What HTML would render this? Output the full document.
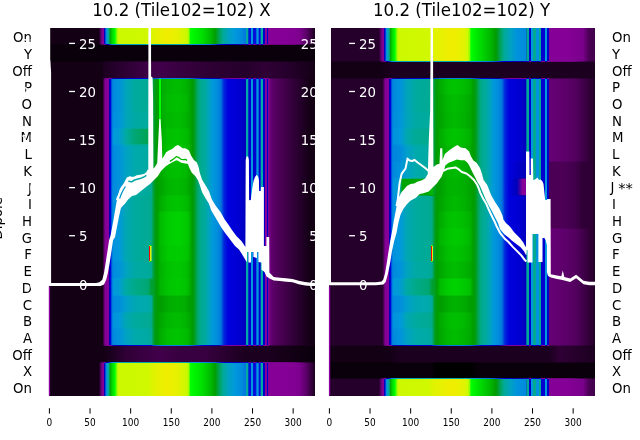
<!DOCTYPE html>
<html><head><meta charset="utf-8"><style>
html,body{margin:0;padding:0;background:#fff;width:640px;height:440px;overflow:hidden}
svg{display:block}
text{font-family:"DejaVu Sans","Liberation Sans",sans-serif}
</style></head><body>
<svg width="640" height="440" viewBox="0 0 640 440" shape-rendering="crispEdges">
<defs><linearGradient id="g1" x1="0" x2="1" y1="0" y2="0"><stop offset="0" stop-color="#130015"/><stop offset="0.1887" stop-color="#130015"/><stop offset="0.198" stop-color="#700080"/><stop offset="0.2056" stop-color="#860097"/><stop offset="0.2082" stop-color="#0300aa"/><stop offset="0.2112" stop-color="#0013dd"/><stop offset="0.215" stop-color="#008add"/><stop offset="0.2217" stop-color="#00a3bf"/><stop offset="0.2262" stop-color="#00aa88"/><stop offset="0.23" stop-color="#00a700"/><stop offset="0.2394" stop-color="#00dc00"/><stop offset="0.2488" stop-color="#00ff00"/><stop offset="0.2563" stop-color="#93ff00"/><stop offset="0.2619" stop-color="#ccf900"/><stop offset="0.3051" stop-color="#ccf900"/><stop offset="0.3728" stop-color="#d0f800"/><stop offset="0.3953" stop-color="#e0f300"/><stop offset="0.4179" stop-color="#e8f000"/><stop offset="0.4404" stop-color="#efed00"/><stop offset="0.463" stop-color="#ecef00"/><stop offset="0.4855" stop-color="#e4f100"/><stop offset="0.5043" stop-color="#d4f700"/><stop offset="0.5194" stop-color="#ccf900"/><stop offset="0.5269" stop-color="#93ff00"/><stop offset="0.5325" stop-color="#00ff00"/><stop offset="0.5494" stop-color="#00f200"/><stop offset="0.5795" stop-color="#00dc00"/><stop offset="0.6058" stop-color="#00bc00"/><stop offset="0.6246" stop-color="#009f00"/><stop offset="0.6396" stop-color="#00a353"/><stop offset="0.6546" stop-color="#00aa95"/><stop offset="0.6734" stop-color="#00a3bf"/><stop offset="0.6997" stop-color="#0098dd"/><stop offset="0.726" stop-color="#008add"/><stop offset="0.7392" stop-color="#0078dd"/><stop offset="0.7403" stop-color="#0013dd"/><stop offset="0.7415" stop-color="#00aaa3"/><stop offset="0.7497" stop-color="#00aaa3"/><stop offset="0.7508" stop-color="#0013dd"/><stop offset="0.7584" stop-color="#0013dd"/><stop offset="0.7595" stop-color="#0098dd"/><stop offset="0.7678" stop-color="#0098dd"/><stop offset="0.7689" stop-color="#0013dd"/><stop offset="0.7798" stop-color="#0013dd"/><stop offset="0.7809" stop-color="#0098dd"/><stop offset="0.7877" stop-color="#0098dd"/><stop offset="0.7888" stop-color="#0013dd"/><stop offset="0.7952" stop-color="#0013dd"/><stop offset="0.7963" stop-color="#00aaa3"/><stop offset="0.8035" stop-color="#00aaa3"/><stop offset="0.8046" stop-color="#0000d1"/><stop offset="0.8106" stop-color="#0000c9"/><stop offset="0.8117" stop-color="#870098"/><stop offset="0.8181" stop-color="#870098"/><stop offset="0.8192" stop-color="#0000d1"/><stop offset="0.8234" stop-color="#0000bd"/><stop offset="0.8249" stop-color="#860097"/><stop offset="0.8876" stop-color="#850096"/><stop offset="0.9215" stop-color="#830094"/><stop offset="0.944" stop-color="#7b008c"/><stop offset="0.9666" stop-color="#5d006b"/><stop offset="0.9853" stop-color="#380040"/><stop offset="1" stop-color="#1c0020"/></linearGradient><linearGradient id="g2" x1="0" x2="1" y1="0" y2="0"><stop offset="0" stop-color="#09000b"/><stop offset="1" stop-color="#09000b"/></linearGradient><linearGradient id="g3" x1="0" x2="1" y1="0" y2="0"><stop offset="0" stop-color="#130015"/><stop offset="0.1999" stop-color="#130015"/><stop offset="0.2074" stop-color="#1c0020"/><stop offset="0.2488" stop-color="#25002b"/><stop offset="0.3427" stop-color="#380040"/><stop offset="0.4179" stop-color="#41004b"/><stop offset="0.493" stop-color="#380040"/><stop offset="0.587" stop-color="#2f0035"/><stop offset="0.7373" stop-color="#25002b"/><stop offset="0.8125" stop-color="#2f0035"/><stop offset="0.9064" stop-color="#25002b"/><stop offset="1" stop-color="#130015"/></linearGradient><linearGradient id="g4" x1="0" x2="1" y1="0" y2="0"><stop offset="0" stop-color="#130015"/><stop offset="0.2029" stop-color="#130015"/><stop offset="0.2074" stop-color="#5d006b"/><stop offset="0.2131" stop-color="#850096"/><stop offset="0.2247" stop-color="#860097"/><stop offset="0.2277" stop-color="#0300aa"/><stop offset="0.2319" stop-color="#0000dd"/><stop offset="0.2375" stop-color="#0078dd"/><stop offset="0.2431" stop-color="#008add"/><stop offset="0.2638" stop-color="#0092dd"/><stop offset="0.2901" stop-color="#00a4bb"/><stop offset="0.3239" stop-color="#00aa9d"/><stop offset="0.3728" stop-color="#00aa95"/><stop offset="0.3859" stop-color="#00aa88"/><stop offset="0.3953" stop-color="#009e28"/><stop offset="0.4066" stop-color="#009c00"/><stop offset="0.4159" stop-color="#00a400"/><stop offset="0.416" stop-color="#00ff00"/><stop offset="0.4228" stop-color="#00ff00"/><stop offset="0.4228" stop-color="#00aa00"/><stop offset="0.448" stop-color="#00b700"/><stop offset="0.4855" stop-color="#00bc00"/><stop offset="0.5156" stop-color="#00b400"/><stop offset="0.5269" stop-color="#00aa00"/><stop offset="0.5381" stop-color="#009c00"/><stop offset="0.5475" stop-color="#009d1d"/><stop offset="0.5569" stop-color="#00a55d"/><stop offset="0.5682" stop-color="#00aa8b"/><stop offset="0.587" stop-color="#00aa9d"/><stop offset="0.602" stop-color="#00a3bf"/><stop offset="0.6171" stop-color="#0098dd"/><stop offset="0.6359" stop-color="#008add"/><stop offset="0.6471" stop-color="#0078dd"/><stop offset="0.6584" stop-color="#0025dd"/><stop offset="0.6734" stop-color="#0000dd"/><stop offset="0.7185" stop-color="#0000d1"/><stop offset="0.7392" stop-color="#0000bd"/><stop offset="0.7403" stop-color="#0000d1"/><stop offset="0.7415" stop-color="#00aaab"/><stop offset="0.7497" stop-color="#00aaab"/><stop offset="0.7508" stop-color="#0000d1"/><stop offset="0.7584" stop-color="#0000d1"/><stop offset="0.7595" stop-color="#0098dd"/><stop offset="0.7678" stop-color="#0098dd"/><stop offset="0.7689" stop-color="#0000d1"/><stop offset="0.7798" stop-color="#0000d1"/><stop offset="0.7809" stop-color="#0098dd"/><stop offset="0.7877" stop-color="#0098dd"/><stop offset="0.7888" stop-color="#0000d1"/><stop offset="0.7952" stop-color="#0000d1"/><stop offset="0.7963" stop-color="#00aaab"/><stop offset="0.8035" stop-color="#00aaab"/><stop offset="0.8046" stop-color="#0000d1"/><stop offset="0.8106" stop-color="#0000c9"/><stop offset="0.8117" stop-color="#870098"/><stop offset="0.8181" stop-color="#870098"/><stop offset="0.8192" stop-color="#0000d1"/><stop offset="0.8234" stop-color="#0000bd"/><stop offset="0.8249" stop-color="#850096"/><stop offset="0.8275" stop-color="#7a008b"/><stop offset="0.8388" stop-color="#5d006b"/><stop offset="0.8688" stop-color="#4b0055"/><stop offset="0.9064" stop-color="#380040"/><stop offset="0.944" stop-color="#25002b"/><stop offset="0.9816" stop-color="#130015"/><stop offset="1" stop-color="#130015"/></linearGradient><linearGradient id="g5" x1="0" x2="1" y1="0" y2="0"><stop offset="0" stop-color="#130015"/><stop offset="0.2029" stop-color="#130015"/><stop offset="0.2074" stop-color="#5d006b"/><stop offset="0.2131" stop-color="#850096"/><stop offset="0.2247" stop-color="#860097"/><stop offset="0.2277" stop-color="#0300aa"/><stop offset="0.2319" stop-color="#0000dd"/><stop offset="0.2375" stop-color="#0078dd"/><stop offset="0.2431" stop-color="#008add"/><stop offset="0.2638" stop-color="#0092dd"/><stop offset="0.2901" stop-color="#00a4bb"/><stop offset="0.3239" stop-color="#00aa9d"/><stop offset="0.3728" stop-color="#00aa95"/><stop offset="0.3859" stop-color="#00aa88"/><stop offset="0.3953" stop-color="#009e28"/><stop offset="0.4066" stop-color="#009c00"/><stop offset="0.4159" stop-color="#00a700"/><stop offset="0.416" stop-color="#00ff00"/><stop offset="0.4228" stop-color="#00ff00"/><stop offset="0.4228" stop-color="#00ac00"/><stop offset="0.448" stop-color="#00bc00"/><stop offset="0.4855" stop-color="#00bf00"/><stop offset="0.5156" stop-color="#00ba00"/><stop offset="0.5269" stop-color="#00ac00"/><stop offset="0.5381" stop-color="#009c00"/><stop offset="0.5475" stop-color="#009d1d"/><stop offset="0.5569" stop-color="#00a55d"/><stop offset="0.5682" stop-color="#00aa8b"/><stop offset="0.587" stop-color="#00aa9d"/><stop offset="0.602" stop-color="#00a3bf"/><stop offset="0.6171" stop-color="#0098dd"/><stop offset="0.6359" stop-color="#008add"/><stop offset="0.6471" stop-color="#0078dd"/><stop offset="0.6584" stop-color="#0025dd"/><stop offset="0.6734" stop-color="#0000dd"/><stop offset="0.7185" stop-color="#0000d1"/><stop offset="0.7392" stop-color="#0000bd"/><stop offset="0.7403" stop-color="#0000d1"/><stop offset="0.7415" stop-color="#00aaab"/><stop offset="0.7497" stop-color="#00aaab"/><stop offset="0.7508" stop-color="#0000d1"/><stop offset="0.7584" stop-color="#0000d1"/><stop offset="0.7595" stop-color="#0098dd"/><stop offset="0.7678" stop-color="#0098dd"/><stop offset="0.7689" stop-color="#0000d1"/><stop offset="0.7798" stop-color="#0000d1"/><stop offset="0.7809" stop-color="#0098dd"/><stop offset="0.7877" stop-color="#0098dd"/><stop offset="0.7888" stop-color="#0000d1"/><stop offset="0.7952" stop-color="#0000d1"/><stop offset="0.7963" stop-color="#00aaab"/><stop offset="0.8035" stop-color="#00aaab"/><stop offset="0.8046" stop-color="#0000d1"/><stop offset="0.8106" stop-color="#0000c9"/><stop offset="0.8117" stop-color="#870098"/><stop offset="0.8181" stop-color="#870098"/><stop offset="0.8192" stop-color="#0000d1"/><stop offset="0.8234" stop-color="#0000bd"/><stop offset="0.8249" stop-color="#850096"/><stop offset="0.8275" stop-color="#7a008b"/><stop offset="0.8388" stop-color="#5d006b"/><stop offset="0.8688" stop-color="#4b0055"/><stop offset="0.9064" stop-color="#380040"/><stop offset="0.944" stop-color="#25002b"/><stop offset="0.9816" stop-color="#130015"/><stop offset="1" stop-color="#130015"/></linearGradient><linearGradient id="g6" x1="0" x2="1" y1="0" y2="0"><stop offset="0" stop-color="#130015"/><stop offset="0.2029" stop-color="#130015"/><stop offset="0.2074" stop-color="#5d006b"/><stop offset="0.2131" stop-color="#850096"/><stop offset="0.2247" stop-color="#860097"/><stop offset="0.2277" stop-color="#0300aa"/><stop offset="0.2319" stop-color="#0000dd"/><stop offset="0.2375" stop-color="#0078dd"/><stop offset="0.2431" stop-color="#008ddd"/><stop offset="0.2638" stop-color="#0095dd"/><stop offset="0.2901" stop-color="#00a4bb"/><stop offset="0.3239" stop-color="#00aaa3"/><stop offset="0.3728" stop-color="#00aa9d"/><stop offset="0.3859" stop-color="#00aa90"/><stop offset="0.3953" stop-color="#009e28"/><stop offset="0.4066" stop-color="#009c00"/><stop offset="0.4159" stop-color="#00a400"/><stop offset="0.416" stop-color="#00ff00"/><stop offset="0.4228" stop-color="#00ff00"/><stop offset="0.4228" stop-color="#00aa00"/><stop offset="0.448" stop-color="#00b700"/><stop offset="0.4855" stop-color="#00bc00"/><stop offset="0.5156" stop-color="#00b400"/><stop offset="0.5269" stop-color="#00aa00"/><stop offset="0.5381" stop-color="#009c00"/><stop offset="0.5475" stop-color="#009d1d"/><stop offset="0.5569" stop-color="#00a55d"/><stop offset="0.5682" stop-color="#00aa8b"/><stop offset="0.587" stop-color="#00aa9d"/><stop offset="0.602" stop-color="#00a3bf"/><stop offset="0.6171" stop-color="#0098dd"/><stop offset="0.6359" stop-color="#008add"/><stop offset="0.6471" stop-color="#0078dd"/><stop offset="0.6584" stop-color="#0025dd"/><stop offset="0.6734" stop-color="#0000dd"/><stop offset="0.7185" stop-color="#0000d1"/><stop offset="0.7392" stop-color="#0000bd"/><stop offset="0.7403" stop-color="#0000d1"/><stop offset="0.7415" stop-color="#00aaab"/><stop offset="0.7497" stop-color="#00aaab"/><stop offset="0.7508" stop-color="#0000d1"/><stop offset="0.7584" stop-color="#0000d1"/><stop offset="0.7595" stop-color="#0098dd"/><stop offset="0.7678" stop-color="#0098dd"/><stop offset="0.7689" stop-color="#0000d1"/><stop offset="0.7798" stop-color="#0000d1"/><stop offset="0.7809" stop-color="#0098dd"/><stop offset="0.7877" stop-color="#0098dd"/><stop offset="0.7888" stop-color="#0000d1"/><stop offset="0.7952" stop-color="#0000d1"/><stop offset="0.7963" stop-color="#00aaab"/><stop offset="0.8035" stop-color="#00aaab"/><stop offset="0.8046" stop-color="#0000d1"/><stop offset="0.8106" stop-color="#0000c9"/><stop offset="0.8117" stop-color="#870098"/><stop offset="0.8181" stop-color="#870098"/><stop offset="0.8192" stop-color="#0000d1"/><stop offset="0.8234" stop-color="#0000bd"/><stop offset="0.8249" stop-color="#850096"/><stop offset="0.8275" stop-color="#7a008b"/><stop offset="0.8388" stop-color="#5d006b"/><stop offset="0.8688" stop-color="#4b0055"/><stop offset="0.9064" stop-color="#380040"/><stop offset="0.944" stop-color="#25002b"/><stop offset="0.9816" stop-color="#130015"/><stop offset="1" stop-color="#130015"/></linearGradient><linearGradient id="g7" x1="0" x2="1" y1="0" y2="0"><stop offset="0" stop-color="#130015"/><stop offset="0.2029" stop-color="#130015"/><stop offset="0.2074" stop-color="#5d006b"/><stop offset="0.2131" stop-color="#850096"/><stop offset="0.2247" stop-color="#860097"/><stop offset="0.2277" stop-color="#0300aa"/><stop offset="0.2319" stop-color="#0000dd"/><stop offset="0.2375" stop-color="#0078dd"/><stop offset="0.2431" stop-color="#0098dd"/><stop offset="0.2638" stop-color="#009cd3"/><stop offset="0.2901" stop-color="#00aaa0"/><stop offset="0.3239" stop-color="#00a773"/><stop offset="0.3728" stop-color="#00a353"/><stop offset="0.3859" stop-color="#009d1d"/><stop offset="0.3953" stop-color="#009e28"/><stop offset="0.4066" stop-color="#009c00"/><stop offset="0.4198" stop-color="#00ac00"/><stop offset="0.448" stop-color="#00bf00"/><stop offset="0.4855" stop-color="#00c400"/><stop offset="0.5156" stop-color="#00bc00"/><stop offset="0.5269" stop-color="#00b200"/><stop offset="0.5381" stop-color="#009c00"/><stop offset="0.5475" stop-color="#009d1d"/><stop offset="0.5569" stop-color="#00a55d"/><stop offset="0.5682" stop-color="#00aa8b"/><stop offset="0.587" stop-color="#00aa9d"/><stop offset="0.602" stop-color="#00a3bf"/><stop offset="0.6171" stop-color="#0098dd"/><stop offset="0.6359" stop-color="#008add"/><stop offset="0.6471" stop-color="#0078dd"/><stop offset="0.6584" stop-color="#0025dd"/><stop offset="0.6734" stop-color="#0000dd"/><stop offset="0.7185" stop-color="#0000d1"/><stop offset="0.7392" stop-color="#0000bd"/><stop offset="0.7403" stop-color="#0000d1"/><stop offset="0.7415" stop-color="#00aaab"/><stop offset="0.7497" stop-color="#00aaab"/><stop offset="0.7508" stop-color="#0000d1"/><stop offset="0.7584" stop-color="#0000d1"/><stop offset="0.7595" stop-color="#0098dd"/><stop offset="0.7678" stop-color="#0098dd"/><stop offset="0.7689" stop-color="#0000d1"/><stop offset="0.7798" stop-color="#0000d1"/><stop offset="0.7809" stop-color="#0098dd"/><stop offset="0.7877" stop-color="#0098dd"/><stop offset="0.7888" stop-color="#0000d1"/><stop offset="0.7952" stop-color="#0000d1"/><stop offset="0.7963" stop-color="#00aaab"/><stop offset="0.8035" stop-color="#00aaab"/><stop offset="0.8046" stop-color="#0000d1"/><stop offset="0.8106" stop-color="#0000c9"/><stop offset="0.8117" stop-color="#870098"/><stop offset="0.8181" stop-color="#870098"/><stop offset="0.8192" stop-color="#0000d1"/><stop offset="0.8234" stop-color="#0000bd"/><stop offset="0.8249" stop-color="#850096"/><stop offset="0.8275" stop-color="#7a008b"/><stop offset="0.8388" stop-color="#5d006b"/><stop offset="0.8688" stop-color="#4b0055"/><stop offset="0.9064" stop-color="#380040"/><stop offset="0.944" stop-color="#25002b"/><stop offset="0.9816" stop-color="#130015"/><stop offset="1" stop-color="#130015"/></linearGradient><linearGradient id="g8" x1="0" x2="1" y1="0" y2="0"><stop offset="0" stop-color="#130015"/><stop offset="0.2029" stop-color="#130015"/><stop offset="0.2074" stop-color="#5d006b"/><stop offset="0.2131" stop-color="#850096"/><stop offset="0.2247" stop-color="#860097"/><stop offset="0.2277" stop-color="#0300aa"/><stop offset="0.2319" stop-color="#0000dd"/><stop offset="0.2375" stop-color="#0078dd"/><stop offset="0.2431" stop-color="#008add"/><stop offset="0.2638" stop-color="#0092dd"/><stop offset="0.2901" stop-color="#00a2c3"/><stop offset="0.3239" stop-color="#00aaab"/><stop offset="0.3728" stop-color="#00aaa3"/><stop offset="0.3859" stop-color="#00aa95"/><stop offset="0.3953" stop-color="#009e28"/><stop offset="0.4066" stop-color="#009c00"/><stop offset="0.4198" stop-color="#00b200"/><stop offset="0.448" stop-color="#00c200"/><stop offset="0.4855" stop-color="#00c700"/><stop offset="0.5156" stop-color="#00bf00"/><stop offset="0.5269" stop-color="#00b400"/><stop offset="0.5381" stop-color="#009c00"/><stop offset="0.5475" stop-color="#009d1d"/><stop offset="0.5569" stop-color="#00a55d"/><stop offset="0.5682" stop-color="#00aa8b"/><stop offset="0.587" stop-color="#00aa9d"/><stop offset="0.602" stop-color="#00a3bf"/><stop offset="0.6171" stop-color="#0098dd"/><stop offset="0.6359" stop-color="#008add"/><stop offset="0.6471" stop-color="#0078dd"/><stop offset="0.6584" stop-color="#0025dd"/><stop offset="0.6734" stop-color="#0000dd"/><stop offset="0.7185" stop-color="#0000d1"/><stop offset="0.7392" stop-color="#0000bd"/><stop offset="0.7403" stop-color="#0000d1"/><stop offset="0.7415" stop-color="#00aaab"/><stop offset="0.7497" stop-color="#00aaab"/><stop offset="0.7508" stop-color="#0000d1"/><stop offset="0.7584" stop-color="#0000d1"/><stop offset="0.7595" stop-color="#0098dd"/><stop offset="0.7678" stop-color="#0098dd"/><stop offset="0.7689" stop-color="#0000d1"/><stop offset="0.7798" stop-color="#0000d1"/><stop offset="0.7809" stop-color="#0098dd"/><stop offset="0.7877" stop-color="#0098dd"/><stop offset="0.7888" stop-color="#0000d1"/><stop offset="0.7952" stop-color="#0000d1"/><stop offset="0.7963" stop-color="#00aaab"/><stop offset="0.8035" stop-color="#00aaab"/><stop offset="0.8046" stop-color="#0000d1"/><stop offset="0.8106" stop-color="#0000c9"/><stop offset="0.8117" stop-color="#870098"/><stop offset="0.8181" stop-color="#870098"/><stop offset="0.8192" stop-color="#0000d1"/><stop offset="0.8234" stop-color="#0000bd"/><stop offset="0.8249" stop-color="#850096"/><stop offset="0.8275" stop-color="#7a008b"/><stop offset="0.8388" stop-color="#5d006b"/><stop offset="0.8688" stop-color="#4b0055"/><stop offset="0.9064" stop-color="#380040"/><stop offset="0.944" stop-color="#25002b"/><stop offset="0.9816" stop-color="#130015"/><stop offset="1" stop-color="#130015"/></linearGradient><linearGradient id="g9" x1="0" x2="1" y1="0" y2="0"><stop offset="0" stop-color="#130015"/><stop offset="0.2029" stop-color="#130015"/><stop offset="0.2074" stop-color="#5d006b"/><stop offset="0.2131" stop-color="#850096"/><stop offset="0.2247" stop-color="#860097"/><stop offset="0.2277" stop-color="#0300aa"/><stop offset="0.2319" stop-color="#0000dd"/><stop offset="0.2375" stop-color="#0078dd"/><stop offset="0.2431" stop-color="#008add"/><stop offset="0.2638" stop-color="#0092dd"/><stop offset="0.2901" stop-color="#00a2c3"/><stop offset="0.3239" stop-color="#00aaab"/><stop offset="0.3728" stop-color="#00aaa3"/><stop offset="0.3859" stop-color="#00aa95"/><stop offset="0.3953" stop-color="#009e28"/><stop offset="0.4066" stop-color="#009c00"/><stop offset="0.4198" stop-color="#00aa00"/><stop offset="0.448" stop-color="#00bc00"/><stop offset="0.4855" stop-color="#00bf00"/><stop offset="0.5156" stop-color="#00ba00"/><stop offset="0.5269" stop-color="#00ac00"/><stop offset="0.5381" stop-color="#009c00"/><stop offset="0.5475" stop-color="#009d1d"/><stop offset="0.5569" stop-color="#00a55d"/><stop offset="0.5682" stop-color="#00aa8b"/><stop offset="0.587" stop-color="#00aa9d"/><stop offset="0.602" stop-color="#00a3bf"/><stop offset="0.6171" stop-color="#0098dd"/><stop offset="0.6359" stop-color="#008add"/><stop offset="0.6471" stop-color="#0078dd"/><stop offset="0.6584" stop-color="#0025dd"/><stop offset="0.6734" stop-color="#0000dd"/><stop offset="0.7185" stop-color="#0000d1"/><stop offset="0.7392" stop-color="#0000bd"/><stop offset="0.7403" stop-color="#0000d1"/><stop offset="0.7415" stop-color="#00aaab"/><stop offset="0.7497" stop-color="#00aaab"/><stop offset="0.7508" stop-color="#0000d1"/><stop offset="0.7584" stop-color="#0000d1"/><stop offset="0.7595" stop-color="#0098dd"/><stop offset="0.7678" stop-color="#0098dd"/><stop offset="0.7689" stop-color="#0000d1"/><stop offset="0.7798" stop-color="#0000d1"/><stop offset="0.7809" stop-color="#0098dd"/><stop offset="0.7877" stop-color="#0098dd"/><stop offset="0.7888" stop-color="#0000d1"/><stop offset="0.7952" stop-color="#0000d1"/><stop offset="0.7963" stop-color="#00aaab"/><stop offset="0.8035" stop-color="#00aaab"/><stop offset="0.8046" stop-color="#0000d1"/><stop offset="0.8106" stop-color="#0000c9"/><stop offset="0.8117" stop-color="#870098"/><stop offset="0.8181" stop-color="#870098"/><stop offset="0.8192" stop-color="#0000d1"/><stop offset="0.8234" stop-color="#0000bd"/><stop offset="0.8249" stop-color="#850096"/><stop offset="0.8275" stop-color="#7a008b"/><stop offset="0.8388" stop-color="#5d006b"/><stop offset="0.8688" stop-color="#4b0055"/><stop offset="0.9064" stop-color="#380040"/><stop offset="0.944" stop-color="#25002b"/><stop offset="0.9816" stop-color="#130015"/><stop offset="1" stop-color="#130015"/></linearGradient><linearGradient id="g10" x1="0" x2="1" y1="0" y2="0"><stop offset="0" stop-color="#130015"/><stop offset="0.2029" stop-color="#130015"/><stop offset="0.2074" stop-color="#5d006b"/><stop offset="0.2131" stop-color="#850096"/><stop offset="0.2247" stop-color="#860097"/><stop offset="0.2277" stop-color="#0300aa"/><stop offset="0.2319" stop-color="#0000dd"/><stop offset="0.2375" stop-color="#0078dd"/><stop offset="0.2431" stop-color="#008add"/><stop offset="0.2638" stop-color="#0092dd"/><stop offset="0.2901" stop-color="#00a3bf"/><stop offset="0.3239" stop-color="#00aaa3"/><stop offset="0.3728" stop-color="#00aa9d"/><stop offset="0.3859" stop-color="#00aa90"/><stop offset="0.3953" stop-color="#009e28"/><stop offset="0.4066" stop-color="#009c00"/><stop offset="0.4198" stop-color="#00a400"/><stop offset="0.448" stop-color="#00b400"/><stop offset="0.4855" stop-color="#00ba00"/><stop offset="0.5156" stop-color="#00b200"/><stop offset="0.5269" stop-color="#00a700"/><stop offset="0.5381" stop-color="#009c00"/><stop offset="0.5475" stop-color="#009d1d"/><stop offset="0.5569" stop-color="#00a55d"/><stop offset="0.5682" stop-color="#00aa8b"/><stop offset="0.587" stop-color="#00aa9d"/><stop offset="0.602" stop-color="#00a3bf"/><stop offset="0.6171" stop-color="#0098dd"/><stop offset="0.6359" stop-color="#008add"/><stop offset="0.6471" stop-color="#0078dd"/><stop offset="0.6584" stop-color="#0025dd"/><stop offset="0.6734" stop-color="#0000dd"/><stop offset="0.7185" stop-color="#0000d1"/><stop offset="0.7392" stop-color="#0000bd"/><stop offset="0.7403" stop-color="#0000d1"/><stop offset="0.7415" stop-color="#00aaab"/><stop offset="0.7497" stop-color="#00aaab"/><stop offset="0.7508" stop-color="#0000d1"/><stop offset="0.7584" stop-color="#0000d1"/><stop offset="0.7595" stop-color="#0098dd"/><stop offset="0.7678" stop-color="#0098dd"/><stop offset="0.7689" stop-color="#0000d1"/><stop offset="0.7798" stop-color="#0000d1"/><stop offset="0.7809" stop-color="#0098dd"/><stop offset="0.7877" stop-color="#0098dd"/><stop offset="0.7888" stop-color="#0000d1"/><stop offset="0.7952" stop-color="#0000d1"/><stop offset="0.7963" stop-color="#00aaab"/><stop offset="0.8035" stop-color="#00aaab"/><stop offset="0.8046" stop-color="#0000d1"/><stop offset="0.8106" stop-color="#0000c9"/><stop offset="0.8117" stop-color="#870098"/><stop offset="0.8181" stop-color="#870098"/><stop offset="0.8192" stop-color="#0000d1"/><stop offset="0.8234" stop-color="#0000bd"/><stop offset="0.8249" stop-color="#850096"/><stop offset="0.8275" stop-color="#7a008b"/><stop offset="0.8388" stop-color="#5d006b"/><stop offset="0.8688" stop-color="#4b0055"/><stop offset="0.9064" stop-color="#380040"/><stop offset="0.944" stop-color="#25002b"/><stop offset="0.9816" stop-color="#130015"/><stop offset="1" stop-color="#130015"/></linearGradient><linearGradient id="g11" x1="0" x2="1" y1="0" y2="0"><stop offset="0" stop-color="#130015"/><stop offset="0.2029" stop-color="#130015"/><stop offset="0.2074" stop-color="#5d006b"/><stop offset="0.2131" stop-color="#850096"/><stop offset="0.2247" stop-color="#860097"/><stop offset="0.2277" stop-color="#0300aa"/><stop offset="0.2319" stop-color="#0000dd"/><stop offset="0.2375" stop-color="#0078dd"/><stop offset="0.2431" stop-color="#0092dd"/><stop offset="0.2638" stop-color="#0098dd"/><stop offset="0.2901" stop-color="#00a7b3"/><stop offset="0.3239" stop-color="#00aa9d"/><stop offset="0.3728" stop-color="#00aa95"/><stop offset="0.3859" stop-color="#00aa88"/><stop offset="0.3953" stop-color="#009e28"/><stop offset="0.4066" stop-color="#009c00"/><stop offset="0.4198" stop-color="#00ac00"/><stop offset="0.448" stop-color="#00bf00"/><stop offset="0.4855" stop-color="#00c400"/><stop offset="0.5156" stop-color="#00bc00"/><stop offset="0.5269" stop-color="#00b200"/><stop offset="0.5381" stop-color="#009c00"/><stop offset="0.5475" stop-color="#009d1d"/><stop offset="0.5569" stop-color="#00a55d"/><stop offset="0.5682" stop-color="#00aa8b"/><stop offset="0.587" stop-color="#00aa9d"/><stop offset="0.602" stop-color="#00a3bf"/><stop offset="0.6171" stop-color="#0098dd"/><stop offset="0.6359" stop-color="#008add"/><stop offset="0.6471" stop-color="#0078dd"/><stop offset="0.6584" stop-color="#0025dd"/><stop offset="0.6734" stop-color="#0000dd"/><stop offset="0.7185" stop-color="#0000d1"/><stop offset="0.7392" stop-color="#0000bd"/><stop offset="0.7403" stop-color="#0000d1"/><stop offset="0.7415" stop-color="#00aaab"/><stop offset="0.7497" stop-color="#00aaab"/><stop offset="0.7508" stop-color="#0000d1"/><stop offset="0.7584" stop-color="#0000d1"/><stop offset="0.7595" stop-color="#0098dd"/><stop offset="0.7678" stop-color="#0098dd"/><stop offset="0.7689" stop-color="#0000d1"/><stop offset="0.7798" stop-color="#0000d1"/><stop offset="0.7809" stop-color="#0098dd"/><stop offset="0.7877" stop-color="#0098dd"/><stop offset="0.7888" stop-color="#0000d1"/><stop offset="0.7952" stop-color="#0000d1"/><stop offset="0.7963" stop-color="#00aaab"/><stop offset="0.8035" stop-color="#00aaab"/><stop offset="0.8046" stop-color="#0000d1"/><stop offset="0.8106" stop-color="#0000c9"/><stop offset="0.8117" stop-color="#870098"/><stop offset="0.8181" stop-color="#870098"/><stop offset="0.8192" stop-color="#0000d1"/><stop offset="0.8234" stop-color="#0000bd"/><stop offset="0.8249" stop-color="#850096"/><stop offset="0.8275" stop-color="#7a008b"/><stop offset="0.8388" stop-color="#5d006b"/><stop offset="0.8688" stop-color="#4b0055"/><stop offset="0.9064" stop-color="#380040"/><stop offset="0.944" stop-color="#25002b"/><stop offset="0.9816" stop-color="#130015"/><stop offset="1" stop-color="#130015"/></linearGradient><linearGradient id="g12" x1="0" x2="1" y1="0" y2="0"><stop offset="0" stop-color="#130015"/><stop offset="0.2029" stop-color="#130015"/><stop offset="0.2074" stop-color="#5d006b"/><stop offset="0.2131" stop-color="#850096"/><stop offset="0.2247" stop-color="#860097"/><stop offset="0.2277" stop-color="#0300aa"/><stop offset="0.2319" stop-color="#0000dd"/><stop offset="0.2375" stop-color="#0078dd"/><stop offset="0.2431" stop-color="#0092dd"/><stop offset="0.2638" stop-color="#0098dd"/><stop offset="0.2901" stop-color="#00a7b3"/><stop offset="0.3239" stop-color="#00aa9d"/><stop offset="0.3728" stop-color="#00aa95"/><stop offset="0.3859" stop-color="#00aa88"/><stop offset="0.3953" stop-color="#009e28"/><stop offset="0.4066" stop-color="#009c00"/><stop offset="0.4198" stop-color="#00bc00"/><stop offset="0.448" stop-color="#00cc00"/><stop offset="0.4855" stop-color="#00d200"/><stop offset="0.5156" stop-color="#00ca00"/><stop offset="0.5269" stop-color="#00bf00"/><stop offset="0.5381" stop-color="#009c00"/><stop offset="0.5475" stop-color="#009d1d"/><stop offset="0.5569" stop-color="#00a55d"/><stop offset="0.5682" stop-color="#00aa8b"/><stop offset="0.587" stop-color="#00aa9d"/><stop offset="0.602" stop-color="#00a3bf"/><stop offset="0.6171" stop-color="#0098dd"/><stop offset="0.6359" stop-color="#008add"/><stop offset="0.6471" stop-color="#0078dd"/><stop offset="0.6584" stop-color="#0025dd"/><stop offset="0.6734" stop-color="#0000dd"/><stop offset="0.7185" stop-color="#0000d1"/><stop offset="0.7392" stop-color="#0000bd"/><stop offset="0.7403" stop-color="#0000d1"/><stop offset="0.7415" stop-color="#00aaab"/><stop offset="0.7497" stop-color="#00aaab"/><stop offset="0.7508" stop-color="#0000d1"/><stop offset="0.7584" stop-color="#0000d1"/><stop offset="0.7595" stop-color="#0098dd"/><stop offset="0.7678" stop-color="#0098dd"/><stop offset="0.7689" stop-color="#0000d1"/><stop offset="0.7798" stop-color="#0000d1"/><stop offset="0.7809" stop-color="#0098dd"/><stop offset="0.7877" stop-color="#0098dd"/><stop offset="0.7888" stop-color="#0000d1"/><stop offset="0.7952" stop-color="#0000d1"/><stop offset="0.7963" stop-color="#00aaab"/><stop offset="0.8035" stop-color="#00aaab"/><stop offset="0.8046" stop-color="#0000d1"/><stop offset="0.8106" stop-color="#0000c9"/><stop offset="0.8117" stop-color="#870098"/><stop offset="0.8181" stop-color="#870098"/><stop offset="0.8192" stop-color="#0000d1"/><stop offset="0.8234" stop-color="#0000bd"/><stop offset="0.8249" stop-color="#850096"/><stop offset="0.8275" stop-color="#7a008b"/><stop offset="0.8388" stop-color="#5d006b"/><stop offset="0.8688" stop-color="#4b0055"/><stop offset="0.9064" stop-color="#380040"/><stop offset="0.944" stop-color="#25002b"/><stop offset="0.9816" stop-color="#130015"/><stop offset="1" stop-color="#130015"/></linearGradient><linearGradient id="g13" x1="0" x2="1" y1="0" y2="0"><stop offset="0" stop-color="#130015"/><stop offset="0.2029" stop-color="#130015"/><stop offset="0.2074" stop-color="#5d006b"/><stop offset="0.2131" stop-color="#850096"/><stop offset="0.2247" stop-color="#860097"/><stop offset="0.2277" stop-color="#0300aa"/><stop offset="0.2319" stop-color="#0000dd"/><stop offset="0.2375" stop-color="#0078dd"/><stop offset="0.2431" stop-color="#0092dd"/><stop offset="0.2638" stop-color="#0098dd"/><stop offset="0.2901" stop-color="#00a7b3"/><stop offset="0.3239" stop-color="#00aa9d"/><stop offset="0.3728" stop-color="#00aa95"/><stop offset="0.3859" stop-color="#00aa88"/><stop offset="0.3953" stop-color="#009e28"/><stop offset="0.4066" stop-color="#009c00"/><stop offset="0.4198" stop-color="#00bc00"/><stop offset="0.448" stop-color="#00cc00"/><stop offset="0.4855" stop-color="#00d200"/><stop offset="0.5156" stop-color="#00ca00"/><stop offset="0.5269" stop-color="#00bf00"/><stop offset="0.5381" stop-color="#009c00"/><stop offset="0.5475" stop-color="#009d1d"/><stop offset="0.5569" stop-color="#00a55d"/><stop offset="0.5682" stop-color="#00aa8b"/><stop offset="0.587" stop-color="#00aa9d"/><stop offset="0.602" stop-color="#00a3bf"/><stop offset="0.6171" stop-color="#0098dd"/><stop offset="0.6359" stop-color="#008add"/><stop offset="0.6471" stop-color="#0078dd"/><stop offset="0.6584" stop-color="#0025dd"/><stop offset="0.6734" stop-color="#0000dd"/><stop offset="0.7185" stop-color="#0000d1"/><stop offset="0.7392" stop-color="#0000bd"/><stop offset="0.7403" stop-color="#0000d1"/><stop offset="0.7415" stop-color="#00aaab"/><stop offset="0.7497" stop-color="#00aaab"/><stop offset="0.7508" stop-color="#0000d1"/><stop offset="0.7584" stop-color="#0000d1"/><stop offset="0.7595" stop-color="#0098dd"/><stop offset="0.7678" stop-color="#0098dd"/><stop offset="0.7689" stop-color="#0000d1"/><stop offset="0.7798" stop-color="#0000d1"/><stop offset="0.7809" stop-color="#0098dd"/><stop offset="0.7877" stop-color="#0098dd"/><stop offset="0.7888" stop-color="#0000d1"/><stop offset="0.7952" stop-color="#0000d1"/><stop offset="0.7963" stop-color="#00aaab"/><stop offset="0.8035" stop-color="#00aaab"/><stop offset="0.8046" stop-color="#0000d1"/><stop offset="0.8106" stop-color="#0000c9"/><stop offset="0.8117" stop-color="#870098"/><stop offset="0.8181" stop-color="#870098"/><stop offset="0.8192" stop-color="#0000d1"/><stop offset="0.8234" stop-color="#0000bd"/><stop offset="0.8249" stop-color="#850096"/><stop offset="0.8275" stop-color="#7a008b"/><stop offset="0.8388" stop-color="#5d006b"/><stop offset="0.8688" stop-color="#4b0055"/><stop offset="0.9064" stop-color="#380040"/><stop offset="0.944" stop-color="#25002b"/><stop offset="0.9816" stop-color="#130015"/><stop offset="1" stop-color="#130015"/></linearGradient><linearGradient id="g14" x1="0" x2="1" y1="0" y2="0"><stop offset="0" stop-color="#130015"/><stop offset="0.2029" stop-color="#130015"/><stop offset="0.2074" stop-color="#5d006b"/><stop offset="0.2131" stop-color="#850096"/><stop offset="0.2247" stop-color="#860097"/><stop offset="0.2277" stop-color="#0300aa"/><stop offset="0.2319" stop-color="#0000dd"/><stop offset="0.2375" stop-color="#0078dd"/><stop offset="0.2431" stop-color="#0092dd"/><stop offset="0.2638" stop-color="#0098dd"/><stop offset="0.2901" stop-color="#00a7b3"/><stop offset="0.3239" stop-color="#00aa9d"/><stop offset="0.3728" stop-color="#00aa95"/><stop offset="0.3761" stop-color="#00aa93"/><stop offset="0.3762" stop-color="#f60000"/><stop offset="0.3799" stop-color="#f60000"/><stop offset="0.38" stop-color="#00aa8d"/><stop offset="0.3806" stop-color="#00aa8d"/><stop offset="0.3807" stop-color="#dcf400"/><stop offset="0.3859" stop-color="#dcf400"/><stop offset="0.386" stop-color="#00aa88"/><stop offset="0.3953" stop-color="#009e28"/><stop offset="0.4066" stop-color="#009c00"/><stop offset="0.4198" stop-color="#00b700"/><stop offset="0.448" stop-color="#00ca00"/><stop offset="0.4855" stop-color="#00cc00"/><stop offset="0.5156" stop-color="#00c700"/><stop offset="0.5269" stop-color="#00bc00"/><stop offset="0.5381" stop-color="#009c00"/><stop offset="0.5475" stop-color="#009d1d"/><stop offset="0.5569" stop-color="#00a55d"/><stop offset="0.5682" stop-color="#00aa8b"/><stop offset="0.587" stop-color="#00aa9d"/><stop offset="0.602" stop-color="#00a3bf"/><stop offset="0.6171" stop-color="#0098dd"/><stop offset="0.6359" stop-color="#008add"/><stop offset="0.6471" stop-color="#0078dd"/><stop offset="0.6584" stop-color="#0025dd"/><stop offset="0.6734" stop-color="#0000dd"/><stop offset="0.7185" stop-color="#0000d1"/><stop offset="0.7392" stop-color="#0000bd"/><stop offset="0.7403" stop-color="#0000d1"/><stop offset="0.7415" stop-color="#00aaab"/><stop offset="0.7497" stop-color="#00aaab"/><stop offset="0.7508" stop-color="#0000d1"/><stop offset="0.7584" stop-color="#0000d1"/><stop offset="0.7595" stop-color="#0098dd"/><stop offset="0.7678" stop-color="#0098dd"/><stop offset="0.7689" stop-color="#0000d1"/><stop offset="0.7798" stop-color="#0000d1"/><stop offset="0.7809" stop-color="#0098dd"/><stop offset="0.7877" stop-color="#0098dd"/><stop offset="0.7888" stop-color="#0000d1"/><stop offset="0.7952" stop-color="#0000d1"/><stop offset="0.7963" stop-color="#00aaab"/><stop offset="0.8035" stop-color="#00aaab"/><stop offset="0.8046" stop-color="#0000d1"/><stop offset="0.8106" stop-color="#0000c9"/><stop offset="0.8117" stop-color="#870098"/><stop offset="0.8181" stop-color="#870098"/><stop offset="0.8192" stop-color="#0000d1"/><stop offset="0.8234" stop-color="#0000bd"/><stop offset="0.8249" stop-color="#850096"/><stop offset="0.8275" stop-color="#7a008b"/><stop offset="0.8388" stop-color="#5d006b"/><stop offset="0.8688" stop-color="#4b0055"/><stop offset="0.9064" stop-color="#380040"/><stop offset="0.944" stop-color="#25002b"/><stop offset="0.9816" stop-color="#130015"/><stop offset="1" stop-color="#130015"/></linearGradient><linearGradient id="g15" x1="0" x2="1" y1="0" y2="0"><stop offset="0" stop-color="#130015"/><stop offset="0.2029" stop-color="#130015"/><stop offset="0.2074" stop-color="#5d006b"/><stop offset="0.2131" stop-color="#850096"/><stop offset="0.2247" stop-color="#860097"/><stop offset="0.2277" stop-color="#0300aa"/><stop offset="0.2319" stop-color="#0000dd"/><stop offset="0.2375" stop-color="#0078dd"/><stop offset="0.2431" stop-color="#008add"/><stop offset="0.2638" stop-color="#0092dd"/><stop offset="0.2901" stop-color="#00a3bf"/><stop offset="0.3239" stop-color="#00aaa3"/><stop offset="0.3728" stop-color="#00aa9d"/><stop offset="0.3859" stop-color="#00aa90"/><stop offset="0.3953" stop-color="#009e28"/><stop offset="0.4066" stop-color="#009c00"/><stop offset="0.4198" stop-color="#00b200"/><stop offset="0.448" stop-color="#00c200"/><stop offset="0.4855" stop-color="#00c700"/><stop offset="0.5156" stop-color="#00bf00"/><stop offset="0.5269" stop-color="#00b400"/><stop offset="0.5381" stop-color="#009c00"/><stop offset="0.5475" stop-color="#009d1d"/><stop offset="0.5569" stop-color="#00a55d"/><stop offset="0.5682" stop-color="#00aa8b"/><stop offset="0.587" stop-color="#00aa9d"/><stop offset="0.602" stop-color="#00a3bf"/><stop offset="0.6171" stop-color="#0098dd"/><stop offset="0.6359" stop-color="#008add"/><stop offset="0.6471" stop-color="#0078dd"/><stop offset="0.6584" stop-color="#0025dd"/><stop offset="0.6734" stop-color="#0000dd"/><stop offset="0.7185" stop-color="#0000d1"/><stop offset="0.7392" stop-color="#0000bd"/><stop offset="0.7403" stop-color="#0000d1"/><stop offset="0.7415" stop-color="#00aaab"/><stop offset="0.7497" stop-color="#00aaab"/><stop offset="0.7508" stop-color="#0000d1"/><stop offset="0.7584" stop-color="#0000d1"/><stop offset="0.7595" stop-color="#0098dd"/><stop offset="0.7678" stop-color="#0098dd"/><stop offset="0.7689" stop-color="#0000d1"/><stop offset="0.7798" stop-color="#0000d1"/><stop offset="0.7809" stop-color="#0098dd"/><stop offset="0.7877" stop-color="#0098dd"/><stop offset="0.7888" stop-color="#0000d1"/><stop offset="0.7952" stop-color="#0000d1"/><stop offset="0.7963" stop-color="#00aaab"/><stop offset="0.8035" stop-color="#00aaab"/><stop offset="0.8046" stop-color="#0000d1"/><stop offset="0.8106" stop-color="#0000c9"/><stop offset="0.8117" stop-color="#870098"/><stop offset="0.8181" stop-color="#870098"/><stop offset="0.8192" stop-color="#0000d1"/><stop offset="0.8234" stop-color="#0000bd"/><stop offset="0.8249" stop-color="#850096"/><stop offset="0.8275" stop-color="#7a008b"/><stop offset="0.8388" stop-color="#5d006b"/><stop offset="0.8688" stop-color="#4b0055"/><stop offset="0.9064" stop-color="#380040"/><stop offset="0.944" stop-color="#25002b"/><stop offset="0.9816" stop-color="#130015"/><stop offset="1" stop-color="#130015"/></linearGradient><linearGradient id="g16" x1="0" x2="1" y1="0" y2="0"><stop offset="0" stop-color="#130015"/><stop offset="0.2029" stop-color="#130015"/><stop offset="0.2074" stop-color="#5d006b"/><stop offset="0.2131" stop-color="#850096"/><stop offset="0.2247" stop-color="#860097"/><stop offset="0.2277" stop-color="#0300aa"/><stop offset="0.2319" stop-color="#0000dd"/><stop offset="0.2375" stop-color="#0078dd"/><stop offset="0.2431" stop-color="#0098dd"/><stop offset="0.2638" stop-color="#009cd3"/><stop offset="0.2901" stop-color="#00aaa3"/><stop offset="0.3239" stop-color="#00aa88"/><stop offset="0.3728" stop-color="#00a773"/><stop offset="0.3859" stop-color="#009f33"/><stop offset="0.3953" stop-color="#009e28"/><stop offset="0.4066" stop-color="#009c00"/><stop offset="0.4198" stop-color="#00b400"/><stop offset="0.448" stop-color="#00c400"/><stop offset="0.4855" stop-color="#00ca00"/><stop offset="0.5156" stop-color="#00c400"/><stop offset="0.5269" stop-color="#00b700"/><stop offset="0.5381" stop-color="#009c00"/><stop offset="0.5475" stop-color="#009d1d"/><stop offset="0.5569" stop-color="#00a55d"/><stop offset="0.5682" stop-color="#00aa8b"/><stop offset="0.587" stop-color="#00aa9d"/><stop offset="0.602" stop-color="#00a3bf"/><stop offset="0.6171" stop-color="#0098dd"/><stop offset="0.6359" stop-color="#008add"/><stop offset="0.6471" stop-color="#0078dd"/><stop offset="0.6584" stop-color="#0025dd"/><stop offset="0.6734" stop-color="#0000dd"/><stop offset="0.7185" stop-color="#0000d1"/><stop offset="0.7392" stop-color="#0000bd"/><stop offset="0.7403" stop-color="#0000d1"/><stop offset="0.7415" stop-color="#00aaab"/><stop offset="0.7497" stop-color="#00aaab"/><stop offset="0.7508" stop-color="#0000d1"/><stop offset="0.7584" stop-color="#0000d1"/><stop offset="0.7595" stop-color="#0098dd"/><stop offset="0.7678" stop-color="#0098dd"/><stop offset="0.7689" stop-color="#0000d1"/><stop offset="0.7798" stop-color="#0000d1"/><stop offset="0.7809" stop-color="#0098dd"/><stop offset="0.7877" stop-color="#0098dd"/><stop offset="0.7888" stop-color="#0000d1"/><stop offset="0.7952" stop-color="#0000d1"/><stop offset="0.7963" stop-color="#00aaab"/><stop offset="0.8035" stop-color="#00aaab"/><stop offset="0.8046" stop-color="#0000d1"/><stop offset="0.8106" stop-color="#0000c9"/><stop offset="0.8117" stop-color="#870098"/><stop offset="0.8181" stop-color="#870098"/><stop offset="0.8192" stop-color="#0000d1"/><stop offset="0.8234" stop-color="#0000bd"/><stop offset="0.8249" stop-color="#850096"/><stop offset="0.8275" stop-color="#7a008b"/><stop offset="0.8388" stop-color="#5d006b"/><stop offset="0.8688" stop-color="#4b0055"/><stop offset="0.9064" stop-color="#380040"/><stop offset="0.944" stop-color="#25002b"/><stop offset="0.9816" stop-color="#130015"/><stop offset="1" stop-color="#130015"/></linearGradient><linearGradient id="g17" x1="0" x2="1" y1="0" y2="0"><stop offset="0" stop-color="#130015"/><stop offset="0.2029" stop-color="#130015"/><stop offset="0.2074" stop-color="#5d006b"/><stop offset="0.2131" stop-color="#850096"/><stop offset="0.2247" stop-color="#860097"/><stop offset="0.2277" stop-color="#0300aa"/><stop offset="0.2319" stop-color="#0000dd"/><stop offset="0.2375" stop-color="#0078dd"/><stop offset="0.2431" stop-color="#0088dd"/><stop offset="0.2638" stop-color="#008ddd"/><stop offset="0.2901" stop-color="#009fcb"/><stop offset="0.3239" stop-color="#00a7b3"/><stop offset="0.3728" stop-color="#00aaab"/><stop offset="0.3859" stop-color="#00aa9d"/><stop offset="0.3953" stop-color="#009e28"/><stop offset="0.4066" stop-color="#009c00"/><stop offset="0.4198" stop-color="#009c00"/><stop offset="0.448" stop-color="#00ac00"/><stop offset="0.4855" stop-color="#00b200"/><stop offset="0.5156" stop-color="#00ac00"/><stop offset="0.5269" stop-color="#009f00"/><stop offset="0.5381" stop-color="#009c00"/><stop offset="0.5475" stop-color="#009d1d"/><stop offset="0.5569" stop-color="#00a55d"/><stop offset="0.5682" stop-color="#00aa8b"/><stop offset="0.587" stop-color="#00aa9d"/><stop offset="0.602" stop-color="#00a3bf"/><stop offset="0.6171" stop-color="#0098dd"/><stop offset="0.6359" stop-color="#008add"/><stop offset="0.6471" stop-color="#0078dd"/><stop offset="0.6584" stop-color="#0025dd"/><stop offset="0.6734" stop-color="#0000dd"/><stop offset="0.7185" stop-color="#0000d1"/><stop offset="0.7392" stop-color="#0000bd"/><stop offset="0.7403" stop-color="#0000d1"/><stop offset="0.7415" stop-color="#00aaab"/><stop offset="0.7497" stop-color="#00aaab"/><stop offset="0.7508" stop-color="#0000d1"/><stop offset="0.7584" stop-color="#0000d1"/><stop offset="0.7595" stop-color="#0098dd"/><stop offset="0.7678" stop-color="#0098dd"/><stop offset="0.7689" stop-color="#0000d1"/><stop offset="0.7798" stop-color="#0000d1"/><stop offset="0.7809" stop-color="#0098dd"/><stop offset="0.7877" stop-color="#0098dd"/><stop offset="0.7888" stop-color="#0000d1"/><stop offset="0.7952" stop-color="#0000d1"/><stop offset="0.7963" stop-color="#00aaab"/><stop offset="0.8035" stop-color="#00aaab"/><stop offset="0.8046" stop-color="#0000d1"/><stop offset="0.8106" stop-color="#0000c9"/><stop offset="0.8117" stop-color="#870098"/><stop offset="0.8181" stop-color="#870098"/><stop offset="0.8192" stop-color="#0000d1"/><stop offset="0.8234" stop-color="#0000bd"/><stop offset="0.8249" stop-color="#850096"/><stop offset="0.8275" stop-color="#7a008b"/><stop offset="0.8388" stop-color="#5d006b"/><stop offset="0.8688" stop-color="#4b0055"/><stop offset="0.9064" stop-color="#380040"/><stop offset="0.944" stop-color="#25002b"/><stop offset="0.9816" stop-color="#130015"/><stop offset="1" stop-color="#130015"/></linearGradient><linearGradient id="g18" x1="0" x2="1" y1="0" y2="0"><stop offset="0" stop-color="#130015"/><stop offset="0.2029" stop-color="#130015"/><stop offset="0.2074" stop-color="#5d006b"/><stop offset="0.2131" stop-color="#850096"/><stop offset="0.2247" stop-color="#860097"/><stop offset="0.2277" stop-color="#0300aa"/><stop offset="0.2319" stop-color="#0000dd"/><stop offset="0.2375" stop-color="#0078dd"/><stop offset="0.2431" stop-color="#0092dd"/><stop offset="0.2638" stop-color="#0098dd"/><stop offset="0.2901" stop-color="#00a7b3"/><stop offset="0.3239" stop-color="#00aa9d"/><stop offset="0.3728" stop-color="#00aa95"/><stop offset="0.3859" stop-color="#00aa88"/><stop offset="0.3953" stop-color="#009e28"/><stop offset="0.4066" stop-color="#009c00"/><stop offset="0.4198" stop-color="#00a700"/><stop offset="0.448" stop-color="#00b700"/><stop offset="0.4855" stop-color="#00bc00"/><stop offset="0.5156" stop-color="#00b400"/><stop offset="0.5269" stop-color="#00aa00"/><stop offset="0.5381" stop-color="#009c00"/><stop offset="0.5475" stop-color="#009d1d"/><stop offset="0.5569" stop-color="#00a55d"/><stop offset="0.5682" stop-color="#00aa8b"/><stop offset="0.587" stop-color="#00aa9d"/><stop offset="0.602" stop-color="#00a3bf"/><stop offset="0.6171" stop-color="#0098dd"/><stop offset="0.6359" stop-color="#008add"/><stop offset="0.6471" stop-color="#0078dd"/><stop offset="0.6584" stop-color="#0025dd"/><stop offset="0.6734" stop-color="#0000dd"/><stop offset="0.7185" stop-color="#0000d1"/><stop offset="0.7392" stop-color="#0000bd"/><stop offset="0.7403" stop-color="#0000d1"/><stop offset="0.7415" stop-color="#00aaab"/><stop offset="0.7497" stop-color="#00aaab"/><stop offset="0.7508" stop-color="#0000d1"/><stop offset="0.7584" stop-color="#0000d1"/><stop offset="0.7595" stop-color="#0098dd"/><stop offset="0.7678" stop-color="#0098dd"/><stop offset="0.7689" stop-color="#0000d1"/><stop offset="0.7798" stop-color="#0000d1"/><stop offset="0.7809" stop-color="#0098dd"/><stop offset="0.7877" stop-color="#0098dd"/><stop offset="0.7888" stop-color="#0000d1"/><stop offset="0.7952" stop-color="#0000d1"/><stop offset="0.7963" stop-color="#00aaab"/><stop offset="0.8035" stop-color="#00aaab"/><stop offset="0.8046" stop-color="#0000d1"/><stop offset="0.8106" stop-color="#0000c9"/><stop offset="0.8117" stop-color="#870098"/><stop offset="0.8181" stop-color="#870098"/><stop offset="0.8192" stop-color="#0000d1"/><stop offset="0.8234" stop-color="#0000bd"/><stop offset="0.8249" stop-color="#850096"/><stop offset="0.8275" stop-color="#7a008b"/><stop offset="0.8388" stop-color="#5d006b"/><stop offset="0.8688" stop-color="#4b0055"/><stop offset="0.9064" stop-color="#380040"/><stop offset="0.944" stop-color="#25002b"/><stop offset="0.9816" stop-color="#130015"/><stop offset="1" stop-color="#130015"/></linearGradient><linearGradient id="g19" x1="0" x2="1" y1="0" y2="0"><stop offset="0" stop-color="#130015"/><stop offset="0.2029" stop-color="#130015"/><stop offset="0.2074" stop-color="#5d006b"/><stop offset="0.2131" stop-color="#850096"/><stop offset="0.2247" stop-color="#860097"/><stop offset="0.2277" stop-color="#0300aa"/><stop offset="0.2319" stop-color="#0000dd"/><stop offset="0.2375" stop-color="#0078dd"/><stop offset="0.2431" stop-color="#008add"/><stop offset="0.2638" stop-color="#0092dd"/><stop offset="0.2901" stop-color="#00a2c3"/><stop offset="0.3239" stop-color="#00aaab"/><stop offset="0.3728" stop-color="#00aaa3"/><stop offset="0.3859" stop-color="#00aa95"/><stop offset="0.3953" stop-color="#009e28"/><stop offset="0.4066" stop-color="#009c00"/><stop offset="0.4198" stop-color="#00ac00"/><stop offset="0.448" stop-color="#00bf00"/><stop offset="0.4855" stop-color="#00c400"/><stop offset="0.5156" stop-color="#00bc00"/><stop offset="0.5269" stop-color="#00b200"/><stop offset="0.5381" stop-color="#009c00"/><stop offset="0.5475" stop-color="#009d1d"/><stop offset="0.5569" stop-color="#00a55d"/><stop offset="0.5682" stop-color="#00aa8b"/><stop offset="0.587" stop-color="#00aa9d"/><stop offset="0.602" stop-color="#00a3bf"/><stop offset="0.6171" stop-color="#0098dd"/><stop offset="0.6359" stop-color="#008add"/><stop offset="0.6471" stop-color="#0078dd"/><stop offset="0.6584" stop-color="#0025dd"/><stop offset="0.6734" stop-color="#0000dd"/><stop offset="0.7185" stop-color="#0000d1"/><stop offset="0.7392" stop-color="#0000bd"/><stop offset="0.7403" stop-color="#0000d1"/><stop offset="0.7415" stop-color="#00aaab"/><stop offset="0.7497" stop-color="#00aaab"/><stop offset="0.7508" stop-color="#0000d1"/><stop offset="0.7584" stop-color="#0000d1"/><stop offset="0.7595" stop-color="#0098dd"/><stop offset="0.7678" stop-color="#0098dd"/><stop offset="0.7689" stop-color="#0000d1"/><stop offset="0.7798" stop-color="#0000d1"/><stop offset="0.7809" stop-color="#0098dd"/><stop offset="0.7877" stop-color="#0098dd"/><stop offset="0.7888" stop-color="#0000d1"/><stop offset="0.7952" stop-color="#0000d1"/><stop offset="0.7963" stop-color="#00aaab"/><stop offset="0.8035" stop-color="#00aaab"/><stop offset="0.8046" stop-color="#0000d1"/><stop offset="0.8106" stop-color="#0000c9"/><stop offset="0.8117" stop-color="#870098"/><stop offset="0.8181" stop-color="#870098"/><stop offset="0.8192" stop-color="#0000d1"/><stop offset="0.8234" stop-color="#0000bd"/><stop offset="0.8249" stop-color="#850096"/><stop offset="0.8275" stop-color="#7a008b"/><stop offset="0.8388" stop-color="#5d006b"/><stop offset="0.8688" stop-color="#4b0055"/><stop offset="0.9064" stop-color="#380040"/><stop offset="0.944" stop-color="#25002b"/><stop offset="0.9816" stop-color="#130015"/><stop offset="1" stop-color="#130015"/></linearGradient><linearGradient id="g20" x1="0" x2="1" y1="0" y2="0"><stop offset="0" stop-color="#130015"/><stop offset="0.2074" stop-color="#130015"/><stop offset="0.2375" stop-color="#1c0020"/><stop offset="0.2864" stop-color="#2f0035"/><stop offset="0.3427" stop-color="#380040"/><stop offset="0.4179" stop-color="#41004b"/><stop offset="0.493" stop-color="#380040"/><stop offset="0.587" stop-color="#380040"/><stop offset="0.6809" stop-color="#25002b"/><stop offset="0.7373" stop-color="#1c0020"/><stop offset="0.8125" stop-color="#1c0020"/><stop offset="0.9064" stop-color="#130015"/><stop offset="1" stop-color="#09000b"/></linearGradient><linearGradient id="g21" x1="0" x2="1" y1="0" y2="0"><stop offset="0" stop-color="#130015"/><stop offset="0.1887" stop-color="#130015"/><stop offset="0.198" stop-color="#700080"/><stop offset="0.2056" stop-color="#860097"/><stop offset="0.2082" stop-color="#0300aa"/><stop offset="0.2112" stop-color="#0013dd"/><stop offset="0.215" stop-color="#008add"/><stop offset="0.2217" stop-color="#00a3bf"/><stop offset="0.2262" stop-color="#00aa88"/><stop offset="0.23" stop-color="#00a700"/><stop offset="0.2394" stop-color="#00dc00"/><stop offset="0.2488" stop-color="#00ff00"/><stop offset="0.2563" stop-color="#93ff00"/><stop offset="0.2619" stop-color="#ccf900"/><stop offset="0.3051" stop-color="#ccf900"/><stop offset="0.3728" stop-color="#d0f800"/><stop offset="0.3953" stop-color="#e0f300"/><stop offset="0.4179" stop-color="#e8f000"/><stop offset="0.4404" stop-color="#efed00"/><stop offset="0.463" stop-color="#ecef00"/><stop offset="0.4855" stop-color="#e4f100"/><stop offset="0.5043" stop-color="#d4f700"/><stop offset="0.5194" stop-color="#ccf900"/><stop offset="0.5269" stop-color="#93ff00"/><stop offset="0.5325" stop-color="#00ff00"/><stop offset="0.5494" stop-color="#00f200"/><stop offset="0.5795" stop-color="#00dc00"/><stop offset="0.6058" stop-color="#00bc00"/><stop offset="0.6246" stop-color="#009f00"/><stop offset="0.6396" stop-color="#00a353"/><stop offset="0.6546" stop-color="#00aa95"/><stop offset="0.6734" stop-color="#00a3bf"/><stop offset="0.6997" stop-color="#0098dd"/><stop offset="0.726" stop-color="#008add"/><stop offset="0.7392" stop-color="#0078dd"/><stop offset="0.7403" stop-color="#0013dd"/><stop offset="0.7415" stop-color="#00aaa3"/><stop offset="0.7497" stop-color="#00aaa3"/><stop offset="0.7508" stop-color="#0013dd"/><stop offset="0.7584" stop-color="#0013dd"/><stop offset="0.7595" stop-color="#0098dd"/><stop offset="0.7678" stop-color="#0098dd"/><stop offset="0.7689" stop-color="#0013dd"/><stop offset="0.7798" stop-color="#0013dd"/><stop offset="0.7809" stop-color="#0098dd"/><stop offset="0.7877" stop-color="#0098dd"/><stop offset="0.7888" stop-color="#0013dd"/><stop offset="0.7952" stop-color="#0013dd"/><stop offset="0.7963" stop-color="#00aaa3"/><stop offset="0.8035" stop-color="#00aaa3"/><stop offset="0.8046" stop-color="#0000d1"/><stop offset="0.8106" stop-color="#0000c9"/><stop offset="0.8117" stop-color="#870098"/><stop offset="0.8181" stop-color="#870098"/><stop offset="0.8192" stop-color="#0000d1"/><stop offset="0.8234" stop-color="#0000bd"/><stop offset="0.8249" stop-color="#860097"/><stop offset="0.8876" stop-color="#850096"/><stop offset="0.9215" stop-color="#830094"/><stop offset="0.944" stop-color="#7b008c"/><stop offset="0.9666" stop-color="#5d006b"/><stop offset="0.9853" stop-color="#380040"/><stop offset="1" stop-color="#1c0020"/></linearGradient><linearGradient id="g22" x1="0" x2="1" y1="0" y2="0"><stop offset="0" stop-color="#130015"/><stop offset="0.1887" stop-color="#130015"/><stop offset="0.198" stop-color="#700080"/><stop offset="0.2056" stop-color="#860097"/><stop offset="0.2082" stop-color="#0300aa"/><stop offset="0.2112" stop-color="#0013dd"/><stop offset="0.215" stop-color="#008add"/><stop offset="0.2217" stop-color="#00a3bf"/><stop offset="0.2262" stop-color="#00aa88"/><stop offset="0.23" stop-color="#00a700"/><stop offset="0.2394" stop-color="#00dc00"/><stop offset="0.2488" stop-color="#00ff00"/><stop offset="0.2563" stop-color="#93ff00"/><stop offset="0.2619" stop-color="#ccf900"/><stop offset="0.3051" stop-color="#ccf900"/><stop offset="0.3728" stop-color="#d0f800"/><stop offset="0.3953" stop-color="#e0f300"/><stop offset="0.4179" stop-color="#e8f000"/><stop offset="0.4404" stop-color="#efed00"/><stop offset="0.463" stop-color="#ecef00"/><stop offset="0.4855" stop-color="#e4f100"/><stop offset="0.5043" stop-color="#d4f700"/><stop offset="0.5194" stop-color="#ccf900"/><stop offset="0.5269" stop-color="#93ff00"/><stop offset="0.5325" stop-color="#00ff00"/><stop offset="0.5494" stop-color="#00f200"/><stop offset="0.5795" stop-color="#00dc00"/><stop offset="0.6058" stop-color="#00bc00"/><stop offset="0.6246" stop-color="#009f00"/><stop offset="0.6396" stop-color="#00a353"/><stop offset="0.6546" stop-color="#00aa95"/><stop offset="0.6734" stop-color="#00a3bf"/><stop offset="0.6997" stop-color="#0098dd"/><stop offset="0.726" stop-color="#008add"/><stop offset="0.7392" stop-color="#0078dd"/><stop offset="0.7403" stop-color="#0013dd"/><stop offset="0.7415" stop-color="#00aaa3"/><stop offset="0.7497" stop-color="#00aaa3"/><stop offset="0.7508" stop-color="#0013dd"/><stop offset="0.7584" stop-color="#0013dd"/><stop offset="0.7595" stop-color="#0098dd"/><stop offset="0.7678" stop-color="#0098dd"/><stop offset="0.7689" stop-color="#0013dd"/><stop offset="0.7798" stop-color="#0013dd"/><stop offset="0.7809" stop-color="#0098dd"/><stop offset="0.7877" stop-color="#0098dd"/><stop offset="0.7888" stop-color="#0013dd"/><stop offset="0.7952" stop-color="#0013dd"/><stop offset="0.7963" stop-color="#00aaa3"/><stop offset="0.8035" stop-color="#00aaa3"/><stop offset="0.8046" stop-color="#0000d1"/><stop offset="0.8106" stop-color="#0000c9"/><stop offset="0.8117" stop-color="#870098"/><stop offset="0.8181" stop-color="#870098"/><stop offset="0.8192" stop-color="#0000d1"/><stop offset="0.8234" stop-color="#0000bd"/><stop offset="0.8249" stop-color="#860097"/><stop offset="0.8876" stop-color="#850096"/><stop offset="0.9215" stop-color="#830094"/><stop offset="0.944" stop-color="#7b008c"/><stop offset="0.9666" stop-color="#5d006b"/><stop offset="0.9853" stop-color="#380040"/><stop offset="1" stop-color="#1c0020"/></linearGradient><linearGradient id="g23" x1="0" x2="1" y1="0" y2="0"><stop offset="0" stop-color="#25002b"/><stop offset="0.1883" stop-color="#25002b"/><stop offset="0.1977" stop-color="#700080"/><stop offset="0.2056" stop-color="#860097"/><stop offset="0.2078" stop-color="#0300aa"/><stop offset="0.2116" stop-color="#0013dd"/><stop offset="0.2146" stop-color="#008add"/><stop offset="0.2221" stop-color="#00a3bf"/><stop offset="0.227" stop-color="#00aa88"/><stop offset="0.2307" stop-color="#00a700"/><stop offset="0.239" stop-color="#00dc00"/><stop offset="0.2484" stop-color="#00ff00"/><stop offset="0.2559" stop-color="#93ff00"/><stop offset="0.2616" stop-color="#ccf900"/><stop offset="0.3724" stop-color="#d0f800"/><stop offset="0.395" stop-color="#e0f300"/><stop offset="0.425" stop-color="#e8f000"/><stop offset="0.4551" stop-color="#efed00"/><stop offset="0.4852" stop-color="#ecef00"/><stop offset="0.5077" stop-color="#e0f300"/><stop offset="0.5209" stop-color="#d0f800"/><stop offset="0.5284" stop-color="#93ff00"/><stop offset="0.534" stop-color="#00ff00"/><stop offset="0.5528" stop-color="#00ea00"/><stop offset="0.5829" stop-color="#00cf00"/><stop offset="0.6092" stop-color="#00b400"/><stop offset="0.628" stop-color="#009a00"/><stop offset="0.643" stop-color="#00a353"/><stop offset="0.658" stop-color="#00aa95"/><stop offset="0.6806" stop-color="#00a3bf"/><stop offset="0.7069" stop-color="#0092dd"/><stop offset="0.7407" stop-color="#008add"/><stop offset="0.7418" stop-color="#0013dd"/><stop offset="0.743" stop-color="#00aa95"/><stop offset="0.7516" stop-color="#00aa95"/><stop offset="0.7527" stop-color="#0000d1"/><stop offset="0.7587" stop-color="#0000d1"/><stop offset="0.7599" stop-color="#0098dd"/><stop offset="0.767" stop-color="#0098dd"/><stop offset="0.7681" stop-color="#00aa90"/><stop offset="0.7775" stop-color="#00aa90"/><stop offset="0.7787" stop-color="#0092dd"/><stop offset="0.7896" stop-color="#0092dd"/><stop offset="0.7907" stop-color="#00aa95"/><stop offset="0.7971" stop-color="#00aa95"/><stop offset="0.7982" stop-color="#0000d1"/><stop offset="0.8113" stop-color="#0000d1"/><stop offset="0.8125" stop-color="#0098dd"/><stop offset="0.8192" stop-color="#0098dd"/><stop offset="0.8204" stop-color="#0000c9"/><stop offset="0.8264" stop-color="#0000c9"/><stop offset="0.8275" stop-color="#850096"/><stop offset="0.8985" stop-color="#850096"/><stop offset="0.9286" stop-color="#7f0090"/><stop offset="0.9549" stop-color="#79008a"/><stop offset="0.9775" stop-color="#4b0055"/><stop offset="1" stop-color="#41004b"/></linearGradient><linearGradient id="g24" x1="0" x2="1" y1="0" y2="0"><stop offset="0" stop-color="#25002b"/><stop offset="0.1883" stop-color="#25002b"/><stop offset="0.1977" stop-color="#700080"/><stop offset="0.2056" stop-color="#860097"/><stop offset="0.2078" stop-color="#0300aa"/><stop offset="0.2116" stop-color="#0013dd"/><stop offset="0.2146" stop-color="#008add"/><stop offset="0.2221" stop-color="#00a3bf"/><stop offset="0.227" stop-color="#00aa88"/><stop offset="0.2307" stop-color="#00a700"/><stop offset="0.239" stop-color="#00dc00"/><stop offset="0.2484" stop-color="#00ff00"/><stop offset="0.2559" stop-color="#93ff00"/><stop offset="0.2616" stop-color="#ccf900"/><stop offset="0.3724" stop-color="#d0f800"/><stop offset="0.395" stop-color="#e0f300"/><stop offset="0.425" stop-color="#e8f000"/><stop offset="0.4551" stop-color="#efed00"/><stop offset="0.4852" stop-color="#ecef00"/><stop offset="0.5077" stop-color="#e0f300"/><stop offset="0.5209" stop-color="#d0f800"/><stop offset="0.5284" stop-color="#93ff00"/><stop offset="0.534" stop-color="#00ff00"/><stop offset="0.5528" stop-color="#00ea00"/><stop offset="0.5829" stop-color="#00cf00"/><stop offset="0.6092" stop-color="#00b400"/><stop offset="0.628" stop-color="#009a00"/><stop offset="0.643" stop-color="#00a353"/><stop offset="0.658" stop-color="#00aa95"/><stop offset="0.6806" stop-color="#00a3bf"/><stop offset="0.7069" stop-color="#0092dd"/><stop offset="0.7407" stop-color="#008add"/><stop offset="0.7418" stop-color="#0013dd"/><stop offset="0.743" stop-color="#00aa95"/><stop offset="0.7516" stop-color="#00aa95"/><stop offset="0.7527" stop-color="#0000d1"/><stop offset="0.7587" stop-color="#0000d1"/><stop offset="0.7599" stop-color="#0098dd"/><stop offset="0.767" stop-color="#0098dd"/><stop offset="0.7681" stop-color="#00aa90"/><stop offset="0.7775" stop-color="#00aa90"/><stop offset="0.7787" stop-color="#0092dd"/><stop offset="0.7896" stop-color="#0092dd"/><stop offset="0.7907" stop-color="#00aa95"/><stop offset="0.7971" stop-color="#00aa95"/><stop offset="0.7982" stop-color="#0000d1"/><stop offset="0.8113" stop-color="#0000d1"/><stop offset="0.8125" stop-color="#0098dd"/><stop offset="0.8192" stop-color="#0098dd"/><stop offset="0.8204" stop-color="#0000c9"/><stop offset="0.8264" stop-color="#0000c9"/><stop offset="0.8275" stop-color="#850096"/><stop offset="0.8985" stop-color="#850096"/><stop offset="0.9286" stop-color="#7f0090"/><stop offset="0.9549" stop-color="#79008a"/><stop offset="0.9775" stop-color="#4b0055"/><stop offset="1" stop-color="#41004b"/></linearGradient><linearGradient id="g25" x1="0" x2="1" y1="0" y2="0"><stop offset="0" stop-color="#130015"/><stop offset="0.192" stop-color="#130015"/><stop offset="0.2484" stop-color="#1c0020"/><stop offset="1" stop-color="#1c0020"/></linearGradient><linearGradient id="g26" x1="0" x2="1" y1="0" y2="0"><stop offset="0" stop-color="#25002b"/><stop offset="0.2026" stop-color="#25002b"/><stop offset="0.2071" stop-color="#5d006b"/><stop offset="0.2127" stop-color="#850096"/><stop offset="0.2244" stop-color="#860097"/><stop offset="0.2274" stop-color="#0300aa"/><stop offset="0.2315" stop-color="#0000dd"/><stop offset="0.2371" stop-color="#0078dd"/><stop offset="0.2428" stop-color="#008add"/><stop offset="0.2672" stop-color="#0092dd"/><stop offset="0.2935" stop-color="#00a4bb"/><stop offset="0.3273" stop-color="#00aa9d"/><stop offset="0.3762" stop-color="#00aa95"/><stop offset="0.3874" stop-color="#00aa88"/><stop offset="0.3968" stop-color="#009e28"/><stop offset="0.4062" stop-color="#009c00"/><stop offset="0.4194" stop-color="#00ac00"/><stop offset="0.4476" stop-color="#00bf00"/><stop offset="0.4739" stop-color="#00c400"/><stop offset="0.5077" stop-color="#00bc00"/><stop offset="0.5303" stop-color="#00b200"/><stop offset="0.5434" stop-color="#009c00"/><stop offset="0.5528" stop-color="#009d1d"/><stop offset="0.5622" stop-color="#00a55d"/><stop offset="0.5716" stop-color="#00aa8b"/><stop offset="0.5904" stop-color="#00aa9d"/><stop offset="0.6054" stop-color="#00a3bf"/><stop offset="0.6204" stop-color="#0098dd"/><stop offset="0.6392" stop-color="#008add"/><stop offset="0.6505" stop-color="#0078dd"/><stop offset="0.6618" stop-color="#0025dd"/><stop offset="0.6768" stop-color="#0000dd"/><stop offset="0.7219" stop-color="#0000d1"/><stop offset="0.7407" stop-color="#0000bd"/><stop offset="0.7418" stop-color="#0000d1"/><stop offset="0.743" stop-color="#00aa95"/><stop offset="0.7516" stop-color="#00aa95"/><stop offset="0.7527" stop-color="#0000d1"/><stop offset="0.7587" stop-color="#0000d1"/><stop offset="0.7599" stop-color="#0098dd"/><stop offset="0.767" stop-color="#0098dd"/><stop offset="0.7681" stop-color="#00aa90"/><stop offset="0.7775" stop-color="#00aa90"/><stop offset="0.7787" stop-color="#0092dd"/><stop offset="0.7896" stop-color="#0092dd"/><stop offset="0.7907" stop-color="#00aa95"/><stop offset="0.7971" stop-color="#00aa95"/><stop offset="0.7982" stop-color="#0000d1"/><stop offset="0.8113" stop-color="#0000d1"/><stop offset="0.8125" stop-color="#0098dd"/><stop offset="0.8192" stop-color="#0098dd"/><stop offset="0.8204" stop-color="#0000c9"/><stop offset="0.8264" stop-color="#0000c9"/><stop offset="0.8275" stop-color="#850096"/><stop offset="0.8279" stop-color="#670075"/><stop offset="0.8873" stop-color="#5d006b"/><stop offset="0.9248" stop-color="#540060"/><stop offset="0.9549" stop-color="#41004b"/><stop offset="0.9812" stop-color="#2f0035"/><stop offset="1" stop-color="#25002b"/></linearGradient><linearGradient id="g27" x1="0" x2="1" y1="0" y2="0"><stop offset="0" stop-color="#25002b"/><stop offset="0.2026" stop-color="#25002b"/><stop offset="0.2071" stop-color="#5d006b"/><stop offset="0.2127" stop-color="#850096"/><stop offset="0.2244" stop-color="#860097"/><stop offset="0.2274" stop-color="#0300aa"/><stop offset="0.2315" stop-color="#0000dd"/><stop offset="0.2371" stop-color="#0078dd"/><stop offset="0.2428" stop-color="#008add"/><stop offset="0.2672" stop-color="#0092dd"/><stop offset="0.2935" stop-color="#00a4bb"/><stop offset="0.3273" stop-color="#00aa9d"/><stop offset="0.3762" stop-color="#00aa95"/><stop offset="0.3874" stop-color="#00aa88"/><stop offset="0.3968" stop-color="#009e28"/><stop offset="0.4062" stop-color="#009c00"/><stop offset="0.4194" stop-color="#00a700"/><stop offset="0.4476" stop-color="#00b700"/><stop offset="0.4739" stop-color="#00bc00"/><stop offset="0.5077" stop-color="#00b400"/><stop offset="0.5303" stop-color="#00aa00"/><stop offset="0.5434" stop-color="#009c00"/><stop offset="0.5528" stop-color="#009d1d"/><stop offset="0.5622" stop-color="#00a55d"/><stop offset="0.5716" stop-color="#00aa8b"/><stop offset="0.5904" stop-color="#00aa9d"/><stop offset="0.6054" stop-color="#00a3bf"/><stop offset="0.6204" stop-color="#0098dd"/><stop offset="0.6392" stop-color="#008add"/><stop offset="0.6505" stop-color="#0078dd"/><stop offset="0.6618" stop-color="#0025dd"/><stop offset="0.6768" stop-color="#0000dd"/><stop offset="0.7219" stop-color="#0000d1"/><stop offset="0.7407" stop-color="#0000bd"/><stop offset="0.7418" stop-color="#0000d1"/><stop offset="0.743" stop-color="#00aa95"/><stop offset="0.7516" stop-color="#00aa95"/><stop offset="0.7527" stop-color="#0000d1"/><stop offset="0.7587" stop-color="#0000d1"/><stop offset="0.7599" stop-color="#0098dd"/><stop offset="0.767" stop-color="#0098dd"/><stop offset="0.7681" stop-color="#00aa90"/><stop offset="0.7775" stop-color="#00aa90"/><stop offset="0.7787" stop-color="#0092dd"/><stop offset="0.7896" stop-color="#0092dd"/><stop offset="0.7907" stop-color="#00aa95"/><stop offset="0.7971" stop-color="#00aa95"/><stop offset="0.7982" stop-color="#0000d1"/><stop offset="0.8113" stop-color="#0000d1"/><stop offset="0.8125" stop-color="#0098dd"/><stop offset="0.8192" stop-color="#0098dd"/><stop offset="0.8204" stop-color="#0000c9"/><stop offset="0.8264" stop-color="#0000c9"/><stop offset="0.8275" stop-color="#850096"/><stop offset="0.8279" stop-color="#670075"/><stop offset="0.8873" stop-color="#5d006b"/><stop offset="0.9248" stop-color="#540060"/><stop offset="0.9549" stop-color="#41004b"/><stop offset="0.9812" stop-color="#2f0035"/><stop offset="1" stop-color="#25002b"/></linearGradient><linearGradient id="g28" x1="0" x2="1" y1="0" y2="0"><stop offset="0" stop-color="#25002b"/><stop offset="0.2026" stop-color="#25002b"/><stop offset="0.2071" stop-color="#5d006b"/><stop offset="0.2127" stop-color="#850096"/><stop offset="0.2244" stop-color="#860097"/><stop offset="0.2274" stop-color="#0300aa"/><stop offset="0.2315" stop-color="#0000dd"/><stop offset="0.2371" stop-color="#0078dd"/><stop offset="0.2428" stop-color="#008ddd"/><stop offset="0.2672" stop-color="#0095dd"/><stop offset="0.2935" stop-color="#00a4bb"/><stop offset="0.3273" stop-color="#00aaa3"/><stop offset="0.3762" stop-color="#00aa9d"/><stop offset="0.3874" stop-color="#00aa90"/><stop offset="0.3968" stop-color="#009e28"/><stop offset="0.4062" stop-color="#009c00"/><stop offset="0.4194" stop-color="#00a400"/><stop offset="0.4476" stop-color="#00b400"/><stop offset="0.4739" stop-color="#00ba00"/><stop offset="0.5077" stop-color="#00b200"/><stop offset="0.5303" stop-color="#00a700"/><stop offset="0.5434" stop-color="#009c00"/><stop offset="0.5528" stop-color="#009d1d"/><stop offset="0.5622" stop-color="#00a55d"/><stop offset="0.5716" stop-color="#00aa8b"/><stop offset="0.5904" stop-color="#00aa9d"/><stop offset="0.6054" stop-color="#00a3bf"/><stop offset="0.6204" stop-color="#0098dd"/><stop offset="0.6392" stop-color="#008add"/><stop offset="0.6505" stop-color="#0078dd"/><stop offset="0.6618" stop-color="#0025dd"/><stop offset="0.6768" stop-color="#0000dd"/><stop offset="0.7219" stop-color="#0000d1"/><stop offset="0.7407" stop-color="#0000bd"/><stop offset="0.7418" stop-color="#0000d1"/><stop offset="0.743" stop-color="#00aa95"/><stop offset="0.7516" stop-color="#00aa95"/><stop offset="0.7527" stop-color="#0000d1"/><stop offset="0.7587" stop-color="#0000d1"/><stop offset="0.7599" stop-color="#0098dd"/><stop offset="0.767" stop-color="#0098dd"/><stop offset="0.7681" stop-color="#00aa90"/><stop offset="0.7775" stop-color="#00aa90"/><stop offset="0.7787" stop-color="#0092dd"/><stop offset="0.7896" stop-color="#0092dd"/><stop offset="0.7907" stop-color="#00aa95"/><stop offset="0.7971" stop-color="#00aa95"/><stop offset="0.7982" stop-color="#0000d1"/><stop offset="0.8113" stop-color="#0000d1"/><stop offset="0.8125" stop-color="#0098dd"/><stop offset="0.8192" stop-color="#0098dd"/><stop offset="0.8204" stop-color="#0000c9"/><stop offset="0.8264" stop-color="#0000c9"/><stop offset="0.8275" stop-color="#850096"/><stop offset="0.8279" stop-color="#670075"/><stop offset="0.8873" stop-color="#5d006b"/><stop offset="0.9248" stop-color="#540060"/><stop offset="0.9549" stop-color="#41004b"/><stop offset="0.9812" stop-color="#2f0035"/><stop offset="1" stop-color="#25002b"/></linearGradient><linearGradient id="g29" x1="0" x2="1" y1="0" y2="0"><stop offset="0" stop-color="#25002b"/><stop offset="0.2026" stop-color="#25002b"/><stop offset="0.2071" stop-color="#5d006b"/><stop offset="0.2127" stop-color="#850096"/><stop offset="0.2244" stop-color="#860097"/><stop offset="0.2274" stop-color="#0300aa"/><stop offset="0.2315" stop-color="#0000dd"/><stop offset="0.2371" stop-color="#0078dd"/><stop offset="0.2428" stop-color="#0092dd"/><stop offset="0.2672" stop-color="#0098dd"/><stop offset="0.2935" stop-color="#00a8af"/><stop offset="0.3273" stop-color="#00aa95"/><stop offset="0.3762" stop-color="#00aa90"/><stop offset="0.3874" stop-color="#00a773"/><stop offset="0.3968" stop-color="#009e28"/><stop offset="0.4062" stop-color="#009c00"/><stop offset="0.4194" stop-color="#00ac00"/><stop offset="0.4476" stop-color="#00bf00"/><stop offset="0.4739" stop-color="#00c400"/><stop offset="0.5077" stop-color="#00bc00"/><stop offset="0.5303" stop-color="#00b200"/><stop offset="0.5434" stop-color="#009c00"/><stop offset="0.5528" stop-color="#009d1d"/><stop offset="0.5622" stop-color="#00a55d"/><stop offset="0.5716" stop-color="#00aa8b"/><stop offset="0.5904" stop-color="#00aa9d"/><stop offset="0.6054" stop-color="#00a3bf"/><stop offset="0.6204" stop-color="#0098dd"/><stop offset="0.6392" stop-color="#008add"/><stop offset="0.6505" stop-color="#0078dd"/><stop offset="0.6618" stop-color="#0025dd"/><stop offset="0.6768" stop-color="#0000dd"/><stop offset="0.7219" stop-color="#0000d1"/><stop offset="0.7407" stop-color="#0000bd"/><stop offset="0.7418" stop-color="#0000d1"/><stop offset="0.743" stop-color="#00aa95"/><stop offset="0.7516" stop-color="#00aa95"/><stop offset="0.7527" stop-color="#0000d1"/><stop offset="0.7587" stop-color="#0000d1"/><stop offset="0.7599" stop-color="#0098dd"/><stop offset="0.767" stop-color="#0098dd"/><stop offset="0.7681" stop-color="#00aa90"/><stop offset="0.7775" stop-color="#00aa90"/><stop offset="0.7787" stop-color="#0092dd"/><stop offset="0.7896" stop-color="#0092dd"/><stop offset="0.7907" stop-color="#00aa95"/><stop offset="0.7971" stop-color="#00aa95"/><stop offset="0.7982" stop-color="#0000d1"/><stop offset="0.8113" stop-color="#0000d1"/><stop offset="0.8125" stop-color="#0098dd"/><stop offset="0.8192" stop-color="#0098dd"/><stop offset="0.8204" stop-color="#0000c9"/><stop offset="0.8264" stop-color="#0000c9"/><stop offset="0.8275" stop-color="#850096"/><stop offset="0.8279" stop-color="#670075"/><stop offset="0.8873" stop-color="#5d006b"/><stop offset="0.9248" stop-color="#540060"/><stop offset="0.9549" stop-color="#41004b"/><stop offset="0.9812" stop-color="#2f0035"/><stop offset="1" stop-color="#25002b"/></linearGradient><linearGradient id="g30" x1="0" x2="1" y1="0" y2="0"><stop offset="0" stop-color="#25002b"/><stop offset="0.2026" stop-color="#25002b"/><stop offset="0.2071" stop-color="#5d006b"/><stop offset="0.2127" stop-color="#850096"/><stop offset="0.2244" stop-color="#860097"/><stop offset="0.2274" stop-color="#0300aa"/><stop offset="0.2315" stop-color="#0000dd"/><stop offset="0.2371" stop-color="#0078dd"/><stop offset="0.2428" stop-color="#0085dd"/><stop offset="0.2672" stop-color="#008add"/><stop offset="0.2935" stop-color="#009fcb"/><stop offset="0.3273" stop-color="#00aaab"/><stop offset="0.3762" stop-color="#00aaa3"/><stop offset="0.3874" stop-color="#00aa95"/><stop offset="0.3968" stop-color="#009e28"/><stop offset="0.4062" stop-color="#009c00"/><stop offset="0.4194" stop-color="#00a700"/><stop offset="0.4476" stop-color="#00b700"/><stop offset="0.4739" stop-color="#00bc00"/><stop offset="0.5077" stop-color="#00b400"/><stop offset="0.5303" stop-color="#00aa00"/><stop offset="0.5434" stop-color="#009c00"/><stop offset="0.5528" stop-color="#009d1d"/><stop offset="0.5622" stop-color="#00a55d"/><stop offset="0.5716" stop-color="#00aa8b"/><stop offset="0.5904" stop-color="#00aa9d"/><stop offset="0.6054" stop-color="#00a3bf"/><stop offset="0.6204" stop-color="#0098dd"/><stop offset="0.6392" stop-color="#008add"/><stop offset="0.6505" stop-color="#0078dd"/><stop offset="0.6618" stop-color="#0025dd"/><stop offset="0.6768" stop-color="#0000dd"/><stop offset="0.7219" stop-color="#0000d1"/><stop offset="0.7407" stop-color="#0000bd"/><stop offset="0.7418" stop-color="#0000d1"/><stop offset="0.743" stop-color="#00aa95"/><stop offset="0.7516" stop-color="#00aa95"/><stop offset="0.7527" stop-color="#0000d1"/><stop offset="0.7587" stop-color="#0000d1"/><stop offset="0.7599" stop-color="#0098dd"/><stop offset="0.767" stop-color="#0098dd"/><stop offset="0.7681" stop-color="#00aa90"/><stop offset="0.7775" stop-color="#00aa90"/><stop offset="0.7787" stop-color="#0092dd"/><stop offset="0.7896" stop-color="#0092dd"/><stop offset="0.7907" stop-color="#00aa95"/><stop offset="0.7971" stop-color="#00aa95"/><stop offset="0.7982" stop-color="#0000d1"/><stop offset="0.8113" stop-color="#0000d1"/><stop offset="0.8125" stop-color="#0098dd"/><stop offset="0.8192" stop-color="#0098dd"/><stop offset="0.8204" stop-color="#0000c9"/><stop offset="0.8264" stop-color="#0000c9"/><stop offset="0.8275" stop-color="#850096"/><stop offset="0.8279" stop-color="#670075"/><stop offset="0.8873" stop-color="#5d006b"/><stop offset="0.9248" stop-color="#540060"/><stop offset="0.9549" stop-color="#41004b"/><stop offset="0.9812" stop-color="#2f0035"/><stop offset="1" stop-color="#25002b"/></linearGradient><linearGradient id="g31" x1="0" x2="1" y1="0" y2="0"><stop offset="0" stop-color="#25002b"/><stop offset="0.2026" stop-color="#25002b"/><stop offset="0.2071" stop-color="#5d006b"/><stop offset="0.2127" stop-color="#850096"/><stop offset="0.2244" stop-color="#860097"/><stop offset="0.2274" stop-color="#0300aa"/><stop offset="0.2315" stop-color="#0000dd"/><stop offset="0.2371" stop-color="#0078dd"/><stop offset="0.2428" stop-color="#008add"/><stop offset="0.2672" stop-color="#0092dd"/><stop offset="0.2935" stop-color="#00a2c3"/><stop offset="0.3273" stop-color="#00aaab"/><stop offset="0.3762" stop-color="#00aaa3"/><stop offset="0.3874" stop-color="#00aa95"/><stop offset="0.3968" stop-color="#009e28"/><stop offset="0.4062" stop-color="#009c00"/><stop offset="0.4194" stop-color="#00a400"/><stop offset="0.4476" stop-color="#00b400"/><stop offset="0.4739" stop-color="#00ba00"/><stop offset="0.5077" stop-color="#00b200"/><stop offset="0.5303" stop-color="#00a700"/><stop offset="0.5434" stop-color="#009c00"/><stop offset="0.5528" stop-color="#009d1d"/><stop offset="0.5622" stop-color="#00a55d"/><stop offset="0.5716" stop-color="#00aa8b"/><stop offset="0.5904" stop-color="#00aa9d"/><stop offset="0.6054" stop-color="#00a3bf"/><stop offset="0.6204" stop-color="#0098dd"/><stop offset="0.6392" stop-color="#008add"/><stop offset="0.6505" stop-color="#0078dd"/><stop offset="0.6618" stop-color="#0025dd"/><stop offset="0.6768" stop-color="#0000dd"/><stop offset="0.6994" stop-color="#0000d1"/><stop offset="0.7219" stop-color="#0000c1"/><stop offset="0.7388" stop-color="#0000b9"/><stop offset="0.7418" stop-color="#0000d1"/><stop offset="0.743" stop-color="#00aa95"/><stop offset="0.7516" stop-color="#00aa95"/><stop offset="0.7527" stop-color="#0000d1"/><stop offset="0.7587" stop-color="#0000d1"/><stop offset="0.7599" stop-color="#0098dd"/><stop offset="0.767" stop-color="#0098dd"/><stop offset="0.7681" stop-color="#00aa90"/><stop offset="0.7775" stop-color="#00aa90"/><stop offset="0.7787" stop-color="#0092dd"/><stop offset="0.7896" stop-color="#0092dd"/><stop offset="0.7907" stop-color="#00aa95"/><stop offset="0.7971" stop-color="#00aa95"/><stop offset="0.7982" stop-color="#0000d1"/><stop offset="0.8113" stop-color="#0000d1"/><stop offset="0.8125" stop-color="#0098dd"/><stop offset="0.8192" stop-color="#0098dd"/><stop offset="0.8204" stop-color="#0000c9"/><stop offset="0.8264" stop-color="#0000c9"/><stop offset="0.8275" stop-color="#850096"/><stop offset="0.8279" stop-color="#4b0055"/><stop offset="0.8873" stop-color="#4b0055"/><stop offset="0.9248" stop-color="#41004b"/><stop offset="0.9549" stop-color="#2f0035"/><stop offset="0.9812" stop-color="#2f0035"/><stop offset="1" stop-color="#25002b"/></linearGradient><linearGradient id="g32" x1="0" x2="1" y1="0" y2="0"><stop offset="0" stop-color="#25002b"/><stop offset="0.2026" stop-color="#25002b"/><stop offset="0.2071" stop-color="#5d006b"/><stop offset="0.2127" stop-color="#850096"/><stop offset="0.2244" stop-color="#860097"/><stop offset="0.2274" stop-color="#0300aa"/><stop offset="0.2315" stop-color="#0000dd"/><stop offset="0.2371" stop-color="#0078dd"/><stop offset="0.2428" stop-color="#0098dd"/><stop offset="0.2634" stop-color="#009cd3"/><stop offset="0.2691" stop-color="#00aa88"/><stop offset="0.2766" stop-color="#00a400"/><stop offset="0.3747" stop-color="#00aa00"/><stop offset="0.3762" stop-color="#00ac00"/><stop offset="0.3874" stop-color="#00bc00"/><stop offset="0.3968" stop-color="#009e28"/><stop offset="0.4062" stop-color="#009c00"/><stop offset="0.4194" stop-color="#009f00"/><stop offset="0.4476" stop-color="#00b200"/><stop offset="0.4739" stop-color="#00b400"/><stop offset="0.5077" stop-color="#00af00"/><stop offset="0.5303" stop-color="#00a400"/><stop offset="0.5434" stop-color="#009c00"/><stop offset="0.5528" stop-color="#009d1d"/><stop offset="0.5622" stop-color="#00a55d"/><stop offset="0.5716" stop-color="#00aa8b"/><stop offset="0.5904" stop-color="#00aa9d"/><stop offset="0.6054" stop-color="#00a3bf"/><stop offset="0.6204" stop-color="#0098dd"/><stop offset="0.6392" stop-color="#008add"/><stop offset="0.6505" stop-color="#0078dd"/><stop offset="0.6618" stop-color="#0025dd"/><stop offset="0.6768" stop-color="#0000dd"/><stop offset="0.6881" stop-color="#0000d1"/><stop offset="0.7069" stop-color="#0000b9"/><stop offset="0.7182" stop-color="#4300a2"/><stop offset="0.7257" stop-color="#83009a"/><stop offset="0.7388" stop-color="#870098"/><stop offset="0.7418" stop-color="#0000d1"/><stop offset="0.743" stop-color="#00aa95"/><stop offset="0.7516" stop-color="#00aa95"/><stop offset="0.7527" stop-color="#0000d1"/><stop offset="0.7587" stop-color="#0000d1"/><stop offset="0.7599" stop-color="#0098dd"/><stop offset="0.767" stop-color="#0098dd"/><stop offset="0.7681" stop-color="#00aa90"/><stop offset="0.7775" stop-color="#00aa90"/><stop offset="0.7787" stop-color="#0092dd"/><stop offset="0.7896" stop-color="#0092dd"/><stop offset="0.7907" stop-color="#00aa95"/><stop offset="0.7971" stop-color="#00aa95"/><stop offset="0.7982" stop-color="#0000d1"/><stop offset="0.8113" stop-color="#0000d1"/><stop offset="0.8125" stop-color="#0098dd"/><stop offset="0.8192" stop-color="#0098dd"/><stop offset="0.8204" stop-color="#0000c9"/><stop offset="0.8264" stop-color="#0000c9"/><stop offset="0.8275" stop-color="#850096"/><stop offset="0.8279" stop-color="#4b0055"/><stop offset="0.8873" stop-color="#4b0055"/><stop offset="0.9248" stop-color="#41004b"/><stop offset="0.9549" stop-color="#2f0035"/><stop offset="0.9812" stop-color="#2f0035"/><stop offset="1" stop-color="#25002b"/></linearGradient><linearGradient id="g33" x1="0" x2="1" y1="0" y2="0"><stop offset="0" stop-color="#25002b"/><stop offset="0.2026" stop-color="#25002b"/><stop offset="0.2071" stop-color="#5d006b"/><stop offset="0.2127" stop-color="#850096"/><stop offset="0.2244" stop-color="#860097"/><stop offset="0.2274" stop-color="#0300aa"/><stop offset="0.2315" stop-color="#0000dd"/><stop offset="0.2371" stop-color="#0078dd"/><stop offset="0.2428" stop-color="#0092dd"/><stop offset="0.2672" stop-color="#0098dd"/><stop offset="0.2935" stop-color="#00a7b3"/><stop offset="0.3273" stop-color="#00aa9d"/><stop offset="0.3762" stop-color="#00aa95"/><stop offset="0.3874" stop-color="#00aa88"/><stop offset="0.3968" stop-color="#009e28"/><stop offset="0.4062" stop-color="#009c00"/><stop offset="0.4194" stop-color="#00a400"/><stop offset="0.4476" stop-color="#00b400"/><stop offset="0.4739" stop-color="#00ba00"/><stop offset="0.5077" stop-color="#00b200"/><stop offset="0.5303" stop-color="#00a700"/><stop offset="0.5434" stop-color="#009c00"/><stop offset="0.5528" stop-color="#009d1d"/><stop offset="0.5622" stop-color="#00a55d"/><stop offset="0.5716" stop-color="#00aa8b"/><stop offset="0.5904" stop-color="#00aa9d"/><stop offset="0.6054" stop-color="#00a3bf"/><stop offset="0.6204" stop-color="#0098dd"/><stop offset="0.6392" stop-color="#008add"/><stop offset="0.6505" stop-color="#0078dd"/><stop offset="0.6618" stop-color="#0025dd"/><stop offset="0.6768" stop-color="#0000dd"/><stop offset="0.7219" stop-color="#0000d1"/><stop offset="0.7407" stop-color="#0000bd"/><stop offset="0.7418" stop-color="#0000d1"/><stop offset="0.743" stop-color="#00aa95"/><stop offset="0.7516" stop-color="#00aa95"/><stop offset="0.7527" stop-color="#0000d1"/><stop offset="0.7587" stop-color="#0000d1"/><stop offset="0.7599" stop-color="#0098dd"/><stop offset="0.767" stop-color="#0098dd"/><stop offset="0.7681" stop-color="#00aa90"/><stop offset="0.7775" stop-color="#00aa90"/><stop offset="0.7787" stop-color="#0092dd"/><stop offset="0.7896" stop-color="#0092dd"/><stop offset="0.7907" stop-color="#00aa95"/><stop offset="0.7971" stop-color="#00aa95"/><stop offset="0.7982" stop-color="#0000d1"/><stop offset="0.8113" stop-color="#0000d1"/><stop offset="0.8125" stop-color="#0098dd"/><stop offset="0.8192" stop-color="#0098dd"/><stop offset="0.8204" stop-color="#0000c9"/><stop offset="0.8264" stop-color="#0000c9"/><stop offset="0.8275" stop-color="#850096"/><stop offset="0.8279" stop-color="#4b0055"/><stop offset="0.8873" stop-color="#4b0055"/><stop offset="0.9248" stop-color="#41004b"/><stop offset="0.9549" stop-color="#2f0035"/><stop offset="0.9812" stop-color="#2f0035"/><stop offset="1" stop-color="#25002b"/></linearGradient><linearGradient id="g34" x1="0" x2="1" y1="0" y2="0"><stop offset="0" stop-color="#25002b"/><stop offset="0.2026" stop-color="#25002b"/><stop offset="0.2071" stop-color="#5d006b"/><stop offset="0.2127" stop-color="#850096"/><stop offset="0.2244" stop-color="#860097"/><stop offset="0.2274" stop-color="#0300aa"/><stop offset="0.2315" stop-color="#0000dd"/><stop offset="0.2371" stop-color="#0078dd"/><stop offset="0.2428" stop-color="#0092dd"/><stop offset="0.2672" stop-color="#0098dd"/><stop offset="0.2935" stop-color="#00a7b3"/><stop offset="0.3273" stop-color="#00aa9d"/><stop offset="0.3762" stop-color="#00aa95"/><stop offset="0.3874" stop-color="#00aa88"/><stop offset="0.3968" stop-color="#009e28"/><stop offset="0.4062" stop-color="#009c00"/><stop offset="0.4194" stop-color="#00ac00"/><stop offset="0.4476" stop-color="#00bf00"/><stop offset="0.4739" stop-color="#00c400"/><stop offset="0.5077" stop-color="#00bc00"/><stop offset="0.5303" stop-color="#00b200"/><stop offset="0.5434" stop-color="#009c00"/><stop offset="0.5528" stop-color="#009d1d"/><stop offset="0.5622" stop-color="#00a55d"/><stop offset="0.5716" stop-color="#00aa8b"/><stop offset="0.5904" stop-color="#00aa9d"/><stop offset="0.6054" stop-color="#00a3bf"/><stop offset="0.6204" stop-color="#0098dd"/><stop offset="0.6392" stop-color="#008add"/><stop offset="0.6505" stop-color="#0078dd"/><stop offset="0.6618" stop-color="#0025dd"/><stop offset="0.6768" stop-color="#0000dd"/><stop offset="0.7219" stop-color="#0000d1"/><stop offset="0.7407" stop-color="#0000bd"/><stop offset="0.7418" stop-color="#0000d1"/><stop offset="0.743" stop-color="#00aa95"/><stop offset="0.7516" stop-color="#00aa95"/><stop offset="0.7527" stop-color="#0000d1"/><stop offset="0.7587" stop-color="#0000d1"/><stop offset="0.7599" stop-color="#0098dd"/><stop offset="0.767" stop-color="#0098dd"/><stop offset="0.7681" stop-color="#00aa90"/><stop offset="0.7775" stop-color="#00aa90"/><stop offset="0.7787" stop-color="#0092dd"/><stop offset="0.7896" stop-color="#0092dd"/><stop offset="0.7907" stop-color="#00aa95"/><stop offset="0.7971" stop-color="#00aa95"/><stop offset="0.7982" stop-color="#0000d1"/><stop offset="0.8113" stop-color="#0000d1"/><stop offset="0.8125" stop-color="#0098dd"/><stop offset="0.8192" stop-color="#0098dd"/><stop offset="0.8204" stop-color="#0000c9"/><stop offset="0.8264" stop-color="#0000c9"/><stop offset="0.8275" stop-color="#850096"/><stop offset="0.8279" stop-color="#4b0055"/><stop offset="0.8873" stop-color="#4b0055"/><stop offset="0.9248" stop-color="#41004b"/><stop offset="0.9549" stop-color="#2f0035"/><stop offset="0.9812" stop-color="#2f0035"/><stop offset="1" stop-color="#25002b"/></linearGradient><linearGradient id="g35" x1="0" x2="1" y1="0" y2="0"><stop offset="0" stop-color="#25002b"/><stop offset="0.2026" stop-color="#25002b"/><stop offset="0.2071" stop-color="#5d006b"/><stop offset="0.2127" stop-color="#850096"/><stop offset="0.2244" stop-color="#860097"/><stop offset="0.2274" stop-color="#0300aa"/><stop offset="0.2315" stop-color="#0000dd"/><stop offset="0.2371" stop-color="#0078dd"/><stop offset="0.2428" stop-color="#0092dd"/><stop offset="0.2672" stop-color="#0098dd"/><stop offset="0.2935" stop-color="#00a7b3"/><stop offset="0.3273" stop-color="#00aa9d"/><stop offset="0.3762" stop-color="#00aa95"/><stop offset="0.3874" stop-color="#00aa88"/><stop offset="0.3968" stop-color="#009e28"/><stop offset="0.4062" stop-color="#009c00"/><stop offset="0.4194" stop-color="#00b400"/><stop offset="0.4476" stop-color="#00c400"/><stop offset="0.4739" stop-color="#00ca00"/><stop offset="0.5077" stop-color="#00c400"/><stop offset="0.5303" stop-color="#00b700"/><stop offset="0.5434" stop-color="#009c00"/><stop offset="0.5528" stop-color="#009d1d"/><stop offset="0.5622" stop-color="#00a55d"/><stop offset="0.5716" stop-color="#00aa8b"/><stop offset="0.5904" stop-color="#00aa9d"/><stop offset="0.6054" stop-color="#00a3bf"/><stop offset="0.6204" stop-color="#0098dd"/><stop offset="0.6392" stop-color="#008add"/><stop offset="0.6505" stop-color="#0078dd"/><stop offset="0.6618" stop-color="#0025dd"/><stop offset="0.6768" stop-color="#0000dd"/><stop offset="0.7219" stop-color="#0000d1"/><stop offset="0.7407" stop-color="#0000bd"/><stop offset="0.7418" stop-color="#0000d1"/><stop offset="0.743" stop-color="#00aa95"/><stop offset="0.7516" stop-color="#00aa95"/><stop offset="0.7527" stop-color="#0000d1"/><stop offset="0.7587" stop-color="#0000d1"/><stop offset="0.7599" stop-color="#0098dd"/><stop offset="0.767" stop-color="#0098dd"/><stop offset="0.7681" stop-color="#00aa90"/><stop offset="0.7775" stop-color="#00aa90"/><stop offset="0.7787" stop-color="#0092dd"/><stop offset="0.7896" stop-color="#0092dd"/><stop offset="0.7907" stop-color="#00aa95"/><stop offset="0.7971" stop-color="#00aa95"/><stop offset="0.7982" stop-color="#0000d1"/><stop offset="0.8113" stop-color="#0000d1"/><stop offset="0.8125" stop-color="#0098dd"/><stop offset="0.8192" stop-color="#0098dd"/><stop offset="0.8204" stop-color="#0000c9"/><stop offset="0.8264" stop-color="#0000c9"/><stop offset="0.8275" stop-color="#850096"/><stop offset="0.8279" stop-color="#670075"/><stop offset="0.8873" stop-color="#5d006b"/><stop offset="0.9248" stop-color="#540060"/><stop offset="0.9549" stop-color="#41004b"/><stop offset="0.9812" stop-color="#2f0035"/><stop offset="1" stop-color="#25002b"/></linearGradient><linearGradient id="g36" x1="0" x2="1" y1="0" y2="0"><stop offset="0" stop-color="#25002b"/><stop offset="0.2026" stop-color="#25002b"/><stop offset="0.2071" stop-color="#5d006b"/><stop offset="0.2127" stop-color="#850096"/><stop offset="0.2244" stop-color="#860097"/><stop offset="0.2274" stop-color="#0300aa"/><stop offset="0.2315" stop-color="#0000dd"/><stop offset="0.2371" stop-color="#0078dd"/><stop offset="0.2428" stop-color="#0092dd"/><stop offset="0.2672" stop-color="#0098dd"/><stop offset="0.2935" stop-color="#00a7b3"/><stop offset="0.3273" stop-color="#00aa9d"/><stop offset="0.3762" stop-color="#00aa95"/><stop offset="0.3821" stop-color="#00aa8d"/><stop offset="0.3822" stop-color="#f60000"/><stop offset="0.3856" stop-color="#f60000"/><stop offset="0.3856" stop-color="#00aa8b"/><stop offset="0.3862" stop-color="#00aa8b"/><stop offset="0.3863" stop-color="#dcf400"/><stop offset="0.3905" stop-color="#dcf400"/><stop offset="0.3905" stop-color="#00a668"/><stop offset="0.3968" stop-color="#009e28"/><stop offset="0.4062" stop-color="#009c00"/><stop offset="0.4194" stop-color="#00ac00"/><stop offset="0.4476" stop-color="#00bf00"/><stop offset="0.4739" stop-color="#00c400"/><stop offset="0.5077" stop-color="#00bc00"/><stop offset="0.5303" stop-color="#00b200"/><stop offset="0.5434" stop-color="#009c00"/><stop offset="0.5528" stop-color="#009d1d"/><stop offset="0.5622" stop-color="#00a55d"/><stop offset="0.5716" stop-color="#00aa8b"/><stop offset="0.5904" stop-color="#00aa9d"/><stop offset="0.6054" stop-color="#00a3bf"/><stop offset="0.6204" stop-color="#0098dd"/><stop offset="0.6392" stop-color="#008add"/><stop offset="0.6505" stop-color="#0078dd"/><stop offset="0.6618" stop-color="#0025dd"/><stop offset="0.6768" stop-color="#0000dd"/><stop offset="0.7219" stop-color="#0000d1"/><stop offset="0.7407" stop-color="#0000bd"/><stop offset="0.7418" stop-color="#0000d1"/><stop offset="0.743" stop-color="#00aa95"/><stop offset="0.7516" stop-color="#00aa95"/><stop offset="0.7527" stop-color="#0000d1"/><stop offset="0.7587" stop-color="#0000d1"/><stop offset="0.7599" stop-color="#0098dd"/><stop offset="0.767" stop-color="#0098dd"/><stop offset="0.7681" stop-color="#00aa90"/><stop offset="0.7775" stop-color="#00aa90"/><stop offset="0.7787" stop-color="#0092dd"/><stop offset="0.7896" stop-color="#0092dd"/><stop offset="0.7907" stop-color="#00aa95"/><stop offset="0.7971" stop-color="#00aa95"/><stop offset="0.7982" stop-color="#0000d1"/><stop offset="0.8113" stop-color="#0000d1"/><stop offset="0.8125" stop-color="#0098dd"/><stop offset="0.8192" stop-color="#0098dd"/><stop offset="0.8204" stop-color="#0000c9"/><stop offset="0.8264" stop-color="#0000c9"/><stop offset="0.8275" stop-color="#850096"/><stop offset="0.8279" stop-color="#670075"/><stop offset="0.8873" stop-color="#5d006b"/><stop offset="0.9248" stop-color="#540060"/><stop offset="0.9549" stop-color="#41004b"/><stop offset="0.9812" stop-color="#2f0035"/><stop offset="1" stop-color="#25002b"/></linearGradient><linearGradient id="g37" x1="0" x2="1" y1="0" y2="0"><stop offset="0" stop-color="#25002b"/><stop offset="0.2026" stop-color="#25002b"/><stop offset="0.2071" stop-color="#5d006b"/><stop offset="0.2127" stop-color="#850096"/><stop offset="0.2244" stop-color="#860097"/><stop offset="0.2274" stop-color="#0300aa"/><stop offset="0.2315" stop-color="#0000dd"/><stop offset="0.2371" stop-color="#0078dd"/><stop offset="0.2428" stop-color="#008add"/><stop offset="0.2672" stop-color="#0092dd"/><stop offset="0.2935" stop-color="#00a3bf"/><stop offset="0.3273" stop-color="#00aaa3"/><stop offset="0.3762" stop-color="#00aa9d"/><stop offset="0.3874" stop-color="#00aa90"/><stop offset="0.3968" stop-color="#009e28"/><stop offset="0.4062" stop-color="#009c00"/><stop offset="0.4194" stop-color="#00a700"/><stop offset="0.4476" stop-color="#00b700"/><stop offset="0.4739" stop-color="#00bc00"/><stop offset="0.5077" stop-color="#00b400"/><stop offset="0.5303" stop-color="#00aa00"/><stop offset="0.5434" stop-color="#009c00"/><stop offset="0.5528" stop-color="#009d1d"/><stop offset="0.5622" stop-color="#00a55d"/><stop offset="0.5716" stop-color="#00aa8b"/><stop offset="0.5904" stop-color="#00aa9d"/><stop offset="0.6054" stop-color="#00a3bf"/><stop offset="0.6204" stop-color="#0098dd"/><stop offset="0.6392" stop-color="#008add"/><stop offset="0.6505" stop-color="#0078dd"/><stop offset="0.6618" stop-color="#0025dd"/><stop offset="0.6768" stop-color="#0000dd"/><stop offset="0.7219" stop-color="#0000d1"/><stop offset="0.7407" stop-color="#0000bd"/><stop offset="0.7418" stop-color="#0000d1"/><stop offset="0.743" stop-color="#00aa95"/><stop offset="0.7516" stop-color="#00aa95"/><stop offset="0.7527" stop-color="#0000d1"/><stop offset="0.7587" stop-color="#0000d1"/><stop offset="0.7599" stop-color="#0098dd"/><stop offset="0.767" stop-color="#0098dd"/><stop offset="0.7681" stop-color="#00aa90"/><stop offset="0.7775" stop-color="#00aa90"/><stop offset="0.7787" stop-color="#0092dd"/><stop offset="0.7896" stop-color="#0092dd"/><stop offset="0.7907" stop-color="#00aa95"/><stop offset="0.7971" stop-color="#00aa95"/><stop offset="0.7982" stop-color="#0000d1"/><stop offset="0.8113" stop-color="#0000d1"/><stop offset="0.8125" stop-color="#0098dd"/><stop offset="0.8192" stop-color="#0098dd"/><stop offset="0.8204" stop-color="#0000c9"/><stop offset="0.8264" stop-color="#0000c9"/><stop offset="0.8275" stop-color="#850096"/><stop offset="0.8279" stop-color="#670075"/><stop offset="0.8873" stop-color="#5d006b"/><stop offset="0.9248" stop-color="#540060"/><stop offset="0.9549" stop-color="#41004b"/><stop offset="0.9812" stop-color="#2f0035"/><stop offset="1" stop-color="#25002b"/></linearGradient><linearGradient id="g38" x1="0" x2="1" y1="0" y2="0"><stop offset="0" stop-color="#25002b"/><stop offset="0.2026" stop-color="#25002b"/><stop offset="0.2071" stop-color="#5d006b"/><stop offset="0.2127" stop-color="#850096"/><stop offset="0.2244" stop-color="#860097"/><stop offset="0.2274" stop-color="#0300aa"/><stop offset="0.2315" stop-color="#0000dd"/><stop offset="0.2371" stop-color="#0078dd"/><stop offset="0.2428" stop-color="#0098dd"/><stop offset="0.2672" stop-color="#009cd3"/><stop offset="0.2935" stop-color="#00aaa3"/><stop offset="0.3273" stop-color="#00aa88"/><stop offset="0.3762" stop-color="#00a773"/><stop offset="0.3874" stop-color="#009f33"/><stop offset="0.3968" stop-color="#009e28"/><stop offset="0.4062" stop-color="#009c00"/><stop offset="0.4194" stop-color="#00bc00"/><stop offset="0.4476" stop-color="#00cc00"/><stop offset="0.4739" stop-color="#00d200"/><stop offset="0.5077" stop-color="#00ca00"/><stop offset="0.5303" stop-color="#00bf00"/><stop offset="0.5434" stop-color="#009c00"/><stop offset="0.5528" stop-color="#009d1d"/><stop offset="0.5622" stop-color="#00a55d"/><stop offset="0.5716" stop-color="#00aa8b"/><stop offset="0.5904" stop-color="#00aa9d"/><stop offset="0.6054" stop-color="#00a3bf"/><stop offset="0.6204" stop-color="#0098dd"/><stop offset="0.6392" stop-color="#008add"/><stop offset="0.6505" stop-color="#0078dd"/><stop offset="0.6618" stop-color="#0025dd"/><stop offset="0.6768" stop-color="#0000dd"/><stop offset="0.7219" stop-color="#0000d1"/><stop offset="0.7407" stop-color="#0000bd"/><stop offset="0.7418" stop-color="#0000d1"/><stop offset="0.743" stop-color="#00aa95"/><stop offset="0.7516" stop-color="#00aa95"/><stop offset="0.7527" stop-color="#0000d1"/><stop offset="0.7587" stop-color="#0000d1"/><stop offset="0.7599" stop-color="#0098dd"/><stop offset="0.767" stop-color="#0098dd"/><stop offset="0.7681" stop-color="#00aa90"/><stop offset="0.7775" stop-color="#00aa90"/><stop offset="0.7787" stop-color="#0092dd"/><stop offset="0.7896" stop-color="#0092dd"/><stop offset="0.7907" stop-color="#00aa95"/><stop offset="0.7971" stop-color="#00aa95"/><stop offset="0.7982" stop-color="#0000d1"/><stop offset="0.8113" stop-color="#0000d1"/><stop offset="0.8125" stop-color="#0098dd"/><stop offset="0.8192" stop-color="#0098dd"/><stop offset="0.8204" stop-color="#0000c9"/><stop offset="0.8264" stop-color="#0000c9"/><stop offset="0.8275" stop-color="#850096"/><stop offset="0.8279" stop-color="#670075"/><stop offset="0.8873" stop-color="#5d006b"/><stop offset="0.9248" stop-color="#540060"/><stop offset="0.9549" stop-color="#41004b"/><stop offset="0.9812" stop-color="#2f0035"/><stop offset="1" stop-color="#25002b"/></linearGradient><linearGradient id="g39" x1="0" x2="1" y1="0" y2="0"><stop offset="0" stop-color="#25002b"/><stop offset="0.2026" stop-color="#25002b"/><stop offset="0.2071" stop-color="#5d006b"/><stop offset="0.2127" stop-color="#850096"/><stop offset="0.2244" stop-color="#860097"/><stop offset="0.2274" stop-color="#0300aa"/><stop offset="0.2315" stop-color="#0000dd"/><stop offset="0.2371" stop-color="#0078dd"/><stop offset="0.2428" stop-color="#0088dd"/><stop offset="0.2672" stop-color="#008ddd"/><stop offset="0.2935" stop-color="#009fcb"/><stop offset="0.3273" stop-color="#00a7b3"/><stop offset="0.3762" stop-color="#00aaab"/><stop offset="0.3874" stop-color="#00aa9d"/><stop offset="0.3968" stop-color="#009e28"/><stop offset="0.4062" stop-color="#009c00"/><stop offset="0.4194" stop-color="#009c00"/><stop offset="0.4476" stop-color="#00ac00"/><stop offset="0.4739" stop-color="#00b200"/><stop offset="0.5077" stop-color="#00ac00"/><stop offset="0.5303" stop-color="#009f00"/><stop offset="0.5434" stop-color="#009c00"/><stop offset="0.5528" stop-color="#009d1d"/><stop offset="0.5622" stop-color="#00a55d"/><stop offset="0.5716" stop-color="#00aa8b"/><stop offset="0.5904" stop-color="#00aa9d"/><stop offset="0.6054" stop-color="#00a3bf"/><stop offset="0.6204" stop-color="#0098dd"/><stop offset="0.6392" stop-color="#008add"/><stop offset="0.6505" stop-color="#0078dd"/><stop offset="0.6618" stop-color="#0025dd"/><stop offset="0.6768" stop-color="#0000dd"/><stop offset="0.7219" stop-color="#0000d1"/><stop offset="0.7407" stop-color="#0000bd"/><stop offset="0.7418" stop-color="#0000d1"/><stop offset="0.743" stop-color="#00aa95"/><stop offset="0.7516" stop-color="#00aa95"/><stop offset="0.7527" stop-color="#0000d1"/><stop offset="0.7587" stop-color="#0000d1"/><stop offset="0.7599" stop-color="#0098dd"/><stop offset="0.767" stop-color="#0098dd"/><stop offset="0.7681" stop-color="#00aa90"/><stop offset="0.7775" stop-color="#00aa90"/><stop offset="0.7787" stop-color="#0092dd"/><stop offset="0.7896" stop-color="#0092dd"/><stop offset="0.7907" stop-color="#00aa95"/><stop offset="0.7971" stop-color="#00aa95"/><stop offset="0.7982" stop-color="#0000d1"/><stop offset="0.8113" stop-color="#0000d1"/><stop offset="0.8125" stop-color="#0098dd"/><stop offset="0.8192" stop-color="#0098dd"/><stop offset="0.8204" stop-color="#0000c9"/><stop offset="0.8264" stop-color="#0000c9"/><stop offset="0.8275" stop-color="#850096"/><stop offset="0.8279" stop-color="#670075"/><stop offset="0.8873" stop-color="#5d006b"/><stop offset="0.9248" stop-color="#540060"/><stop offset="0.9549" stop-color="#41004b"/><stop offset="0.9812" stop-color="#2f0035"/><stop offset="1" stop-color="#25002b"/></linearGradient><linearGradient id="g40" x1="0" x2="1" y1="0" y2="0"><stop offset="0" stop-color="#25002b"/><stop offset="0.2026" stop-color="#25002b"/><stop offset="0.2071" stop-color="#5d006b"/><stop offset="0.2127" stop-color="#850096"/><stop offset="0.2244" stop-color="#860097"/><stop offset="0.2274" stop-color="#0300aa"/><stop offset="0.2315" stop-color="#0000dd"/><stop offset="0.2371" stop-color="#0078dd"/><stop offset="0.2428" stop-color="#0092dd"/><stop offset="0.2672" stop-color="#0098dd"/><stop offset="0.2935" stop-color="#00a7b3"/><stop offset="0.3273" stop-color="#00aa9d"/><stop offset="0.3762" stop-color="#00aa95"/><stop offset="0.3874" stop-color="#00aa88"/><stop offset="0.3968" stop-color="#009e28"/><stop offset="0.4062" stop-color="#009c00"/><stop offset="0.4194" stop-color="#00aa00"/><stop offset="0.4476" stop-color="#00bc00"/><stop offset="0.4739" stop-color="#00bf00"/><stop offset="0.5077" stop-color="#00ba00"/><stop offset="0.5303" stop-color="#00ac00"/><stop offset="0.5434" stop-color="#009c00"/><stop offset="0.5528" stop-color="#009d1d"/><stop offset="0.5622" stop-color="#00a55d"/><stop offset="0.5716" stop-color="#00aa8b"/><stop offset="0.5904" stop-color="#00aa9d"/><stop offset="0.6054" stop-color="#00a3bf"/><stop offset="0.6204" stop-color="#0098dd"/><stop offset="0.6392" stop-color="#008add"/><stop offset="0.6505" stop-color="#0078dd"/><stop offset="0.6618" stop-color="#0025dd"/><stop offset="0.6768" stop-color="#0000dd"/><stop offset="0.7219" stop-color="#0000d1"/><stop offset="0.7407" stop-color="#0000bd"/><stop offset="0.7418" stop-color="#0000d1"/><stop offset="0.743" stop-color="#00aa95"/><stop offset="0.7516" stop-color="#00aa95"/><stop offset="0.7527" stop-color="#0000d1"/><stop offset="0.7587" stop-color="#0000d1"/><stop offset="0.7599" stop-color="#0098dd"/><stop offset="0.767" stop-color="#0098dd"/><stop offset="0.7681" stop-color="#00aa90"/><stop offset="0.7775" stop-color="#00aa90"/><stop offset="0.7787" stop-color="#0092dd"/><stop offset="0.7896" stop-color="#0092dd"/><stop offset="0.7907" stop-color="#00aa95"/><stop offset="0.7971" stop-color="#00aa95"/><stop offset="0.7982" stop-color="#0000d1"/><stop offset="0.8113" stop-color="#0000d1"/><stop offset="0.8125" stop-color="#0098dd"/><stop offset="0.8192" stop-color="#0098dd"/><stop offset="0.8204" stop-color="#0000c9"/><stop offset="0.8264" stop-color="#0000c9"/><stop offset="0.8275" stop-color="#850096"/><stop offset="0.8279" stop-color="#670075"/><stop offset="0.8873" stop-color="#5d006b"/><stop offset="0.9248" stop-color="#540060"/><stop offset="0.9549" stop-color="#41004b"/><stop offset="0.9812" stop-color="#2f0035"/><stop offset="1" stop-color="#25002b"/></linearGradient><linearGradient id="g41" x1="0" x2="1" y1="0" y2="0"><stop offset="0" stop-color="#25002b"/><stop offset="0.2026" stop-color="#25002b"/><stop offset="0.2071" stop-color="#5d006b"/><stop offset="0.2127" stop-color="#850096"/><stop offset="0.2244" stop-color="#860097"/><stop offset="0.2274" stop-color="#0300aa"/><stop offset="0.2315" stop-color="#0000dd"/><stop offset="0.2371" stop-color="#0078dd"/><stop offset="0.2428" stop-color="#008add"/><stop offset="0.2672" stop-color="#0092dd"/><stop offset="0.2935" stop-color="#00a2c3"/><stop offset="0.3273" stop-color="#00aaab"/><stop offset="0.3762" stop-color="#00aaa3"/><stop offset="0.3874" stop-color="#00aa95"/><stop offset="0.3968" stop-color="#009e28"/><stop offset="0.4062" stop-color="#009c00"/><stop offset="0.4194" stop-color="#00a700"/><stop offset="0.4476" stop-color="#00b700"/><stop offset="0.4739" stop-color="#00bc00"/><stop offset="0.5077" stop-color="#00b400"/><stop offset="0.5303" stop-color="#00aa00"/><stop offset="0.5434" stop-color="#009c00"/><stop offset="0.5528" stop-color="#009d1d"/><stop offset="0.5622" stop-color="#00a55d"/><stop offset="0.5716" stop-color="#00aa8b"/><stop offset="0.5904" stop-color="#00aa9d"/><stop offset="0.6054" stop-color="#00a3bf"/><stop offset="0.6204" stop-color="#0098dd"/><stop offset="0.6392" stop-color="#008add"/><stop offset="0.6505" stop-color="#0078dd"/><stop offset="0.6618" stop-color="#0025dd"/><stop offset="0.6768" stop-color="#0000dd"/><stop offset="0.7219" stop-color="#0000d1"/><stop offset="0.7407" stop-color="#0000bd"/><stop offset="0.7418" stop-color="#0000d1"/><stop offset="0.743" stop-color="#00aa95"/><stop offset="0.7516" stop-color="#00aa95"/><stop offset="0.7527" stop-color="#0000d1"/><stop offset="0.7587" stop-color="#0000d1"/><stop offset="0.7599" stop-color="#0098dd"/><stop offset="0.767" stop-color="#0098dd"/><stop offset="0.7681" stop-color="#00aa90"/><stop offset="0.7775" stop-color="#00aa90"/><stop offset="0.7787" stop-color="#0092dd"/><stop offset="0.7896" stop-color="#0092dd"/><stop offset="0.7907" stop-color="#00aa95"/><stop offset="0.7971" stop-color="#00aa95"/><stop offset="0.7982" stop-color="#0000d1"/><stop offset="0.8113" stop-color="#0000d1"/><stop offset="0.8125" stop-color="#0098dd"/><stop offset="0.8192" stop-color="#0098dd"/><stop offset="0.8204" stop-color="#0000c9"/><stop offset="0.8264" stop-color="#0000c9"/><stop offset="0.8275" stop-color="#850096"/><stop offset="0.8279" stop-color="#670075"/><stop offset="0.8873" stop-color="#5d006b"/><stop offset="0.9248" stop-color="#540060"/><stop offset="0.9549" stop-color="#41004b"/><stop offset="0.9812" stop-color="#2f0035"/><stop offset="1" stop-color="#25002b"/></linearGradient><linearGradient id="g42" x1="0" x2="1" y1="0" y2="0"><stop offset="0" stop-color="#130015"/><stop offset="0.2296" stop-color="#130015"/><stop offset="0.2672" stop-color="#1c0020"/><stop offset="0.8271" stop-color="#1c0020"/><stop offset="0.8685" stop-color="#2f0035"/><stop offset="1" stop-color="#1c0020"/></linearGradient><linearGradient id="g43" x1="0" x2="1" y1="0" y2="0"><stop offset="0" stop-color="#09000b"/><stop offset="0.3799" stop-color="#09000b"/><stop offset="0.4025" stop-color="#000000"/><stop offset="0.5303" stop-color="#000000"/><stop offset="0.5678" stop-color="#09000b"/><stop offset="1" stop-color="#09000b"/></linearGradient><linearGradient id="g44" x1="0" x2="1" y1="0" y2="0"><stop offset="0" stop-color="#25002b"/><stop offset="0.1883" stop-color="#25002b"/><stop offset="0.1977" stop-color="#700080"/><stop offset="0.2056" stop-color="#860097"/><stop offset="0.2078" stop-color="#0300aa"/><stop offset="0.2116" stop-color="#0013dd"/><stop offset="0.2146" stop-color="#008add"/><stop offset="0.2221" stop-color="#00a3bf"/><stop offset="0.227" stop-color="#00aa88"/><stop offset="0.2307" stop-color="#00a700"/><stop offset="0.239" stop-color="#00dc00"/><stop offset="0.2484" stop-color="#00ff00"/><stop offset="0.2559" stop-color="#93ff00"/><stop offset="0.2616" stop-color="#ccf900"/><stop offset="0.3724" stop-color="#d0f800"/><stop offset="0.395" stop-color="#e0f300"/><stop offset="0.425" stop-color="#e8f000"/><stop offset="0.4551" stop-color="#efed00"/><stop offset="0.4852" stop-color="#ecef00"/><stop offset="0.5077" stop-color="#e0f300"/><stop offset="0.5209" stop-color="#d0f800"/><stop offset="0.5284" stop-color="#93ff00"/><stop offset="0.534" stop-color="#00ff00"/><stop offset="0.5528" stop-color="#00ea00"/><stop offset="0.5829" stop-color="#00cf00"/><stop offset="0.6092" stop-color="#00b400"/><stop offset="0.628" stop-color="#009a00"/><stop offset="0.643" stop-color="#00a353"/><stop offset="0.658" stop-color="#00aa95"/><stop offset="0.6806" stop-color="#00a3bf"/><stop offset="0.7069" stop-color="#0092dd"/><stop offset="0.7407" stop-color="#008add"/><stop offset="0.7418" stop-color="#0013dd"/><stop offset="0.743" stop-color="#00aa95"/><stop offset="0.7516" stop-color="#00aa95"/><stop offset="0.7527" stop-color="#0000d1"/><stop offset="0.7587" stop-color="#0000d1"/><stop offset="0.7599" stop-color="#0098dd"/><stop offset="0.767" stop-color="#0098dd"/><stop offset="0.7681" stop-color="#00aa90"/><stop offset="0.7775" stop-color="#00aa90"/><stop offset="0.7787" stop-color="#0092dd"/><stop offset="0.7896" stop-color="#0092dd"/><stop offset="0.7907" stop-color="#00aa95"/><stop offset="0.7971" stop-color="#00aa95"/><stop offset="0.7982" stop-color="#0000d1"/><stop offset="0.8113" stop-color="#0000d1"/><stop offset="0.8125" stop-color="#0098dd"/><stop offset="0.8192" stop-color="#0098dd"/><stop offset="0.8204" stop-color="#0000c9"/><stop offset="0.8264" stop-color="#0000c9"/><stop offset="0.8275" stop-color="#850096"/><stop offset="0.8985" stop-color="#850096"/><stop offset="0.9286" stop-color="#7f0090"/><stop offset="0.9549" stop-color="#79008a"/><stop offset="0.9775" stop-color="#4b0055"/><stop offset="1" stop-color="#41004b"/></linearGradient><linearGradient id="g45" x1="0" x2="1" y1="0" y2="0"><stop offset="0" stop-color="#09000b"/><stop offset="0.1887" stop-color="#09000b"/><stop offset="0.198" stop-color="#41004b"/><stop offset="0.2056" stop-color="#700080"/><stop offset="0.2082" stop-color="#7f0090"/><stop offset="0.2112" stop-color="#78009b"/><stop offset="0.215" stop-color="#1800a7"/><stop offset="0.2217" stop-color="#0000bd"/><stop offset="0.2262" stop-color="#0000dd"/><stop offset="0.23" stop-color="#0054dd"/><stop offset="0.2394" stop-color="#008add"/><stop offset="0.2488" stop-color="#009adb"/><stop offset="0.2563" stop-color="#00a0c7"/><stop offset="0.2619" stop-color="#00a4bb"/><stop offset="0.3051" stop-color="#00a4bb"/><stop offset="0.3728" stop-color="#00a6b7"/><stop offset="0.3953" stop-color="#00a8af"/><stop offset="0.4179" stop-color="#00aaab"/><stop offset="0.4404" stop-color="#00aaa8"/><stop offset="0.463" stop-color="#00aaa8"/><stop offset="0.4855" stop-color="#00aaab"/><stop offset="0.5043" stop-color="#00a7b3"/><stop offset="0.5194" stop-color="#00a4bb"/><stop offset="0.5269" stop-color="#00a0c7"/><stop offset="0.5325" stop-color="#009adb"/><stop offset="0.5494" stop-color="#0095dd"/><stop offset="0.5795" stop-color="#008add"/><stop offset="0.6058" stop-color="#0078dd"/><stop offset="0.6246" stop-color="#004bdd"/><stop offset="0.6396" stop-color="#001cdd"/><stop offset="0.6546" stop-color="#0000d5"/><stop offset="0.6734" stop-color="#0000bd"/><stop offset="0.6997" stop-color="#0000ad"/><stop offset="0.726" stop-color="#1800a7"/><stop offset="0.7392" stop-color="#4300a2"/><stop offset="0.7403" stop-color="#78009b"/><stop offset="0.7415" stop-color="#0000c9"/><stop offset="0.7497" stop-color="#0000c9"/><stop offset="0.7508" stop-color="#78009b"/><stop offset="0.7584" stop-color="#78009b"/><stop offset="0.7595" stop-color="#0000ad"/><stop offset="0.7678" stop-color="#0000ad"/><stop offset="0.7689" stop-color="#78009b"/><stop offset="0.7798" stop-color="#78009b"/><stop offset="0.7809" stop-color="#0000ad"/><stop offset="0.7877" stop-color="#0000ad"/><stop offset="0.7888" stop-color="#78009b"/><stop offset="0.7952" stop-color="#78009b"/><stop offset="0.7963" stop-color="#0000c9"/><stop offset="0.8035" stop-color="#0000c9"/><stop offset="0.8046" stop-color="#870098"/><stop offset="0.8106" stop-color="#850096"/><stop offset="0.8117" stop-color="#770088"/><stop offset="0.8181" stop-color="#770088"/><stop offset="0.8192" stop-color="#870098"/><stop offset="0.8234" stop-color="#830094"/><stop offset="0.8249" stop-color="#700080"/><stop offset="0.9215" stop-color="#700080"/><stop offset="0.944" stop-color="#540060"/><stop offset="0.9666" stop-color="#2f0035"/><stop offset="0.9853" stop-color="#1c0020"/><stop offset="1" stop-color="#130015"/></linearGradient><linearGradient id="g46" x1="0" x2="1" y1="0" y2="0"><stop offset="0" stop-color="#09000b"/><stop offset="0.1999" stop-color="#09000b"/><stop offset="0.2074" stop-color="#130015"/><stop offset="0.2488" stop-color="#1c0020"/><stop offset="0.3427" stop-color="#25002b"/><stop offset="0.493" stop-color="#25002b"/><stop offset="0.587" stop-color="#1c0020"/><stop offset="0.8125" stop-color="#1c0020"/><stop offset="0.9064" stop-color="#130015"/><stop offset="1" stop-color="#130015"/></linearGradient><linearGradient id="g47" x1="0" x2="1" y1="0" y2="0"><stop offset="0" stop-color="#130015"/><stop offset="0.2029" stop-color="#130015"/><stop offset="0.2074" stop-color="#380040"/><stop offset="0.2131" stop-color="#770088"/><stop offset="0.2247" stop-color="#79008a"/><stop offset="0.2277" stop-color="#820093"/><stop offset="0.2319" stop-color="#78009b"/><stop offset="0.2375" stop-color="#2d00a4"/><stop offset="0.2431" stop-color="#0300aa"/><stop offset="0.2488" stop-color="#0300aa"/><stop offset="0.2638" stop-color="#0000ad"/><stop offset="0.2901" stop-color="#0000c5"/><stop offset="0.3239" stop-color="#0000d9"/><stop offset="0.3427" stop-color="#0000dd"/><stop offset="0.3728" stop-color="#0009dd"/><stop offset="0.3859" stop-color="#001cdd"/><stop offset="0.3953" stop-color="#004bdd"/><stop offset="0.4066" stop-color="#0067dd"/><stop offset="0.4159" stop-color="#0070dd"/><stop offset="0.416" stop-color="#009ecf"/><stop offset="0.4228" stop-color="#009ecf"/><stop offset="0.4228" stop-color="#0078dd"/><stop offset="0.448" stop-color="#0080dd"/><stop offset="0.493" stop-color="#0080dd"/><stop offset="0.5156" stop-color="#007ddd"/><stop offset="0.5269" stop-color="#0078dd"/><stop offset="0.5381" stop-color="#005ddd"/><stop offset="0.5475" stop-color="#004bdd"/><stop offset="0.5569" stop-color="#002fdd"/><stop offset="0.5682" stop-color="#0013dd"/><stop offset="0.587" stop-color="#0000d9"/><stop offset="0.602" stop-color="#0000c5"/><stop offset="0.6171" stop-color="#0000b5"/><stop offset="0.6359" stop-color="#0300aa"/><stop offset="0.6471" stop-color="#2d00a4"/><stop offset="0.6584" stop-color="#58009f"/><stop offset="0.6734" stop-color="#6d009c"/><stop offset="0.7185" stop-color="#83009a"/><stop offset="0.7373" stop-color="#860097"/><stop offset="0.7392" stop-color="#860097"/><stop offset="0.7403" stop-color="#83009a"/><stop offset="0.7415" stop-color="#0000cd"/><stop offset="0.7497" stop-color="#0000cd"/><stop offset="0.7508" stop-color="#83009a"/><stop offset="0.7584" stop-color="#83009a"/><stop offset="0.7595" stop-color="#0000b1"/><stop offset="0.7678" stop-color="#0000b1"/><stop offset="0.7689" stop-color="#83009a"/><stop offset="0.7798" stop-color="#83009a"/><stop offset="0.7809" stop-color="#0000b1"/><stop offset="0.7877" stop-color="#0000b1"/><stop offset="0.7888" stop-color="#83009a"/><stop offset="0.7952" stop-color="#83009a"/><stop offset="0.7963" stop-color="#0000cd"/><stop offset="0.8035" stop-color="#0000cd"/><stop offset="0.8046" stop-color="#83009a"/><stop offset="0.8106" stop-color="#870098"/><stop offset="0.8117" stop-color="#7a008b"/><stop offset="0.8181" stop-color="#7a008b"/><stop offset="0.8192" stop-color="#83009a"/><stop offset="0.8234" stop-color="#860097"/><stop offset="0.8249" stop-color="#79008a"/><stop offset="0.8275" stop-color="#5d006b"/><stop offset="0.8388" stop-color="#41004b"/><stop offset="0.8688" stop-color="#380040"/><stop offset="0.9064" stop-color="#2f0035"/><stop offset="0.944" stop-color="#1c0020"/><stop offset="0.9816" stop-color="#130015"/><stop offset="1" stop-color="#130015"/></linearGradient><linearGradient id="g48" x1="0" x2="1" y1="0" y2="0"><stop offset="0" stop-color="#130015"/><stop offset="0.2029" stop-color="#130015"/><stop offset="0.2074" stop-color="#5d006b"/><stop offset="0.2131" stop-color="#850096"/><stop offset="0.2247" stop-color="#860097"/><stop offset="0.2277" stop-color="#0300aa"/><stop offset="0.2319" stop-color="#0000dd"/><stop offset="0.2375" stop-color="#0078dd"/><stop offset="0.2431" stop-color="#008add"/><stop offset="0.2638" stop-color="#0092dd"/><stop offset="0.2901" stop-color="#00a4bb"/><stop offset="0.3239" stop-color="#00aa9d"/><stop offset="0.3728" stop-color="#00aa95"/><stop offset="0.3859" stop-color="#00aa88"/><stop offset="0.3953" stop-color="#009e28"/><stop offset="0.4066" stop-color="#009c00"/><stop offset="0.4159" stop-color="#00a400"/><stop offset="0.416" stop-color="#00ff00"/><stop offset="0.4228" stop-color="#00ff00"/><stop offset="0.4228" stop-color="#00aa00"/><stop offset="0.448" stop-color="#00ba00"/><stop offset="0.4855" stop-color="#00bf00"/><stop offset="0.5156" stop-color="#00b700"/><stop offset="0.5269" stop-color="#00ac00"/><stop offset="0.5381" stop-color="#009c00"/><stop offset="0.5475" stop-color="#009d1d"/><stop offset="0.5569" stop-color="#00a55d"/><stop offset="0.5682" stop-color="#00aa8b"/><stop offset="0.587" stop-color="#00aa9d"/><stop offset="0.602" stop-color="#00a3bf"/><stop offset="0.6171" stop-color="#0098dd"/><stop offset="0.6359" stop-color="#008add"/><stop offset="0.6471" stop-color="#0078dd"/><stop offset="0.6584" stop-color="#0025dd"/><stop offset="0.6734" stop-color="#0000dd"/><stop offset="0.7185" stop-color="#0000d1"/><stop offset="0.7392" stop-color="#0000bd"/><stop offset="0.7403" stop-color="#0000d1"/><stop offset="0.7415" stop-color="#00aaab"/><stop offset="0.7497" stop-color="#00aaab"/><stop offset="0.7508" stop-color="#0000d1"/><stop offset="0.7584" stop-color="#0000d1"/><stop offset="0.7595" stop-color="#0098dd"/><stop offset="0.7678" stop-color="#0098dd"/><stop offset="0.7689" stop-color="#0000d1"/><stop offset="0.7798" stop-color="#0000d1"/><stop offset="0.7809" stop-color="#0098dd"/><stop offset="0.7877" stop-color="#0098dd"/><stop offset="0.7888" stop-color="#0000d1"/><stop offset="0.7952" stop-color="#0000d1"/><stop offset="0.7963" stop-color="#00aaab"/><stop offset="0.8035" stop-color="#00aaab"/><stop offset="0.8046" stop-color="#0000d1"/><stop offset="0.8106" stop-color="#0000c9"/><stop offset="0.8117" stop-color="#870098"/><stop offset="0.8181" stop-color="#870098"/><stop offset="0.8192" stop-color="#0000d1"/><stop offset="0.8234" stop-color="#0000bd"/><stop offset="0.8249" stop-color="#850096"/><stop offset="0.8275" stop-color="#7a008b"/><stop offset="0.8388" stop-color="#5d006b"/><stop offset="0.8688" stop-color="#4b0055"/><stop offset="0.9064" stop-color="#380040"/><stop offset="0.944" stop-color="#25002b"/><stop offset="0.9816" stop-color="#130015"/><stop offset="1" stop-color="#130015"/></linearGradient><linearGradient id="g49" x1="0" x2="1" y1="0" y2="0"><stop offset="0" stop-color="#130015"/><stop offset="0.2029" stop-color="#130015"/><stop offset="0.2074" stop-color="#5d006b"/><stop offset="0.2131" stop-color="#850096"/><stop offset="0.2247" stop-color="#860097"/><stop offset="0.2277" stop-color="#0300aa"/><stop offset="0.2319" stop-color="#0000dd"/><stop offset="0.2375" stop-color="#0078dd"/><stop offset="0.2431" stop-color="#008ddd"/><stop offset="0.2638" stop-color="#0092dd"/><stop offset="0.2901" stop-color="#00a4bb"/><stop offset="0.3239" stop-color="#00aaa0"/><stop offset="0.3728" stop-color="#00aa98"/><stop offset="0.3859" stop-color="#00aa8b"/><stop offset="0.3953" stop-color="#009e28"/><stop offset="0.4066" stop-color="#009c00"/><stop offset="0.4159" stop-color="#00a400"/><stop offset="0.416" stop-color="#00ff00"/><stop offset="0.4228" stop-color="#00ff00"/><stop offset="0.4228" stop-color="#00aa00"/><stop offset="0.448" stop-color="#00ba00"/><stop offset="0.4855" stop-color="#00bf00"/><stop offset="0.5156" stop-color="#00b700"/><stop offset="0.5269" stop-color="#00ac00"/><stop offset="0.5381" stop-color="#009c00"/><stop offset="0.5475" stop-color="#009d1d"/><stop offset="0.5569" stop-color="#00a55d"/><stop offset="0.5682" stop-color="#00aa8b"/><stop offset="0.587" stop-color="#00aa9d"/><stop offset="0.602" stop-color="#00a3bf"/><stop offset="0.6171" stop-color="#0098dd"/><stop offset="0.6359" stop-color="#008add"/><stop offset="0.6471" stop-color="#0078dd"/><stop offset="0.6584" stop-color="#0025dd"/><stop offset="0.6734" stop-color="#0000dd"/><stop offset="0.7185" stop-color="#0000d1"/><stop offset="0.7392" stop-color="#0000bd"/><stop offset="0.7403" stop-color="#0000d1"/><stop offset="0.7415" stop-color="#00aaab"/><stop offset="0.7497" stop-color="#00aaab"/><stop offset="0.7508" stop-color="#0000d1"/><stop offset="0.7584" stop-color="#0000d1"/><stop offset="0.7595" stop-color="#0098dd"/><stop offset="0.7678" stop-color="#0098dd"/><stop offset="0.7689" stop-color="#0000d1"/><stop offset="0.7798" stop-color="#0000d1"/><stop offset="0.7809" stop-color="#0098dd"/><stop offset="0.7877" stop-color="#0098dd"/><stop offset="0.7888" stop-color="#0000d1"/><stop offset="0.7952" stop-color="#0000d1"/><stop offset="0.7963" stop-color="#00aaab"/><stop offset="0.8035" stop-color="#00aaab"/><stop offset="0.8046" stop-color="#0000d1"/><stop offset="0.8106" stop-color="#0000c9"/><stop offset="0.8117" stop-color="#870098"/><stop offset="0.8181" stop-color="#870098"/><stop offset="0.8192" stop-color="#0000d1"/><stop offset="0.8234" stop-color="#0000bd"/><stop offset="0.8249" stop-color="#850096"/><stop offset="0.8275" stop-color="#7a008b"/><stop offset="0.8388" stop-color="#5d006b"/><stop offset="0.8688" stop-color="#4b0055"/><stop offset="0.9064" stop-color="#380040"/><stop offset="0.944" stop-color="#25002b"/><stop offset="0.9816" stop-color="#130015"/><stop offset="1" stop-color="#130015"/></linearGradient><linearGradient id="g50" x1="0" x2="1" y1="0" y2="0"><stop offset="0" stop-color="#130015"/><stop offset="0.2029" stop-color="#130015"/><stop offset="0.2074" stop-color="#5d006b"/><stop offset="0.2131" stop-color="#850096"/><stop offset="0.2247" stop-color="#860097"/><stop offset="0.2277" stop-color="#0300aa"/><stop offset="0.2319" stop-color="#0000dd"/><stop offset="0.2375" stop-color="#0078dd"/><stop offset="0.2431" stop-color="#0092dd"/><stop offset="0.2638" stop-color="#009adb"/><stop offset="0.2901" stop-color="#00aaab"/><stop offset="0.3239" stop-color="#00aa93"/><stop offset="0.3728" stop-color="#00aa8b"/><stop offset="0.3859" stop-color="#00a55d"/><stop offset="0.3953" stop-color="#009e28"/><stop offset="0.4066" stop-color="#009c00"/><stop offset="0.4159" stop-color="#00a700"/><stop offset="0.416" stop-color="#00d400"/><stop offset="0.4198" stop-color="#00d700"/><stop offset="0.4228" stop-color="#00d700"/><stop offset="0.4228" stop-color="#00ac00"/><stop offset="0.448" stop-color="#00bc00"/><stop offset="0.4855" stop-color="#00bf00"/><stop offset="0.5156" stop-color="#00ba00"/><stop offset="0.5269" stop-color="#00ac00"/><stop offset="0.5381" stop-color="#009c00"/><stop offset="0.5475" stop-color="#009d1d"/><stop offset="0.5569" stop-color="#00a55d"/><stop offset="0.5682" stop-color="#00aa8b"/><stop offset="0.587" stop-color="#00aa9d"/><stop offset="0.602" stop-color="#00a3bf"/><stop offset="0.6171" stop-color="#0098dd"/><stop offset="0.6359" stop-color="#008add"/><stop offset="0.6471" stop-color="#0078dd"/><stop offset="0.6584" stop-color="#0025dd"/><stop offset="0.6734" stop-color="#0000dd"/><stop offset="0.7185" stop-color="#0000d1"/><stop offset="0.7392" stop-color="#0000bd"/><stop offset="0.7403" stop-color="#0000d1"/><stop offset="0.7415" stop-color="#00aaab"/><stop offset="0.7497" stop-color="#00aaab"/><stop offset="0.7508" stop-color="#0000d1"/><stop offset="0.7584" stop-color="#0000d1"/><stop offset="0.7595" stop-color="#0098dd"/><stop offset="0.7678" stop-color="#0098dd"/><stop offset="0.7689" stop-color="#0000d1"/><stop offset="0.7798" stop-color="#0000d1"/><stop offset="0.7809" stop-color="#0098dd"/><stop offset="0.7877" stop-color="#0098dd"/><stop offset="0.7888" stop-color="#0000d1"/><stop offset="0.7952" stop-color="#0000d1"/><stop offset="0.7963" stop-color="#00aaab"/><stop offset="0.8035" stop-color="#00aaab"/><stop offset="0.8046" stop-color="#0000d1"/><stop offset="0.8106" stop-color="#0000c9"/><stop offset="0.8117" stop-color="#870098"/><stop offset="0.8181" stop-color="#870098"/><stop offset="0.8192" stop-color="#0000d1"/><stop offset="0.8234" stop-color="#0000bd"/><stop offset="0.8249" stop-color="#850096"/><stop offset="0.8275" stop-color="#7a008b"/><stop offset="0.8388" stop-color="#5d006b"/><stop offset="0.8688" stop-color="#4b0055"/><stop offset="0.9064" stop-color="#380040"/><stop offset="0.944" stop-color="#25002b"/><stop offset="0.9816" stop-color="#130015"/><stop offset="1" stop-color="#130015"/></linearGradient><linearGradient id="g51" x1="0" x2="1" y1="0" y2="0"><stop offset="0" stop-color="#130015"/><stop offset="0.2029" stop-color="#130015"/><stop offset="0.2074" stop-color="#5d006b"/><stop offset="0.2131" stop-color="#850096"/><stop offset="0.2247" stop-color="#860097"/><stop offset="0.2277" stop-color="#0300aa"/><stop offset="0.2319" stop-color="#0000dd"/><stop offset="0.2375" stop-color="#0078dd"/><stop offset="0.2431" stop-color="#0092dd"/><stop offset="0.2638" stop-color="#0098dd"/><stop offset="0.2901" stop-color="#00a8af"/><stop offset="0.3239" stop-color="#00aa95"/><stop offset="0.3728" stop-color="#00aa90"/><stop offset="0.3859" stop-color="#00a773"/><stop offset="0.3953" stop-color="#009e28"/><stop offset="0.4066" stop-color="#009c00"/><stop offset="0.4198" stop-color="#00af00"/><stop offset="0.448" stop-color="#00bf00"/><stop offset="0.4855" stop-color="#00c400"/><stop offset="0.5156" stop-color="#00bf00"/><stop offset="0.5269" stop-color="#00b200"/><stop offset="0.5381" stop-color="#009c00"/><stop offset="0.5475" stop-color="#009d1d"/><stop offset="0.5569" stop-color="#00a55d"/><stop offset="0.5682" stop-color="#00aa8b"/><stop offset="0.587" stop-color="#00aa9d"/><stop offset="0.602" stop-color="#00a3bf"/><stop offset="0.6171" stop-color="#0098dd"/><stop offset="0.6359" stop-color="#008add"/><stop offset="0.6471" stop-color="#0078dd"/><stop offset="0.6584" stop-color="#0025dd"/><stop offset="0.6734" stop-color="#0000dd"/><stop offset="0.7185" stop-color="#0000d1"/><stop offset="0.7392" stop-color="#0000bd"/><stop offset="0.7403" stop-color="#0000d1"/><stop offset="0.7415" stop-color="#00aaab"/><stop offset="0.7497" stop-color="#00aaab"/><stop offset="0.7508" stop-color="#0000d1"/><stop offset="0.7584" stop-color="#0000d1"/><stop offset="0.7595" stop-color="#0098dd"/><stop offset="0.7678" stop-color="#0098dd"/><stop offset="0.7689" stop-color="#0000d1"/><stop offset="0.7798" stop-color="#0000d1"/><stop offset="0.7809" stop-color="#0098dd"/><stop offset="0.7877" stop-color="#0098dd"/><stop offset="0.7888" stop-color="#0000d1"/><stop offset="0.7952" stop-color="#0000d1"/><stop offset="0.7963" stop-color="#00aaab"/><stop offset="0.8035" stop-color="#00aaab"/><stop offset="0.8046" stop-color="#0000d1"/><stop offset="0.8106" stop-color="#0000c9"/><stop offset="0.8117" stop-color="#870098"/><stop offset="0.8181" stop-color="#870098"/><stop offset="0.8192" stop-color="#0000d1"/><stop offset="0.8234" stop-color="#0000bd"/><stop offset="0.8249" stop-color="#850096"/><stop offset="0.8275" stop-color="#7a008b"/><stop offset="0.8388" stop-color="#5d006b"/><stop offset="0.8688" stop-color="#4b0055"/><stop offset="0.9064" stop-color="#380040"/><stop offset="0.944" stop-color="#25002b"/><stop offset="0.9816" stop-color="#130015"/><stop offset="1" stop-color="#130015"/></linearGradient><linearGradient id="g52" x1="0" x2="1" y1="0" y2="0"><stop offset="0" stop-color="#130015"/><stop offset="0.2029" stop-color="#130015"/><stop offset="0.2074" stop-color="#5d006b"/><stop offset="0.2131" stop-color="#850096"/><stop offset="0.2247" stop-color="#860097"/><stop offset="0.2277" stop-color="#0300aa"/><stop offset="0.2319" stop-color="#0000dd"/><stop offset="0.2375" stop-color="#0078dd"/><stop offset="0.2431" stop-color="#008add"/><stop offset="0.2638" stop-color="#0092dd"/><stop offset="0.2901" stop-color="#00a2c3"/><stop offset="0.3239" stop-color="#00aaab"/><stop offset="0.3728" stop-color="#00aaa3"/><stop offset="0.3859" stop-color="#00aa95"/><stop offset="0.3953" stop-color="#009e28"/><stop offset="0.4066" stop-color="#009c00"/><stop offset="0.4198" stop-color="#00ac00"/><stop offset="0.448" stop-color="#00bf00"/><stop offset="0.4855" stop-color="#00c400"/><stop offset="0.5156" stop-color="#00bc00"/><stop offset="0.5269" stop-color="#00b200"/><stop offset="0.5381" stop-color="#009c00"/><stop offset="0.5475" stop-color="#009d1d"/><stop offset="0.5569" stop-color="#00a55d"/><stop offset="0.5682" stop-color="#00aa8b"/><stop offset="0.587" stop-color="#00aa9d"/><stop offset="0.602" stop-color="#00a3bf"/><stop offset="0.6171" stop-color="#0098dd"/><stop offset="0.6359" stop-color="#008add"/><stop offset="0.6471" stop-color="#0078dd"/><stop offset="0.6584" stop-color="#0025dd"/><stop offset="0.6734" stop-color="#0000dd"/><stop offset="0.7185" stop-color="#0000d1"/><stop offset="0.7392" stop-color="#0000bd"/><stop offset="0.7403" stop-color="#0000d1"/><stop offset="0.7415" stop-color="#00aaab"/><stop offset="0.7497" stop-color="#00aaab"/><stop offset="0.7508" stop-color="#0000d1"/><stop offset="0.7584" stop-color="#0000d1"/><stop offset="0.7595" stop-color="#0098dd"/><stop offset="0.7678" stop-color="#0098dd"/><stop offset="0.7689" stop-color="#0000d1"/><stop offset="0.7798" stop-color="#0000d1"/><stop offset="0.7809" stop-color="#0098dd"/><stop offset="0.7877" stop-color="#0098dd"/><stop offset="0.7888" stop-color="#0000d1"/><stop offset="0.7952" stop-color="#0000d1"/><stop offset="0.7963" stop-color="#00aaab"/><stop offset="0.8035" stop-color="#00aaab"/><stop offset="0.8046" stop-color="#0000d1"/><stop offset="0.8106" stop-color="#0000c9"/><stop offset="0.8117" stop-color="#870098"/><stop offset="0.8181" stop-color="#870098"/><stop offset="0.8192" stop-color="#0000d1"/><stop offset="0.8234" stop-color="#0000bd"/><stop offset="0.8249" stop-color="#850096"/><stop offset="0.8275" stop-color="#7a008b"/><stop offset="0.8388" stop-color="#5d006b"/><stop offset="0.8688" stop-color="#4b0055"/><stop offset="0.9064" stop-color="#380040"/><stop offset="0.944" stop-color="#25002b"/><stop offset="0.9816" stop-color="#130015"/><stop offset="1" stop-color="#130015"/></linearGradient><linearGradient id="g53" x1="0" x2="1" y1="0" y2="0"><stop offset="0" stop-color="#130015"/><stop offset="0.2029" stop-color="#130015"/><stop offset="0.2074" stop-color="#5d006b"/><stop offset="0.2131" stop-color="#850096"/><stop offset="0.2247" stop-color="#860097"/><stop offset="0.2277" stop-color="#0300aa"/><stop offset="0.2319" stop-color="#0000dd"/><stop offset="0.2375" stop-color="#0078dd"/><stop offset="0.2431" stop-color="#008add"/><stop offset="0.2638" stop-color="#0092dd"/><stop offset="0.2901" stop-color="#00a2c3"/><stop offset="0.3239" stop-color="#00aaa8"/><stop offset="0.3728" stop-color="#00aaa0"/><stop offset="0.3859" stop-color="#00aa93"/><stop offset="0.3953" stop-color="#009e28"/><stop offset="0.4066" stop-color="#009c00"/><stop offset="0.4198" stop-color="#00a700"/><stop offset="0.448" stop-color="#00b700"/><stop offset="0.4855" stop-color="#00bc00"/><stop offset="0.5156" stop-color="#00b400"/><stop offset="0.5269" stop-color="#00aa00"/><stop offset="0.5381" stop-color="#009c00"/><stop offset="0.5475" stop-color="#009d1d"/><stop offset="0.5569" stop-color="#00a55d"/><stop offset="0.5682" stop-color="#00aa8b"/><stop offset="0.587" stop-color="#00aa9d"/><stop offset="0.602" stop-color="#00a3bf"/><stop offset="0.6171" stop-color="#0098dd"/><stop offset="0.6359" stop-color="#008add"/><stop offset="0.6471" stop-color="#0078dd"/><stop offset="0.6584" stop-color="#0025dd"/><stop offset="0.6734" stop-color="#0000dd"/><stop offset="0.7185" stop-color="#0000d1"/><stop offset="0.7392" stop-color="#0000bd"/><stop offset="0.7403" stop-color="#0000d1"/><stop offset="0.7415" stop-color="#00aaab"/><stop offset="0.7497" stop-color="#00aaab"/><stop offset="0.7508" stop-color="#0000d1"/><stop offset="0.7584" stop-color="#0000d1"/><stop offset="0.7595" stop-color="#0098dd"/><stop offset="0.7678" stop-color="#0098dd"/><stop offset="0.7689" stop-color="#0000d1"/><stop offset="0.7798" stop-color="#0000d1"/><stop offset="0.7809" stop-color="#0098dd"/><stop offset="0.7877" stop-color="#0098dd"/><stop offset="0.7888" stop-color="#0000d1"/><stop offset="0.7952" stop-color="#0000d1"/><stop offset="0.7963" stop-color="#00aaab"/><stop offset="0.8035" stop-color="#00aaab"/><stop offset="0.8046" stop-color="#0000d1"/><stop offset="0.8106" stop-color="#0000c9"/><stop offset="0.8117" stop-color="#870098"/><stop offset="0.8181" stop-color="#870098"/><stop offset="0.8192" stop-color="#0000d1"/><stop offset="0.8234" stop-color="#0000bd"/><stop offset="0.8249" stop-color="#850096"/><stop offset="0.8275" stop-color="#7a008b"/><stop offset="0.8388" stop-color="#5d006b"/><stop offset="0.8688" stop-color="#4b0055"/><stop offset="0.9064" stop-color="#380040"/><stop offset="0.944" stop-color="#25002b"/><stop offset="0.9816" stop-color="#130015"/><stop offset="1" stop-color="#130015"/></linearGradient><linearGradient id="g54" x1="0" x2="1" y1="0" y2="0"><stop offset="0" stop-color="#130015"/><stop offset="0.2029" stop-color="#130015"/><stop offset="0.2074" stop-color="#5d006b"/><stop offset="0.2131" stop-color="#850096"/><stop offset="0.2247" stop-color="#860097"/><stop offset="0.2277" stop-color="#0300aa"/><stop offset="0.2319" stop-color="#0000dd"/><stop offset="0.2375" stop-color="#0078dd"/><stop offset="0.2431" stop-color="#008ddd"/><stop offset="0.2638" stop-color="#0095dd"/><stop offset="0.2901" stop-color="#00a4bb"/><stop offset="0.3239" stop-color="#00aaa0"/><stop offset="0.3728" stop-color="#00aa98"/><stop offset="0.3859" stop-color="#00aa8b"/><stop offset="0.3953" stop-color="#009e28"/><stop offset="0.4066" stop-color="#009c00"/><stop offset="0.4198" stop-color="#00a700"/><stop offset="0.448" stop-color="#00ba00"/><stop offset="0.4855" stop-color="#00bf00"/><stop offset="0.5156" stop-color="#00b700"/><stop offset="0.5269" stop-color="#00ac00"/><stop offset="0.5381" stop-color="#009c00"/><stop offset="0.5475" stop-color="#009d1d"/><stop offset="0.5569" stop-color="#00a55d"/><stop offset="0.5682" stop-color="#00aa8b"/><stop offset="0.587" stop-color="#00aa9d"/><stop offset="0.602" stop-color="#00a3bf"/><stop offset="0.6171" stop-color="#0098dd"/><stop offset="0.6359" stop-color="#008add"/><stop offset="0.6471" stop-color="#0078dd"/><stop offset="0.6584" stop-color="#0025dd"/><stop offset="0.6734" stop-color="#0000dd"/><stop offset="0.7185" stop-color="#0000d1"/><stop offset="0.7392" stop-color="#0000bd"/><stop offset="0.7403" stop-color="#0000d1"/><stop offset="0.7415" stop-color="#00aaab"/><stop offset="0.7497" stop-color="#00aaab"/><stop offset="0.7508" stop-color="#0000d1"/><stop offset="0.7584" stop-color="#0000d1"/><stop offset="0.7595" stop-color="#0098dd"/><stop offset="0.7678" stop-color="#0098dd"/><stop offset="0.7689" stop-color="#0000d1"/><stop offset="0.7798" stop-color="#0000d1"/><stop offset="0.7809" stop-color="#0098dd"/><stop offset="0.7877" stop-color="#0098dd"/><stop offset="0.7888" stop-color="#0000d1"/><stop offset="0.7952" stop-color="#0000d1"/><stop offset="0.7963" stop-color="#00aaab"/><stop offset="0.8035" stop-color="#00aaab"/><stop offset="0.8046" stop-color="#0000d1"/><stop offset="0.8106" stop-color="#0000c9"/><stop offset="0.8117" stop-color="#870098"/><stop offset="0.8181" stop-color="#870098"/><stop offset="0.8192" stop-color="#0000d1"/><stop offset="0.8234" stop-color="#0000bd"/><stop offset="0.8249" stop-color="#850096"/><stop offset="0.8275" stop-color="#7a008b"/><stop offset="0.8388" stop-color="#5d006b"/><stop offset="0.8688" stop-color="#4b0055"/><stop offset="0.9064" stop-color="#380040"/><stop offset="0.944" stop-color="#25002b"/><stop offset="0.9816" stop-color="#130015"/><stop offset="1" stop-color="#130015"/></linearGradient><linearGradient id="g55" x1="0" x2="1" y1="0" y2="0"><stop offset="0" stop-color="#130015"/><stop offset="0.2029" stop-color="#130015"/><stop offset="0.2074" stop-color="#5d006b"/><stop offset="0.2131" stop-color="#850096"/><stop offset="0.2247" stop-color="#860097"/><stop offset="0.2277" stop-color="#0300aa"/><stop offset="0.2319" stop-color="#0000dd"/><stop offset="0.2375" stop-color="#0078dd"/><stop offset="0.2431" stop-color="#0092dd"/><stop offset="0.2638" stop-color="#0098dd"/><stop offset="0.2901" stop-color="#00a7b3"/><stop offset="0.3239" stop-color="#00aa9d"/><stop offset="0.3728" stop-color="#00aa95"/><stop offset="0.3859" stop-color="#00aa88"/><stop offset="0.3953" stop-color="#009e28"/><stop offset="0.4066" stop-color="#009c00"/><stop offset="0.4198" stop-color="#00b400"/><stop offset="0.448" stop-color="#00c400"/><stop offset="0.4855" stop-color="#00ca00"/><stop offset="0.5156" stop-color="#00c400"/><stop offset="0.5269" stop-color="#00b700"/><stop offset="0.5381" stop-color="#009c00"/><stop offset="0.5475" stop-color="#009d1d"/><stop offset="0.5569" stop-color="#00a55d"/><stop offset="0.5682" stop-color="#00aa8b"/><stop offset="0.587" stop-color="#00aa9d"/><stop offset="0.602" stop-color="#00a3bf"/><stop offset="0.6171" stop-color="#0098dd"/><stop offset="0.6359" stop-color="#008add"/><stop offset="0.6471" stop-color="#0078dd"/><stop offset="0.6584" stop-color="#0025dd"/><stop offset="0.6734" stop-color="#0000dd"/><stop offset="0.7185" stop-color="#0000d1"/><stop offset="0.7392" stop-color="#0000bd"/><stop offset="0.7403" stop-color="#0000d1"/><stop offset="0.7415" stop-color="#00aaab"/><stop offset="0.7497" stop-color="#00aaab"/><stop offset="0.7508" stop-color="#0000d1"/><stop offset="0.7584" stop-color="#0000d1"/><stop offset="0.7595" stop-color="#0098dd"/><stop offset="0.7678" stop-color="#0098dd"/><stop offset="0.7689" stop-color="#0000d1"/><stop offset="0.7798" stop-color="#0000d1"/><stop offset="0.7809" stop-color="#0098dd"/><stop offset="0.7877" stop-color="#0098dd"/><stop offset="0.7888" stop-color="#0000d1"/><stop offset="0.7952" stop-color="#0000d1"/><stop offset="0.7963" stop-color="#00aaab"/><stop offset="0.8035" stop-color="#00aaab"/><stop offset="0.8046" stop-color="#0000d1"/><stop offset="0.8106" stop-color="#0000c9"/><stop offset="0.8117" stop-color="#870098"/><stop offset="0.8181" stop-color="#870098"/><stop offset="0.8192" stop-color="#0000d1"/><stop offset="0.8234" stop-color="#0000bd"/><stop offset="0.8249" stop-color="#850096"/><stop offset="0.8275" stop-color="#7a008b"/><stop offset="0.8388" stop-color="#5d006b"/><stop offset="0.8688" stop-color="#4b0055"/><stop offset="0.9064" stop-color="#380040"/><stop offset="0.944" stop-color="#25002b"/><stop offset="0.9816" stop-color="#130015"/><stop offset="1" stop-color="#130015"/></linearGradient><linearGradient id="g56" x1="0" x2="1" y1="0" y2="0"><stop offset="0" stop-color="#130015"/><stop offset="0.2029" stop-color="#130015"/><stop offset="0.2074" stop-color="#5d006b"/><stop offset="0.2131" stop-color="#850096"/><stop offset="0.2247" stop-color="#860097"/><stop offset="0.2277" stop-color="#0300aa"/><stop offset="0.2319" stop-color="#0000dd"/><stop offset="0.2375" stop-color="#0078dd"/><stop offset="0.2431" stop-color="#0092dd"/><stop offset="0.2638" stop-color="#0098dd"/><stop offset="0.2901" stop-color="#00a7b3"/><stop offset="0.3239" stop-color="#00aa9d"/><stop offset="0.3728" stop-color="#00aa95"/><stop offset="0.3859" stop-color="#00aa88"/><stop offset="0.3953" stop-color="#009e28"/><stop offset="0.4066" stop-color="#009c00"/><stop offset="0.4198" stop-color="#00bc00"/><stop offset="0.448" stop-color="#00cc00"/><stop offset="0.4855" stop-color="#00d200"/><stop offset="0.5156" stop-color="#00ca00"/><stop offset="0.5269" stop-color="#00bf00"/><stop offset="0.5381" stop-color="#009c00"/><stop offset="0.5475" stop-color="#009d1d"/><stop offset="0.5569" stop-color="#00a55d"/><stop offset="0.5682" stop-color="#00aa8b"/><stop offset="0.587" stop-color="#00aa9d"/><stop offset="0.602" stop-color="#00a3bf"/><stop offset="0.6171" stop-color="#0098dd"/><stop offset="0.6359" stop-color="#008add"/><stop offset="0.6471" stop-color="#0078dd"/><stop offset="0.6584" stop-color="#0025dd"/><stop offset="0.6734" stop-color="#0000dd"/><stop offset="0.7185" stop-color="#0000d1"/><stop offset="0.7392" stop-color="#0000bd"/><stop offset="0.7403" stop-color="#0000d1"/><stop offset="0.7415" stop-color="#00aaab"/><stop offset="0.7497" stop-color="#00aaab"/><stop offset="0.7508" stop-color="#0000d1"/><stop offset="0.7584" stop-color="#0000d1"/><stop offset="0.7595" stop-color="#0098dd"/><stop offset="0.7678" stop-color="#0098dd"/><stop offset="0.7689" stop-color="#0000d1"/><stop offset="0.7798" stop-color="#0000d1"/><stop offset="0.7809" stop-color="#0098dd"/><stop offset="0.7877" stop-color="#0098dd"/><stop offset="0.7888" stop-color="#0000d1"/><stop offset="0.7952" stop-color="#0000d1"/><stop offset="0.7963" stop-color="#00aaab"/><stop offset="0.8035" stop-color="#00aaab"/><stop offset="0.8046" stop-color="#0000d1"/><stop offset="0.8106" stop-color="#0000c9"/><stop offset="0.8117" stop-color="#870098"/><stop offset="0.8181" stop-color="#870098"/><stop offset="0.8192" stop-color="#0000d1"/><stop offset="0.8234" stop-color="#0000bd"/><stop offset="0.8249" stop-color="#850096"/><stop offset="0.8275" stop-color="#7a008b"/><stop offset="0.8388" stop-color="#5d006b"/><stop offset="0.8688" stop-color="#4b0055"/><stop offset="0.9064" stop-color="#380040"/><stop offset="0.944" stop-color="#25002b"/><stop offset="0.9816" stop-color="#130015"/><stop offset="1" stop-color="#130015"/></linearGradient><linearGradient id="g57" x1="0" x2="1" y1="0" y2="0"><stop offset="0" stop-color="#130015"/><stop offset="0.2029" stop-color="#130015"/><stop offset="0.2074" stop-color="#5d006b"/><stop offset="0.2131" stop-color="#850096"/><stop offset="0.2247" stop-color="#860097"/><stop offset="0.2277" stop-color="#0300aa"/><stop offset="0.2319" stop-color="#0000dd"/><stop offset="0.2375" stop-color="#0078dd"/><stop offset="0.2431" stop-color="#0092dd"/><stop offset="0.2638" stop-color="#0098dd"/><stop offset="0.2901" stop-color="#00a7b3"/><stop offset="0.3239" stop-color="#00aa9d"/><stop offset="0.3728" stop-color="#00aa95"/><stop offset="0.3761" stop-color="#00aa93"/><stop offset="0.3762" stop-color="#58ff00"/><stop offset="0.3799" stop-color="#67ff00"/><stop offset="0.38" stop-color="#00aa8d"/><stop offset="0.3806" stop-color="#00aa8d"/><stop offset="0.3807" stop-color="#00d400"/><stop offset="0.3859" stop-color="#00d700"/><stop offset="0.386" stop-color="#00aa88"/><stop offset="0.3953" stop-color="#009e28"/><stop offset="0.4066" stop-color="#009c00"/><stop offset="0.4198" stop-color="#00ba00"/><stop offset="0.448" stop-color="#00ca00"/><stop offset="0.4855" stop-color="#00cf00"/><stop offset="0.5156" stop-color="#00c700"/><stop offset="0.5269" stop-color="#00bc00"/><stop offset="0.5381" stop-color="#009c00"/><stop offset="0.5475" stop-color="#009d1d"/><stop offset="0.5569" stop-color="#00a55d"/><stop offset="0.5682" stop-color="#00aa8b"/><stop offset="0.587" stop-color="#00aa9d"/><stop offset="0.602" stop-color="#00a3bf"/><stop offset="0.6171" stop-color="#0098dd"/><stop offset="0.6359" stop-color="#008add"/><stop offset="0.6471" stop-color="#0078dd"/><stop offset="0.6584" stop-color="#0025dd"/><stop offset="0.6734" stop-color="#0000dd"/><stop offset="0.7185" stop-color="#0000d1"/><stop offset="0.7392" stop-color="#0000bd"/><stop offset="0.7403" stop-color="#0000d1"/><stop offset="0.7415" stop-color="#00aaab"/><stop offset="0.7497" stop-color="#00aaab"/><stop offset="0.7508" stop-color="#0000d1"/><stop offset="0.7584" stop-color="#0000d1"/><stop offset="0.7595" stop-color="#0098dd"/><stop offset="0.7678" stop-color="#0098dd"/><stop offset="0.7689" stop-color="#0000d1"/><stop offset="0.7798" stop-color="#0000d1"/><stop offset="0.7809" stop-color="#0098dd"/><stop offset="0.7877" stop-color="#0098dd"/><stop offset="0.7888" stop-color="#0000d1"/><stop offset="0.7952" stop-color="#0000d1"/><stop offset="0.7963" stop-color="#00aaab"/><stop offset="0.8035" stop-color="#00aaab"/><stop offset="0.8046" stop-color="#0000d1"/><stop offset="0.8106" stop-color="#0000c9"/><stop offset="0.8117" stop-color="#870098"/><stop offset="0.8181" stop-color="#870098"/><stop offset="0.8192" stop-color="#0000d1"/><stop offset="0.8234" stop-color="#0000bd"/><stop offset="0.8249" stop-color="#850096"/><stop offset="0.8275" stop-color="#7a008b"/><stop offset="0.8388" stop-color="#5d006b"/><stop offset="0.8688" stop-color="#4b0055"/><stop offset="0.9064" stop-color="#380040"/><stop offset="0.944" stop-color="#25002b"/><stop offset="0.9816" stop-color="#130015"/><stop offset="1" stop-color="#130015"/></linearGradient><linearGradient id="g58" x1="0" x2="1" y1="0" y2="0"><stop offset="0" stop-color="#130015"/><stop offset="0.2029" stop-color="#130015"/><stop offset="0.2074" stop-color="#5d006b"/><stop offset="0.2131" stop-color="#850096"/><stop offset="0.2247" stop-color="#860097"/><stop offset="0.2277" stop-color="#0300aa"/><stop offset="0.2319" stop-color="#0000dd"/><stop offset="0.2375" stop-color="#0078dd"/><stop offset="0.2431" stop-color="#008ddd"/><stop offset="0.2638" stop-color="#0095dd"/><stop offset="0.2901" stop-color="#00a4bb"/><stop offset="0.3239" stop-color="#00aaa0"/><stop offset="0.3728" stop-color="#00aa98"/><stop offset="0.3761" stop-color="#00aa95"/><stop offset="0.3762" stop-color="#49ff00"/><stop offset="0.3799" stop-color="#49ff00"/><stop offset="0.38" stop-color="#00aa93"/><stop offset="0.3806" stop-color="#00aa90"/><stop offset="0.3807" stop-color="#00cf00"/><stop offset="0.3859" stop-color="#00d200"/><stop offset="0.386" stop-color="#00aa8b"/><stop offset="0.3953" stop-color="#009e28"/><stop offset="0.4066" stop-color="#009c00"/><stop offset="0.4198" stop-color="#00b400"/><stop offset="0.448" stop-color="#00c400"/><stop offset="0.4855" stop-color="#00ca00"/><stop offset="0.5156" stop-color="#00c400"/><stop offset="0.5269" stop-color="#00b700"/><stop offset="0.5381" stop-color="#009c00"/><stop offset="0.5475" stop-color="#009d1d"/><stop offset="0.5569" stop-color="#00a55d"/><stop offset="0.5682" stop-color="#00aa8b"/><stop offset="0.587" stop-color="#00aa9d"/><stop offset="0.602" stop-color="#00a3bf"/><stop offset="0.6171" stop-color="#0098dd"/><stop offset="0.6359" stop-color="#008add"/><stop offset="0.6471" stop-color="#0078dd"/><stop offset="0.6584" stop-color="#0025dd"/><stop offset="0.6734" stop-color="#0000dd"/><stop offset="0.7185" stop-color="#0000d1"/><stop offset="0.7392" stop-color="#0000bd"/><stop offset="0.7403" stop-color="#0000d1"/><stop offset="0.7415" stop-color="#00aaab"/><stop offset="0.7497" stop-color="#00aaab"/><stop offset="0.7508" stop-color="#0000d1"/><stop offset="0.7584" stop-color="#0000d1"/><stop offset="0.7595" stop-color="#0098dd"/><stop offset="0.7678" stop-color="#0098dd"/><stop offset="0.7689" stop-color="#0000d1"/><stop offset="0.7798" stop-color="#0000d1"/><stop offset="0.7809" stop-color="#0098dd"/><stop offset="0.7877" stop-color="#0098dd"/><stop offset="0.7888" stop-color="#0000d1"/><stop offset="0.7952" stop-color="#0000d1"/><stop offset="0.7963" stop-color="#00aaab"/><stop offset="0.8035" stop-color="#00aaab"/><stop offset="0.8046" stop-color="#0000d1"/><stop offset="0.8106" stop-color="#0000c9"/><stop offset="0.8117" stop-color="#870098"/><stop offset="0.8181" stop-color="#870098"/><stop offset="0.8192" stop-color="#0000d1"/><stop offset="0.8234" stop-color="#0000bd"/><stop offset="0.8249" stop-color="#850096"/><stop offset="0.8275" stop-color="#7a008b"/><stop offset="0.8388" stop-color="#5d006b"/><stop offset="0.8688" stop-color="#4b0055"/><stop offset="0.9064" stop-color="#380040"/><stop offset="0.944" stop-color="#25002b"/><stop offset="0.9816" stop-color="#130015"/><stop offset="1" stop-color="#130015"/></linearGradient><linearGradient id="g59" x1="0" x2="1" y1="0" y2="0"><stop offset="0" stop-color="#130015"/><stop offset="0.2029" stop-color="#130015"/><stop offset="0.2074" stop-color="#5d006b"/><stop offset="0.2131" stop-color="#850096"/><stop offset="0.2247" stop-color="#860097"/><stop offset="0.2277" stop-color="#0300aa"/><stop offset="0.2319" stop-color="#0000dd"/><stop offset="0.2375" stop-color="#0078dd"/><stop offset="0.2431" stop-color="#0092dd"/><stop offset="0.2638" stop-color="#0098dd"/><stop offset="0.2901" stop-color="#00a8af"/><stop offset="0.3239" stop-color="#00aa95"/><stop offset="0.3728" stop-color="#00aa90"/><stop offset="0.3859" stop-color="#00a773"/><stop offset="0.3953" stop-color="#009e28"/><stop offset="0.4066" stop-color="#009c00"/><stop offset="0.4198" stop-color="#00b200"/><stop offset="0.448" stop-color="#00c400"/><stop offset="0.4855" stop-color="#00c700"/><stop offset="0.5156" stop-color="#00c200"/><stop offset="0.5269" stop-color="#00b700"/><stop offset="0.5381" stop-color="#009c00"/><stop offset="0.5475" stop-color="#009d1d"/><stop offset="0.5569" stop-color="#00a55d"/><stop offset="0.5682" stop-color="#00aa8b"/><stop offset="0.587" stop-color="#00aa9d"/><stop offset="0.602" stop-color="#00a3bf"/><stop offset="0.6171" stop-color="#0098dd"/><stop offset="0.6359" stop-color="#008add"/><stop offset="0.6471" stop-color="#0078dd"/><stop offset="0.6584" stop-color="#0025dd"/><stop offset="0.6734" stop-color="#0000dd"/><stop offset="0.7185" stop-color="#0000d1"/><stop offset="0.7392" stop-color="#0000bd"/><stop offset="0.7403" stop-color="#0000d1"/><stop offset="0.7415" stop-color="#00aaab"/><stop offset="0.7497" stop-color="#00aaab"/><stop offset="0.7508" stop-color="#0000d1"/><stop offset="0.7584" stop-color="#0000d1"/><stop offset="0.7595" stop-color="#0098dd"/><stop offset="0.7678" stop-color="#0098dd"/><stop offset="0.7689" stop-color="#0000d1"/><stop offset="0.7798" stop-color="#0000d1"/><stop offset="0.7809" stop-color="#0098dd"/><stop offset="0.7877" stop-color="#0098dd"/><stop offset="0.7888" stop-color="#0000d1"/><stop offset="0.7952" stop-color="#0000d1"/><stop offset="0.7963" stop-color="#00aaab"/><stop offset="0.8035" stop-color="#00aaab"/><stop offset="0.8046" stop-color="#0000d1"/><stop offset="0.8106" stop-color="#0000c9"/><stop offset="0.8117" stop-color="#870098"/><stop offset="0.8181" stop-color="#870098"/><stop offset="0.8192" stop-color="#0000d1"/><stop offset="0.8234" stop-color="#0000bd"/><stop offset="0.8249" stop-color="#850096"/><stop offset="0.8275" stop-color="#7a008b"/><stop offset="0.8388" stop-color="#5d006b"/><stop offset="0.8688" stop-color="#4b0055"/><stop offset="0.9064" stop-color="#380040"/><stop offset="0.944" stop-color="#25002b"/><stop offset="0.9816" stop-color="#130015"/><stop offset="1" stop-color="#130015"/></linearGradient><linearGradient id="g60" x1="0" x2="1" y1="0" y2="0"><stop offset="0" stop-color="#130015"/><stop offset="0.2029" stop-color="#130015"/><stop offset="0.2074" stop-color="#5d006b"/><stop offset="0.2131" stop-color="#850096"/><stop offset="0.2247" stop-color="#860097"/><stop offset="0.2277" stop-color="#0300aa"/><stop offset="0.2319" stop-color="#0000dd"/><stop offset="0.2375" stop-color="#0078dd"/><stop offset="0.2431" stop-color="#0090dd"/><stop offset="0.2638" stop-color="#0098dd"/><stop offset="0.2901" stop-color="#00a6b7"/><stop offset="0.3239" stop-color="#00aa9d"/><stop offset="0.3728" stop-color="#00aa95"/><stop offset="0.3859" stop-color="#00aa88"/><stop offset="0.3953" stop-color="#009e28"/><stop offset="0.4066" stop-color="#009c00"/><stop offset="0.4198" stop-color="#00a700"/><stop offset="0.448" stop-color="#00ba00"/><stop offset="0.4855" stop-color="#00bf00"/><stop offset="0.5156" stop-color="#00b700"/><stop offset="0.5269" stop-color="#00ac00"/><stop offset="0.5381" stop-color="#009c00"/><stop offset="0.5475" stop-color="#009d1d"/><stop offset="0.5569" stop-color="#00a55d"/><stop offset="0.5682" stop-color="#00aa8b"/><stop offset="0.587" stop-color="#00aa9d"/><stop offset="0.602" stop-color="#00a3bf"/><stop offset="0.6171" stop-color="#0098dd"/><stop offset="0.6359" stop-color="#008add"/><stop offset="0.6471" stop-color="#0078dd"/><stop offset="0.6584" stop-color="#0025dd"/><stop offset="0.6734" stop-color="#0000dd"/><stop offset="0.7185" stop-color="#0000d1"/><stop offset="0.7392" stop-color="#0000bd"/><stop offset="0.7403" stop-color="#0000d1"/><stop offset="0.7415" stop-color="#00aaab"/><stop offset="0.7497" stop-color="#00aaab"/><stop offset="0.7508" stop-color="#0000d1"/><stop offset="0.7584" stop-color="#0000d1"/><stop offset="0.7595" stop-color="#0098dd"/><stop offset="0.7678" stop-color="#0098dd"/><stop offset="0.7689" stop-color="#0000d1"/><stop offset="0.7798" stop-color="#0000d1"/><stop offset="0.7809" stop-color="#0098dd"/><stop offset="0.7877" stop-color="#0098dd"/><stop offset="0.7888" stop-color="#0000d1"/><stop offset="0.7952" stop-color="#0000d1"/><stop offset="0.7963" stop-color="#00aaab"/><stop offset="0.8035" stop-color="#00aaab"/><stop offset="0.8046" stop-color="#0000d1"/><stop offset="0.8106" stop-color="#0000c9"/><stop offset="0.8117" stop-color="#870098"/><stop offset="0.8181" stop-color="#870098"/><stop offset="0.8192" stop-color="#0000d1"/><stop offset="0.8234" stop-color="#0000bd"/><stop offset="0.8249" stop-color="#850096"/><stop offset="0.8275" stop-color="#7a008b"/><stop offset="0.8388" stop-color="#5d006b"/><stop offset="0.8688" stop-color="#4b0055"/><stop offset="0.9064" stop-color="#380040"/><stop offset="0.944" stop-color="#25002b"/><stop offset="0.9816" stop-color="#130015"/><stop offset="1" stop-color="#130015"/></linearGradient><linearGradient id="g61" x1="0" x2="1" y1="0" y2="0"><stop offset="0" stop-color="#130015"/><stop offset="0.2029" stop-color="#130015"/><stop offset="0.2074" stop-color="#5d006b"/><stop offset="0.2131" stop-color="#850096"/><stop offset="0.2247" stop-color="#860097"/><stop offset="0.2277" stop-color="#0300aa"/><stop offset="0.2319" stop-color="#0000dd"/><stop offset="0.2375" stop-color="#0078dd"/><stop offset="0.2431" stop-color="#008ddd"/><stop offset="0.2638" stop-color="#0092dd"/><stop offset="0.2901" stop-color="#00a3bf"/><stop offset="0.3239" stop-color="#00aaa8"/><stop offset="0.3728" stop-color="#00aaa0"/><stop offset="0.3859" stop-color="#00aa93"/><stop offset="0.3953" stop-color="#009e28"/><stop offset="0.4066" stop-color="#009c00"/><stop offset="0.4198" stop-color="#00a200"/><stop offset="0.448" stop-color="#00b200"/><stop offset="0.4855" stop-color="#00b700"/><stop offset="0.5156" stop-color="#00b200"/><stop offset="0.5269" stop-color="#00a400"/><stop offset="0.5381" stop-color="#009c00"/><stop offset="0.5475" stop-color="#009d1d"/><stop offset="0.5569" stop-color="#00a55d"/><stop offset="0.5682" stop-color="#00aa8b"/><stop offset="0.587" stop-color="#00aa9d"/><stop offset="0.602" stop-color="#00a3bf"/><stop offset="0.6171" stop-color="#0098dd"/><stop offset="0.6359" stop-color="#008add"/><stop offset="0.6471" stop-color="#0078dd"/><stop offset="0.6584" stop-color="#0025dd"/><stop offset="0.6734" stop-color="#0000dd"/><stop offset="0.7185" stop-color="#0000d1"/><stop offset="0.7392" stop-color="#0000bd"/><stop offset="0.7403" stop-color="#0000d1"/><stop offset="0.7415" stop-color="#00aaab"/><stop offset="0.7497" stop-color="#00aaab"/><stop offset="0.7508" stop-color="#0000d1"/><stop offset="0.7584" stop-color="#0000d1"/><stop offset="0.7595" stop-color="#0098dd"/><stop offset="0.7678" stop-color="#0098dd"/><stop offset="0.7689" stop-color="#0000d1"/><stop offset="0.7798" stop-color="#0000d1"/><stop offset="0.7809" stop-color="#0098dd"/><stop offset="0.7877" stop-color="#0098dd"/><stop offset="0.7888" stop-color="#0000d1"/><stop offset="0.7952" stop-color="#0000d1"/><stop offset="0.7963" stop-color="#00aaab"/><stop offset="0.8035" stop-color="#00aaab"/><stop offset="0.8046" stop-color="#0000d1"/><stop offset="0.8106" stop-color="#0000c9"/><stop offset="0.8117" stop-color="#870098"/><stop offset="0.8181" stop-color="#870098"/><stop offset="0.8192" stop-color="#0000d1"/><stop offset="0.8234" stop-color="#0000bd"/><stop offset="0.8249" stop-color="#850096"/><stop offset="0.8275" stop-color="#7a008b"/><stop offset="0.8388" stop-color="#5d006b"/><stop offset="0.8688" stop-color="#4b0055"/><stop offset="0.9064" stop-color="#380040"/><stop offset="0.944" stop-color="#25002b"/><stop offset="0.9816" stop-color="#130015"/><stop offset="1" stop-color="#130015"/></linearGradient><linearGradient id="g62" x1="0" x2="1" y1="0" y2="0"><stop offset="0" stop-color="#130015"/><stop offset="0.2029" stop-color="#130015"/><stop offset="0.2074" stop-color="#5d006b"/><stop offset="0.2131" stop-color="#850096"/><stop offset="0.2247" stop-color="#860097"/><stop offset="0.2277" stop-color="#0300aa"/><stop offset="0.2319" stop-color="#0000dd"/><stop offset="0.2375" stop-color="#0078dd"/><stop offset="0.2431" stop-color="#008ddd"/><stop offset="0.2638" stop-color="#0095dd"/><stop offset="0.2901" stop-color="#00a4bb"/><stop offset="0.3239" stop-color="#00aaa3"/><stop offset="0.3728" stop-color="#00aa9d"/><stop offset="0.3859" stop-color="#00aa90"/><stop offset="0.3953" stop-color="#009e28"/><stop offset="0.4066" stop-color="#009c00"/><stop offset="0.4198" stop-color="#00aa00"/><stop offset="0.448" stop-color="#00bc00"/><stop offset="0.4855" stop-color="#00bf00"/><stop offset="0.5156" stop-color="#00ba00"/><stop offset="0.5269" stop-color="#00ac00"/><stop offset="0.5381" stop-color="#009c00"/><stop offset="0.5475" stop-color="#009d1d"/><stop offset="0.5569" stop-color="#00a55d"/><stop offset="0.5682" stop-color="#00aa8b"/><stop offset="0.587" stop-color="#00aa9d"/><stop offset="0.602" stop-color="#00a3bf"/><stop offset="0.6171" stop-color="#0098dd"/><stop offset="0.6359" stop-color="#008add"/><stop offset="0.6471" stop-color="#0078dd"/><stop offset="0.6584" stop-color="#0025dd"/><stop offset="0.6734" stop-color="#0000dd"/><stop offset="0.7185" stop-color="#0000d1"/><stop offset="0.7392" stop-color="#0000bd"/><stop offset="0.7403" stop-color="#0000d1"/><stop offset="0.7415" stop-color="#00aaab"/><stop offset="0.7497" stop-color="#00aaab"/><stop offset="0.7508" stop-color="#0000d1"/><stop offset="0.7584" stop-color="#0000d1"/><stop offset="0.7595" stop-color="#0098dd"/><stop offset="0.7678" stop-color="#0098dd"/><stop offset="0.7689" stop-color="#0000d1"/><stop offset="0.7798" stop-color="#0000d1"/><stop offset="0.7809" stop-color="#0098dd"/><stop offset="0.7877" stop-color="#0098dd"/><stop offset="0.7888" stop-color="#0000d1"/><stop offset="0.7952" stop-color="#0000d1"/><stop offset="0.7963" stop-color="#00aaab"/><stop offset="0.8035" stop-color="#00aaab"/><stop offset="0.8046" stop-color="#0000d1"/><stop offset="0.8106" stop-color="#0000c9"/><stop offset="0.8117" stop-color="#870098"/><stop offset="0.8181" stop-color="#870098"/><stop offset="0.8192" stop-color="#0000d1"/><stop offset="0.8234" stop-color="#0000bd"/><stop offset="0.8249" stop-color="#850096"/><stop offset="0.8275" stop-color="#7a008b"/><stop offset="0.8388" stop-color="#5d006b"/><stop offset="0.8688" stop-color="#4b0055"/><stop offset="0.9064" stop-color="#380040"/><stop offset="0.944" stop-color="#25002b"/><stop offset="0.9816" stop-color="#130015"/><stop offset="1" stop-color="#130015"/></linearGradient><linearGradient id="g63" x1="0" x2="1" y1="0" y2="0"><stop offset="0" stop-color="#130015"/><stop offset="0.2029" stop-color="#130015"/><stop offset="0.2074" stop-color="#380040"/><stop offset="0.2131" stop-color="#770088"/><stop offset="0.2247" stop-color="#770088"/><stop offset="0.2277" stop-color="#810092"/><stop offset="0.2319" stop-color="#78009b"/><stop offset="0.2375" stop-color="#3800a3"/><stop offset="0.2431" stop-color="#0d00a8"/><stop offset="0.2638" stop-color="#0000ad"/><stop offset="0.2864" stop-color="#0000bd"/><stop offset="0.2901" stop-color="#0000c1"/><stop offset="0.3239" stop-color="#0000cd"/><stop offset="0.3427" stop-color="#0000d1"/><stop offset="0.3728" stop-color="#0000d5"/><stop offset="0.3859" stop-color="#0009dd"/><stop offset="0.3953" stop-color="#004bdd"/><stop offset="0.4066" stop-color="#0067dd"/><stop offset="0.4179" stop-color="#0078dd"/><stop offset="0.4198" stop-color="#007add"/><stop offset="0.448" stop-color="#0082dd"/><stop offset="0.4855" stop-color="#0085dd"/><stop offset="0.493" stop-color="#0082dd"/><stop offset="0.5156" stop-color="#0080dd"/><stop offset="0.5269" stop-color="#007add"/><stop offset="0.5381" stop-color="#005ddd"/><stop offset="0.5475" stop-color="#004bdd"/><stop offset="0.5569" stop-color="#002fdd"/><stop offset="0.5682" stop-color="#0013dd"/><stop offset="0.587" stop-color="#0000d9"/><stop offset="0.602" stop-color="#0000c5"/><stop offset="0.6171" stop-color="#0000b5"/><stop offset="0.6359" stop-color="#0300aa"/><stop offset="0.6471" stop-color="#2d00a4"/><stop offset="0.6584" stop-color="#63009e"/><stop offset="0.6734" stop-color="#78009b"/><stop offset="0.6809" stop-color="#78009b"/><stop offset="0.7185" stop-color="#83009a"/><stop offset="0.7373" stop-color="#850096"/><stop offset="0.7392" stop-color="#850096"/><stop offset="0.7403" stop-color="#83009a"/><stop offset="0.7415" stop-color="#0000c9"/><stop offset="0.7497" stop-color="#0000c9"/><stop offset="0.7508" stop-color="#83009a"/><stop offset="0.7584" stop-color="#83009a"/><stop offset="0.7595" stop-color="#0000b1"/><stop offset="0.7678" stop-color="#0000b1"/><stop offset="0.7689" stop-color="#83009a"/><stop offset="0.7798" stop-color="#83009a"/><stop offset="0.7809" stop-color="#0000b1"/><stop offset="0.7877" stop-color="#0000b1"/><stop offset="0.7888" stop-color="#83009a"/><stop offset="0.7952" stop-color="#83009a"/><stop offset="0.7963" stop-color="#0000c9"/><stop offset="0.8035" stop-color="#0000c9"/><stop offset="0.8046" stop-color="#870098"/><stop offset="0.8106" stop-color="#860097"/><stop offset="0.8117" stop-color="#79008a"/><stop offset="0.8181" stop-color="#79008a"/><stop offset="0.8192" stop-color="#870098"/><stop offset="0.8234" stop-color="#850096"/><stop offset="0.8249" stop-color="#770088"/><stop offset="0.8275" stop-color="#540060"/><stop offset="0.8388" stop-color="#380040"/><stop offset="0.8688" stop-color="#2f0035"/><stop offset="0.9064" stop-color="#25002b"/><stop offset="0.944" stop-color="#1c0020"/><stop offset="0.9816" stop-color="#130015"/><stop offset="1" stop-color="#130015"/></linearGradient><linearGradient id="g64" x1="0" x2="1" y1="0" y2="0"><stop offset="0" stop-color="#130015"/><stop offset="0.1887" stop-color="#130015"/><stop offset="0.198" stop-color="#41004b"/><stop offset="0.1999" stop-color="#4b0055"/><stop offset="0.2056" stop-color="#770088"/><stop offset="0.2074" stop-color="#7e008f"/><stop offset="0.2082" stop-color="#810092"/><stop offset="0.2112" stop-color="#6d009c"/><stop offset="0.215" stop-color="#0d00a8"/><stop offset="0.2217" stop-color="#0000bd"/><stop offset="0.2262" stop-color="#0009dd"/><stop offset="0.23" stop-color="#005ddd"/><stop offset="0.2375" stop-color="#0088dd"/><stop offset="0.2394" stop-color="#008ddd"/><stop offset="0.2488" stop-color="#009bd7"/><stop offset="0.2563" stop-color="#00a3bf"/><stop offset="0.2619" stop-color="#00a7b3"/><stop offset="0.3051" stop-color="#00a7b3"/><stop offset="0.3427" stop-color="#00a8af"/><stop offset="0.3728" stop-color="#00aaab"/><stop offset="0.3953" stop-color="#00aaa5"/><stop offset="0.4179" stop-color="#00aaa3"/><stop offset="0.4404" stop-color="#00aaa0"/><stop offset="0.463" stop-color="#00aaa3"/><stop offset="0.4855" stop-color="#00aaa5"/><stop offset="0.493" stop-color="#00aaa5"/><stop offset="0.5043" stop-color="#00aaab"/><stop offset="0.5194" stop-color="#00a8af"/><stop offset="0.5269" stop-color="#00a4bb"/><stop offset="0.5325" stop-color="#009ecf"/><stop offset="0.5494" stop-color="#009adb"/><stop offset="0.5795" stop-color="#0090dd"/><stop offset="0.587" stop-color="#008add"/><stop offset="0.6058" stop-color="#007ddd"/><stop offset="0.6246" stop-color="#005ddd"/><stop offset="0.6396" stop-color="#002fdd"/><stop offset="0.6546" stop-color="#0000dd"/><stop offset="0.6734" stop-color="#0000c1"/><stop offset="0.6809" stop-color="#0000bd"/><stop offset="0.6997" stop-color="#0000b1"/><stop offset="0.726" stop-color="#0d00a8"/><stop offset="0.7373" stop-color="#2d00a4"/><stop offset="0.7392" stop-color="#3800a3"/><stop offset="0.7403" stop-color="#6d009c"/><stop offset="0.7415" stop-color="#0000cd"/><stop offset="0.7497" stop-color="#0000cd"/><stop offset="0.7508" stop-color="#6d009c"/><stop offset="0.7584" stop-color="#6d009c"/><stop offset="0.7595" stop-color="#0000b1"/><stop offset="0.7678" stop-color="#0000b1"/><stop offset="0.7689" stop-color="#6d009c"/><stop offset="0.7798" stop-color="#6d009c"/><stop offset="0.7809" stop-color="#0000b1"/><stop offset="0.7877" stop-color="#0000b1"/><stop offset="0.7888" stop-color="#6d009c"/><stop offset="0.7952" stop-color="#6d009c"/><stop offset="0.7963" stop-color="#0000cd"/><stop offset="0.8035" stop-color="#0000cd"/><stop offset="0.8046" stop-color="#870098"/><stop offset="0.8106" stop-color="#860097"/><stop offset="0.8117" stop-color="#79008a"/><stop offset="0.8181" stop-color="#79008a"/><stop offset="0.8192" stop-color="#870098"/><stop offset="0.8234" stop-color="#850096"/><stop offset="0.8249" stop-color="#770088"/><stop offset="0.8876" stop-color="#770088"/><stop offset="0.9064" stop-color="#700080"/><stop offset="0.9215" stop-color="#700080"/><stop offset="0.944" stop-color="#540060"/><stop offset="0.9666" stop-color="#380040"/><stop offset="0.9853" stop-color="#25002b"/><stop offset="1" stop-color="#130015"/></linearGradient><linearGradient id="g65" x1="0" x2="1" y1="0" y2="0"><stop offset="0" stop-color="#130015"/><stop offset="0.1887" stop-color="#130015"/><stop offset="0.198" stop-color="#700080"/><stop offset="0.2056" stop-color="#860097"/><stop offset="0.2082" stop-color="#0300aa"/><stop offset="0.2112" stop-color="#0013dd"/><stop offset="0.215" stop-color="#008add"/><stop offset="0.2217" stop-color="#00a3bf"/><stop offset="0.2262" stop-color="#00aa88"/><stop offset="0.23" stop-color="#00a700"/><stop offset="0.2394" stop-color="#00dc00"/><stop offset="0.2488" stop-color="#00ff00"/><stop offset="0.2563" stop-color="#93ff00"/><stop offset="0.2619" stop-color="#ccf900"/><stop offset="0.3051" stop-color="#ccf900"/><stop offset="0.3728" stop-color="#d0f800"/><stop offset="0.3953" stop-color="#e0f300"/><stop offset="0.4179" stop-color="#e8f000"/><stop offset="0.4404" stop-color="#efed00"/><stop offset="0.463" stop-color="#ecef00"/><stop offset="0.4855" stop-color="#e4f100"/><stop offset="0.5043" stop-color="#d4f700"/><stop offset="0.5194" stop-color="#ccf900"/><stop offset="0.5269" stop-color="#93ff00"/><stop offset="0.5325" stop-color="#00ff00"/><stop offset="0.5494" stop-color="#00f200"/><stop offset="0.5795" stop-color="#00dc00"/><stop offset="0.6058" stop-color="#00bc00"/><stop offset="0.6246" stop-color="#009f00"/><stop offset="0.6396" stop-color="#00a353"/><stop offset="0.6546" stop-color="#00aa95"/><stop offset="0.6734" stop-color="#00a3bf"/><stop offset="0.6997" stop-color="#0098dd"/><stop offset="0.726" stop-color="#008add"/><stop offset="0.7392" stop-color="#0078dd"/><stop offset="0.7403" stop-color="#0013dd"/><stop offset="0.7415" stop-color="#00aaa3"/><stop offset="0.7497" stop-color="#00aaa3"/><stop offset="0.7508" stop-color="#0013dd"/><stop offset="0.7584" stop-color="#0013dd"/><stop offset="0.7595" stop-color="#0098dd"/><stop offset="0.7678" stop-color="#0098dd"/><stop offset="0.7689" stop-color="#0013dd"/><stop offset="0.7798" stop-color="#0013dd"/><stop offset="0.7809" stop-color="#0098dd"/><stop offset="0.7877" stop-color="#0098dd"/><stop offset="0.7888" stop-color="#0013dd"/><stop offset="0.7952" stop-color="#0013dd"/><stop offset="0.7963" stop-color="#00aaa3"/><stop offset="0.8035" stop-color="#00aaa3"/><stop offset="0.8046" stop-color="#0000d1"/><stop offset="0.8106" stop-color="#0000c9"/><stop offset="0.8117" stop-color="#870098"/><stop offset="0.8181" stop-color="#870098"/><stop offset="0.8192" stop-color="#0000d1"/><stop offset="0.8234" stop-color="#0000bd"/><stop offset="0.8249" stop-color="#860097"/><stop offset="0.8876" stop-color="#850096"/><stop offset="0.9215" stop-color="#830094"/><stop offset="0.944" stop-color="#7b008c"/><stop offset="0.9666" stop-color="#5d006b"/><stop offset="0.9853" stop-color="#380040"/><stop offset="1" stop-color="#1c0020"/></linearGradient><linearGradient id="g66" x1="0" x2="1" y1="0" y2="0"><stop offset="0" stop-color="#25002b"/><stop offset="0.1883" stop-color="#25002b"/><stop offset="0.1977" stop-color="#700080"/><stop offset="0.2056" stop-color="#860097"/><stop offset="0.2078" stop-color="#0300aa"/><stop offset="0.2116" stop-color="#0013dd"/><stop offset="0.2146" stop-color="#008add"/><stop offset="0.2221" stop-color="#00a3bf"/><stop offset="0.227" stop-color="#00aa88"/><stop offset="0.2307" stop-color="#00a700"/><stop offset="0.239" stop-color="#00dc00"/><stop offset="0.2484" stop-color="#00ff00"/><stop offset="0.2559" stop-color="#93ff00"/><stop offset="0.2616" stop-color="#ccf900"/><stop offset="0.3724" stop-color="#d0f800"/><stop offset="0.395" stop-color="#e0f300"/><stop offset="0.425" stop-color="#e8f000"/><stop offset="0.4551" stop-color="#efed00"/><stop offset="0.4852" stop-color="#ecef00"/><stop offset="0.5077" stop-color="#e0f300"/><stop offset="0.5209" stop-color="#d0f800"/><stop offset="0.5284" stop-color="#93ff00"/><stop offset="0.534" stop-color="#00ff00"/><stop offset="0.5528" stop-color="#00ea00"/><stop offset="0.5829" stop-color="#00cf00"/><stop offset="0.6092" stop-color="#00b400"/><stop offset="0.628" stop-color="#009a00"/><stop offset="0.643" stop-color="#00a353"/><stop offset="0.658" stop-color="#00aa95"/><stop offset="0.6806" stop-color="#00a3bf"/><stop offset="0.7069" stop-color="#0092dd"/><stop offset="0.7407" stop-color="#008add"/><stop offset="0.7418" stop-color="#0013dd"/><stop offset="0.743" stop-color="#00aa95"/><stop offset="0.7516" stop-color="#00aa95"/><stop offset="0.7527" stop-color="#0000d1"/><stop offset="0.7587" stop-color="#0000d1"/><stop offset="0.7599" stop-color="#0098dd"/><stop offset="0.767" stop-color="#0098dd"/><stop offset="0.7681" stop-color="#00aa90"/><stop offset="0.7775" stop-color="#00aa90"/><stop offset="0.7787" stop-color="#0092dd"/><stop offset="0.7896" stop-color="#0092dd"/><stop offset="0.7907" stop-color="#00aa95"/><stop offset="0.7971" stop-color="#00aa95"/><stop offset="0.7982" stop-color="#0000d1"/><stop offset="0.8113" stop-color="#0000d1"/><stop offset="0.8125" stop-color="#0098dd"/><stop offset="0.8192" stop-color="#0098dd"/><stop offset="0.8204" stop-color="#0000c9"/><stop offset="0.8264" stop-color="#0000c9"/><stop offset="0.8275" stop-color="#850096"/><stop offset="0.8985" stop-color="#850096"/><stop offset="0.9286" stop-color="#7f0090"/><stop offset="0.9549" stop-color="#79008a"/><stop offset="0.9775" stop-color="#4b0055"/><stop offset="1" stop-color="#41004b"/></linearGradient><linearGradient id="g67" x1="0" x2="1" y1="0" y2="0"><stop offset="0" stop-color="#1c0020"/><stop offset="0.1883" stop-color="#1c0020"/><stop offset="0.192" stop-color="#25002b"/><stop offset="0.1977" stop-color="#41004b"/><stop offset="0.2056" stop-color="#770088"/><stop offset="0.2078" stop-color="#810092"/><stop offset="0.2116" stop-color="#6d009c"/><stop offset="0.2146" stop-color="#0d00a8"/><stop offset="0.2221" stop-color="#0000bd"/><stop offset="0.227" stop-color="#0009dd"/><stop offset="0.2307" stop-color="#005ddd"/><stop offset="0.239" stop-color="#008add"/><stop offset="0.2484" stop-color="#009bd7"/><stop offset="0.2559" stop-color="#00a2c3"/><stop offset="0.2616" stop-color="#00a6b7"/><stop offset="0.3724" stop-color="#00a7b3"/><stop offset="0.395" stop-color="#00aaab"/><stop offset="0.4175" stop-color="#00aaa8"/><stop offset="0.425" stop-color="#00aaa8"/><stop offset="0.4551" stop-color="#00aaa5"/><stop offset="0.4852" stop-color="#00aaa5"/><stop offset="0.5077" stop-color="#00aaab"/><stop offset="0.5209" stop-color="#00a7b3"/><stop offset="0.5284" stop-color="#00a2c3"/><stop offset="0.534" stop-color="#009bd7"/><stop offset="0.5528" stop-color="#0092dd"/><stop offset="0.5829" stop-color="#0085dd"/><stop offset="0.6092" stop-color="#0078dd"/><stop offset="0.628" stop-color="#004bdd"/><stop offset="0.643" stop-color="#0025dd"/><stop offset="0.658" stop-color="#0000d9"/><stop offset="0.6806" stop-color="#0000c1"/><stop offset="0.7069" stop-color="#0300aa"/><stop offset="0.7407" stop-color="#0d00a8"/><stop offset="0.7418" stop-color="#6d009c"/><stop offset="0.743" stop-color="#0000d9"/><stop offset="0.7516" stop-color="#0000d9"/><stop offset="0.7527" stop-color="#83009a"/><stop offset="0.7587" stop-color="#83009a"/><stop offset="0.7599" stop-color="#0000b1"/><stop offset="0.767" stop-color="#0000b1"/><stop offset="0.7681" stop-color="#0000dd"/><stop offset="0.7775" stop-color="#0000dd"/><stop offset="0.7787" stop-color="#0300aa"/><stop offset="0.7896" stop-color="#0300aa"/><stop offset="0.7907" stop-color="#0000d9"/><stop offset="0.7971" stop-color="#0000d9"/><stop offset="0.7982" stop-color="#83009a"/><stop offset="0.8113" stop-color="#83009a"/><stop offset="0.8125" stop-color="#0000b1"/><stop offset="0.8192" stop-color="#0000b1"/><stop offset="0.8204" stop-color="#860097"/><stop offset="0.8264" stop-color="#860097"/><stop offset="0.8271" stop-color="#7d008e"/><stop offset="0.8275" stop-color="#770088"/><stop offset="0.8985" stop-color="#770088"/><stop offset="0.9286" stop-color="#670075"/><stop offset="0.9549" stop-color="#4b0055"/><stop offset="0.9775" stop-color="#380040"/><stop offset="1" stop-color="#2f0035"/></linearGradient><linearGradient id="g68" x1="0" x2="1" y1="0" y2="0"><stop offset="0" stop-color="#1c0020"/><stop offset="0.2026" stop-color="#1c0020"/><stop offset="0.2071" stop-color="#380040"/><stop offset="0.2127" stop-color="#700080"/><stop offset="0.2244" stop-color="#770088"/><stop offset="0.2274" stop-color="#810092"/><stop offset="0.2315" stop-color="#78009b"/><stop offset="0.2371" stop-color="#3800a3"/><stop offset="0.2428" stop-color="#0d00a8"/><stop offset="0.2484" stop-color="#0d00a8"/><stop offset="0.2672" stop-color="#0300aa"/><stop offset="0.2935" stop-color="#0000c1"/><stop offset="0.3273" stop-color="#0000d5"/><stop offset="0.3762" stop-color="#0000d9"/><stop offset="0.3874" stop-color="#0013dd"/><stop offset="0.3968" stop-color="#0038dd"/><stop offset="0.4062" stop-color="#0054dd"/><stop offset="0.4175" stop-color="#0067dd"/><stop offset="0.4194" stop-color="#0070dd"/><stop offset="0.4476" stop-color="#007ddd"/><stop offset="0.4739" stop-color="#0080dd"/><stop offset="0.5077" stop-color="#007ddd"/><stop offset="0.5303" stop-color="#0070dd"/><stop offset="0.5434" stop-color="#0054dd"/><stop offset="0.5528" stop-color="#0041dd"/><stop offset="0.5622" stop-color="#001cdd"/><stop offset="0.5716" stop-color="#0009dd"/><stop offset="0.5904" stop-color="#0000d5"/><stop offset="0.6054" stop-color="#0000c1"/><stop offset="0.6204" stop-color="#0000b1"/><stop offset="0.6392" stop-color="#0d00a8"/><stop offset="0.643" stop-color="#1800a7"/><stop offset="0.6505" stop-color="#3800a3"/><stop offset="0.6618" stop-color="#63009e"/><stop offset="0.6768" stop-color="#78009b"/><stop offset="0.7219" stop-color="#83009a"/><stop offset="0.7407" stop-color="#850096"/><stop offset="0.7418" stop-color="#83009a"/><stop offset="0.743" stop-color="#0000d9"/><stop offset="0.7516" stop-color="#0000d9"/><stop offset="0.7527" stop-color="#83009a"/><stop offset="0.7587" stop-color="#83009a"/><stop offset="0.7599" stop-color="#0000b1"/><stop offset="0.767" stop-color="#0000b1"/><stop offset="0.7681" stop-color="#0000dd"/><stop offset="0.7775" stop-color="#0000dd"/><stop offset="0.7787" stop-color="#0300aa"/><stop offset="0.7896" stop-color="#0300aa"/><stop offset="0.7907" stop-color="#0000d9"/><stop offset="0.7971" stop-color="#0000d9"/><stop offset="0.7982" stop-color="#83009a"/><stop offset="0.8113" stop-color="#83009a"/><stop offset="0.8125" stop-color="#0000b1"/><stop offset="0.8192" stop-color="#0000b1"/><stop offset="0.8204" stop-color="#860097"/><stop offset="0.8264" stop-color="#860097"/><stop offset="0.8271" stop-color="#7d008e"/><stop offset="0.8275" stop-color="#770088"/><stop offset="0.8279" stop-color="#41004b"/><stop offset="0.8873" stop-color="#41004b"/><stop offset="0.9248" stop-color="#380040"/><stop offset="0.9549" stop-color="#2f0035"/><stop offset="0.9812" stop-color="#25002b"/><stop offset="1" stop-color="#1c0020"/></linearGradient><linearGradient id="g69" x1="0" x2="1" y1="0" y2="0"><stop offset="0" stop-color="#25002b"/><stop offset="0.2026" stop-color="#25002b"/><stop offset="0.2071" stop-color="#5d006b"/><stop offset="0.2127" stop-color="#850096"/><stop offset="0.2244" stop-color="#860097"/><stop offset="0.2274" stop-color="#0300aa"/><stop offset="0.2315" stop-color="#0000dd"/><stop offset="0.2371" stop-color="#0078dd"/><stop offset="0.2428" stop-color="#008add"/><stop offset="0.2672" stop-color="#0092dd"/><stop offset="0.2935" stop-color="#00a4bb"/><stop offset="0.3273" stop-color="#00aa9d"/><stop offset="0.3762" stop-color="#00aa95"/><stop offset="0.3874" stop-color="#00aa88"/><stop offset="0.3968" stop-color="#009e28"/><stop offset="0.4062" stop-color="#009c00"/><stop offset="0.4194" stop-color="#00aa00"/><stop offset="0.4476" stop-color="#00bc00"/><stop offset="0.4739" stop-color="#00bf00"/><stop offset="0.5077" stop-color="#00ba00"/><stop offset="0.5303" stop-color="#00ac00"/><stop offset="0.5434" stop-color="#009c00"/><stop offset="0.5528" stop-color="#009d1d"/><stop offset="0.5622" stop-color="#00a55d"/><stop offset="0.5716" stop-color="#00aa8b"/><stop offset="0.5904" stop-color="#00aa9d"/><stop offset="0.6054" stop-color="#00a3bf"/><stop offset="0.6204" stop-color="#0098dd"/><stop offset="0.6392" stop-color="#008add"/><stop offset="0.6505" stop-color="#0078dd"/><stop offset="0.6618" stop-color="#0025dd"/><stop offset="0.6768" stop-color="#0000dd"/><stop offset="0.7219" stop-color="#0000d1"/><stop offset="0.7407" stop-color="#0000bd"/><stop offset="0.7418" stop-color="#0000d1"/><stop offset="0.743" stop-color="#00aa95"/><stop offset="0.7516" stop-color="#00aa95"/><stop offset="0.7527" stop-color="#0000d1"/><stop offset="0.7587" stop-color="#0000d1"/><stop offset="0.7599" stop-color="#0098dd"/><stop offset="0.767" stop-color="#0098dd"/><stop offset="0.7681" stop-color="#00aa90"/><stop offset="0.7775" stop-color="#00aa90"/><stop offset="0.7787" stop-color="#0092dd"/><stop offset="0.7896" stop-color="#0092dd"/><stop offset="0.7907" stop-color="#00aa95"/><stop offset="0.7971" stop-color="#00aa95"/><stop offset="0.7982" stop-color="#0000d1"/><stop offset="0.8113" stop-color="#0000d1"/><stop offset="0.8125" stop-color="#0098dd"/><stop offset="0.8192" stop-color="#0098dd"/><stop offset="0.8204" stop-color="#0000c9"/><stop offset="0.8264" stop-color="#0000c9"/><stop offset="0.8275" stop-color="#850096"/><stop offset="0.8279" stop-color="#670075"/><stop offset="0.8873" stop-color="#5d006b"/><stop offset="0.9248" stop-color="#540060"/><stop offset="0.9549" stop-color="#41004b"/><stop offset="0.9812" stop-color="#2f0035"/><stop offset="1" stop-color="#25002b"/></linearGradient><linearGradient id="g70" x1="0" x2="1" y1="0" y2="0"><stop offset="0" stop-color="#25002b"/><stop offset="0.2026" stop-color="#25002b"/><stop offset="0.2071" stop-color="#5d006b"/><stop offset="0.2127" stop-color="#850096"/><stop offset="0.2244" stop-color="#860097"/><stop offset="0.2274" stop-color="#0300aa"/><stop offset="0.2315" stop-color="#0000dd"/><stop offset="0.2371" stop-color="#0078dd"/><stop offset="0.2428" stop-color="#008ddd"/><stop offset="0.2672" stop-color="#0092dd"/><stop offset="0.2935" stop-color="#00a4bb"/><stop offset="0.3273" stop-color="#00aaa0"/><stop offset="0.3762" stop-color="#00aa98"/><stop offset="0.3874" stop-color="#00aa8b"/><stop offset="0.3968" stop-color="#009e28"/><stop offset="0.4062" stop-color="#009c00"/><stop offset="0.4194" stop-color="#00a400"/><stop offset="0.4476" stop-color="#00b700"/><stop offset="0.4739" stop-color="#00ba00"/><stop offset="0.5077" stop-color="#00b400"/><stop offset="0.5303" stop-color="#00a700"/><stop offset="0.5434" stop-color="#009c00"/><stop offset="0.5528" stop-color="#009d1d"/><stop offset="0.5622" stop-color="#00a55d"/><stop offset="0.5716" stop-color="#00aa8b"/><stop offset="0.5904" stop-color="#00aa9d"/><stop offset="0.6054" stop-color="#00a3bf"/><stop offset="0.6204" stop-color="#0098dd"/><stop offset="0.6392" stop-color="#008add"/><stop offset="0.6505" stop-color="#0078dd"/><stop offset="0.6618" stop-color="#0025dd"/><stop offset="0.6768" stop-color="#0000dd"/><stop offset="0.7219" stop-color="#0000d1"/><stop offset="0.7407" stop-color="#0000bd"/><stop offset="0.7418" stop-color="#0000d1"/><stop offset="0.743" stop-color="#00aa95"/><stop offset="0.7516" stop-color="#00aa95"/><stop offset="0.7527" stop-color="#0000d1"/><stop offset="0.7587" stop-color="#0000d1"/><stop offset="0.7599" stop-color="#0098dd"/><stop offset="0.767" stop-color="#0098dd"/><stop offset="0.7681" stop-color="#00aa90"/><stop offset="0.7775" stop-color="#00aa90"/><stop offset="0.7787" stop-color="#0092dd"/><stop offset="0.7896" stop-color="#0092dd"/><stop offset="0.7907" stop-color="#00aa95"/><stop offset="0.7971" stop-color="#00aa95"/><stop offset="0.7982" stop-color="#0000d1"/><stop offset="0.8113" stop-color="#0000d1"/><stop offset="0.8125" stop-color="#0098dd"/><stop offset="0.8192" stop-color="#0098dd"/><stop offset="0.8204" stop-color="#0000c9"/><stop offset="0.8264" stop-color="#0000c9"/><stop offset="0.8275" stop-color="#850096"/><stop offset="0.8279" stop-color="#670075"/><stop offset="0.8873" stop-color="#5d006b"/><stop offset="0.9248" stop-color="#540060"/><stop offset="0.9549" stop-color="#41004b"/><stop offset="0.9812" stop-color="#2f0035"/><stop offset="1" stop-color="#25002b"/></linearGradient><linearGradient id="g71" x1="0" x2="1" y1="0" y2="0"><stop offset="0" stop-color="#25002b"/><stop offset="0.2026" stop-color="#25002b"/><stop offset="0.2071" stop-color="#5d006b"/><stop offset="0.2127" stop-color="#850096"/><stop offset="0.2244" stop-color="#860097"/><stop offset="0.2274" stop-color="#0300aa"/><stop offset="0.2315" stop-color="#0000dd"/><stop offset="0.2371" stop-color="#0078dd"/><stop offset="0.2428" stop-color="#0090dd"/><stop offset="0.2672" stop-color="#0098dd"/><stop offset="0.2935" stop-color="#00a6b7"/><stop offset="0.3273" stop-color="#00aa9d"/><stop offset="0.3762" stop-color="#00aa95"/><stop offset="0.3874" stop-color="#00aa88"/><stop offset="0.3968" stop-color="#009e28"/><stop offset="0.4062" stop-color="#009c00"/><stop offset="0.4194" stop-color="#00a700"/><stop offset="0.4476" stop-color="#00ba00"/><stop offset="0.4739" stop-color="#00bf00"/><stop offset="0.5077" stop-color="#00b700"/><stop offset="0.5303" stop-color="#00ac00"/><stop offset="0.5434" stop-color="#009c00"/><stop offset="0.5528" stop-color="#009d1d"/><stop offset="0.5622" stop-color="#00a55d"/><stop offset="0.5716" stop-color="#00aa8b"/><stop offset="0.5904" stop-color="#00aa9d"/><stop offset="0.6054" stop-color="#00a3bf"/><stop offset="0.6204" stop-color="#0098dd"/><stop offset="0.6392" stop-color="#008add"/><stop offset="0.6505" stop-color="#0078dd"/><stop offset="0.6618" stop-color="#0025dd"/><stop offset="0.6768" stop-color="#0000dd"/><stop offset="0.7219" stop-color="#0000d1"/><stop offset="0.7407" stop-color="#0000bd"/><stop offset="0.7418" stop-color="#0000d1"/><stop offset="0.743" stop-color="#00aa95"/><stop offset="0.7516" stop-color="#00aa95"/><stop offset="0.7527" stop-color="#0000d1"/><stop offset="0.7587" stop-color="#0000d1"/><stop offset="0.7599" stop-color="#0098dd"/><stop offset="0.767" stop-color="#0098dd"/><stop offset="0.7681" stop-color="#00aa90"/><stop offset="0.7775" stop-color="#00aa90"/><stop offset="0.7787" stop-color="#0092dd"/><stop offset="0.7896" stop-color="#0092dd"/><stop offset="0.7907" stop-color="#00aa95"/><stop offset="0.7971" stop-color="#00aa95"/><stop offset="0.7982" stop-color="#0000d1"/><stop offset="0.8113" stop-color="#0000d1"/><stop offset="0.8125" stop-color="#0098dd"/><stop offset="0.8192" stop-color="#0098dd"/><stop offset="0.8204" stop-color="#0000c9"/><stop offset="0.8264" stop-color="#0000c9"/><stop offset="0.8275" stop-color="#850096"/><stop offset="0.8279" stop-color="#670075"/><stop offset="0.8873" stop-color="#5d006b"/><stop offset="0.9248" stop-color="#540060"/><stop offset="0.9549" stop-color="#41004b"/><stop offset="0.9812" stop-color="#2f0035"/><stop offset="1" stop-color="#25002b"/></linearGradient><linearGradient id="g72" x1="0" x2="1" y1="0" y2="0"><stop offset="0" stop-color="#25002b"/><stop offset="0.2026" stop-color="#25002b"/><stop offset="0.2071" stop-color="#5d006b"/><stop offset="0.2127" stop-color="#850096"/><stop offset="0.2244" stop-color="#860097"/><stop offset="0.2274" stop-color="#0300aa"/><stop offset="0.2315" stop-color="#0000dd"/><stop offset="0.2371" stop-color="#0078dd"/><stop offset="0.2428" stop-color="#008add"/><stop offset="0.2672" stop-color="#0092dd"/><stop offset="0.2935" stop-color="#00a4bb"/><stop offset="0.3273" stop-color="#00aaa0"/><stop offset="0.3762" stop-color="#00aa98"/><stop offset="0.3874" stop-color="#00aa8b"/><stop offset="0.3968" stop-color="#009e28"/><stop offset="0.4062" stop-color="#009c00"/><stop offset="0.4194" stop-color="#00aa00"/><stop offset="0.4476" stop-color="#00bc00"/><stop offset="0.4739" stop-color="#00bf00"/><stop offset="0.5077" stop-color="#00ba00"/><stop offset="0.5303" stop-color="#00ac00"/><stop offset="0.5434" stop-color="#009c00"/><stop offset="0.5528" stop-color="#009d1d"/><stop offset="0.5622" stop-color="#00a55d"/><stop offset="0.5716" stop-color="#00aa8b"/><stop offset="0.5904" stop-color="#00aa9d"/><stop offset="0.6054" stop-color="#00a3bf"/><stop offset="0.6204" stop-color="#0098dd"/><stop offset="0.6392" stop-color="#008add"/><stop offset="0.6505" stop-color="#0078dd"/><stop offset="0.6618" stop-color="#0025dd"/><stop offset="0.6768" stop-color="#0000dd"/><stop offset="0.7219" stop-color="#0000d1"/><stop offset="0.7407" stop-color="#0000bd"/><stop offset="0.7418" stop-color="#0000d1"/><stop offset="0.743" stop-color="#00aa95"/><stop offset="0.7516" stop-color="#00aa95"/><stop offset="0.7527" stop-color="#0000d1"/><stop offset="0.7587" stop-color="#0000d1"/><stop offset="0.7599" stop-color="#0098dd"/><stop offset="0.767" stop-color="#0098dd"/><stop offset="0.7681" stop-color="#00aa90"/><stop offset="0.7775" stop-color="#00aa90"/><stop offset="0.7787" stop-color="#0092dd"/><stop offset="0.7896" stop-color="#0092dd"/><stop offset="0.7907" stop-color="#00aa95"/><stop offset="0.7971" stop-color="#00aa95"/><stop offset="0.7982" stop-color="#0000d1"/><stop offset="0.8113" stop-color="#0000d1"/><stop offset="0.8125" stop-color="#0098dd"/><stop offset="0.8192" stop-color="#0098dd"/><stop offset="0.8204" stop-color="#0000c9"/><stop offset="0.8264" stop-color="#0000c9"/><stop offset="0.8275" stop-color="#850096"/><stop offset="0.8279" stop-color="#670075"/><stop offset="0.8873" stop-color="#5d006b"/><stop offset="0.9248" stop-color="#540060"/><stop offset="0.9549" stop-color="#41004b"/><stop offset="0.9812" stop-color="#2f0035"/><stop offset="1" stop-color="#25002b"/></linearGradient><linearGradient id="g73" x1="0" x2="1" y1="0" y2="0"><stop offset="0" stop-color="#25002b"/><stop offset="0.2026" stop-color="#25002b"/><stop offset="0.2071" stop-color="#5d006b"/><stop offset="0.2127" stop-color="#850096"/><stop offset="0.2244" stop-color="#860097"/><stop offset="0.2274" stop-color="#0300aa"/><stop offset="0.2315" stop-color="#0000dd"/><stop offset="0.2371" stop-color="#0078dd"/><stop offset="0.2428" stop-color="#0088dd"/><stop offset="0.2672" stop-color="#008ddd"/><stop offset="0.2935" stop-color="#00a0c7"/><stop offset="0.3273" stop-color="#00aaab"/><stop offset="0.3762" stop-color="#00aaa3"/><stop offset="0.3874" stop-color="#00aa95"/><stop offset="0.3968" stop-color="#009e28"/><stop offset="0.4062" stop-color="#009c00"/><stop offset="0.4194" stop-color="#00a400"/><stop offset="0.4476" stop-color="#00b700"/><stop offset="0.4739" stop-color="#00ba00"/><stop offset="0.5077" stop-color="#00b400"/><stop offset="0.5303" stop-color="#00a700"/><stop offset="0.5434" stop-color="#009c00"/><stop offset="0.5528" stop-color="#009d1d"/><stop offset="0.5622" stop-color="#00a55d"/><stop offset="0.5716" stop-color="#00aa8b"/><stop offset="0.5904" stop-color="#00aa9d"/><stop offset="0.6054" stop-color="#00a3bf"/><stop offset="0.6204" stop-color="#0098dd"/><stop offset="0.6392" stop-color="#008add"/><stop offset="0.6505" stop-color="#0078dd"/><stop offset="0.6618" stop-color="#0025dd"/><stop offset="0.6768" stop-color="#0000dd"/><stop offset="0.6994" stop-color="#0000d5"/><stop offset="0.7219" stop-color="#0000c9"/><stop offset="0.7388" stop-color="#0000bd"/><stop offset="0.7407" stop-color="#0000c1"/><stop offset="0.7418" stop-color="#0000d1"/><stop offset="0.743" stop-color="#00aa95"/><stop offset="0.7516" stop-color="#00aa95"/><stop offset="0.7527" stop-color="#0000d1"/><stop offset="0.7587" stop-color="#0000d1"/><stop offset="0.7599" stop-color="#0098dd"/><stop offset="0.767" stop-color="#0098dd"/><stop offset="0.7681" stop-color="#00aa90"/><stop offset="0.7775" stop-color="#00aa90"/><stop offset="0.7787" stop-color="#0092dd"/><stop offset="0.7896" stop-color="#0092dd"/><stop offset="0.7907" stop-color="#00aa95"/><stop offset="0.7971" stop-color="#00aa95"/><stop offset="0.7982" stop-color="#0000d1"/><stop offset="0.8113" stop-color="#0000d1"/><stop offset="0.8125" stop-color="#0098dd"/><stop offset="0.8192" stop-color="#0098dd"/><stop offset="0.8204" stop-color="#0000c9"/><stop offset="0.8264" stop-color="#0000c9"/><stop offset="0.8275" stop-color="#850096"/><stop offset="0.8279" stop-color="#5d006b"/><stop offset="0.8873" stop-color="#540060"/><stop offset="0.9248" stop-color="#4b0055"/><stop offset="0.9549" stop-color="#380040"/><stop offset="0.9812" stop-color="#2f0035"/><stop offset="1" stop-color="#25002b"/></linearGradient><linearGradient id="g74" x1="0" x2="1" y1="0" y2="0"><stop offset="0" stop-color="#25002b"/><stop offset="0.2026" stop-color="#25002b"/><stop offset="0.2071" stop-color="#5d006b"/><stop offset="0.2127" stop-color="#850096"/><stop offset="0.2244" stop-color="#860097"/><stop offset="0.2274" stop-color="#0300aa"/><stop offset="0.2315" stop-color="#0000dd"/><stop offset="0.2371" stop-color="#0078dd"/><stop offset="0.2428" stop-color="#0092dd"/><stop offset="0.2634" stop-color="#0098dd"/><stop offset="0.2672" stop-color="#00a3bf"/><stop offset="0.2691" stop-color="#00a8af"/><stop offset="0.2766" stop-color="#00aa93"/><stop offset="0.2935" stop-color="#00aa8b"/><stop offset="0.3273" stop-color="#00a773"/><stop offset="0.3747" stop-color="#00a55d"/><stop offset="0.3762" stop-color="#00a353"/><stop offset="0.3874" stop-color="#009d1d"/><stop offset="0.3968" stop-color="#009e28"/><stop offset="0.4062" stop-color="#009c00"/><stop offset="0.4194" stop-color="#00a200"/><stop offset="0.4476" stop-color="#00b200"/><stop offset="0.4739" stop-color="#00b700"/><stop offset="0.5077" stop-color="#00b200"/><stop offset="0.5303" stop-color="#00a400"/><stop offset="0.5434" stop-color="#009c00"/><stop offset="0.5528" stop-color="#009d1d"/><stop offset="0.5622" stop-color="#00a55d"/><stop offset="0.5716" stop-color="#00aa8b"/><stop offset="0.5904" stop-color="#00aa9d"/><stop offset="0.6054" stop-color="#00a3bf"/><stop offset="0.6204" stop-color="#0098dd"/><stop offset="0.6392" stop-color="#008add"/><stop offset="0.6505" stop-color="#0078dd"/><stop offset="0.6618" stop-color="#0025dd"/><stop offset="0.6768" stop-color="#0000dd"/><stop offset="0.6881" stop-color="#0000d5"/><stop offset="0.6994" stop-color="#0000c9"/><stop offset="0.7069" stop-color="#0000c1"/><stop offset="0.7182" stop-color="#0300aa"/><stop offset="0.7219" stop-color="#0d00a8"/><stop offset="0.7257" stop-color="#2300a6"/><stop offset="0.7388" stop-color="#3800a3"/><stop offset="0.7418" stop-color="#0000d1"/><stop offset="0.743" stop-color="#00aa95"/><stop offset="0.7516" stop-color="#00aa95"/><stop offset="0.7527" stop-color="#0000d1"/><stop offset="0.7587" stop-color="#0000d1"/><stop offset="0.7599" stop-color="#0098dd"/><stop offset="0.767" stop-color="#0098dd"/><stop offset="0.7681" stop-color="#00aa90"/><stop offset="0.7775" stop-color="#00aa90"/><stop offset="0.7787" stop-color="#0092dd"/><stop offset="0.7896" stop-color="#0092dd"/><stop offset="0.7907" stop-color="#00aa95"/><stop offset="0.7971" stop-color="#00aa95"/><stop offset="0.7982" stop-color="#0000d1"/><stop offset="0.8113" stop-color="#0000d1"/><stop offset="0.8125" stop-color="#0098dd"/><stop offset="0.8192" stop-color="#0098dd"/><stop offset="0.8204" stop-color="#0000c9"/><stop offset="0.8264" stop-color="#0000c9"/><stop offset="0.8275" stop-color="#850096"/><stop offset="0.8279" stop-color="#4b0055"/><stop offset="0.8873" stop-color="#4b0055"/><stop offset="0.9248" stop-color="#41004b"/><stop offset="0.9549" stop-color="#2f0035"/><stop offset="0.9812" stop-color="#2f0035"/><stop offset="1" stop-color="#25002b"/></linearGradient><linearGradient id="g75" x1="0" x2="1" y1="0" y2="0"><stop offset="0" stop-color="#25002b"/><stop offset="0.2026" stop-color="#25002b"/><stop offset="0.2071" stop-color="#5d006b"/><stop offset="0.2127" stop-color="#850096"/><stop offset="0.2244" stop-color="#860097"/><stop offset="0.2274" stop-color="#0300aa"/><stop offset="0.2315" stop-color="#0000dd"/><stop offset="0.2371" stop-color="#0078dd"/><stop offset="0.2428" stop-color="#0095dd"/><stop offset="0.2634" stop-color="#009adb"/><stop offset="0.2672" stop-color="#00a4bb"/><stop offset="0.2691" stop-color="#00aaab"/><stop offset="0.2766" stop-color="#00aa90"/><stop offset="0.2935" stop-color="#00a97d"/><stop offset="0.3273" stop-color="#00a353"/><stop offset="0.3747" stop-color="#00a13d"/><stop offset="0.3762" stop-color="#009f33"/><stop offset="0.3874" stop-color="#009a00"/><stop offset="0.3968" stop-color="#009e28"/><stop offset="0.4062" stop-color="#009c00"/><stop offset="0.4194" stop-color="#00a200"/><stop offset="0.4476" stop-color="#00b200"/><stop offset="0.4739" stop-color="#00b700"/><stop offset="0.5077" stop-color="#00b200"/><stop offset="0.5303" stop-color="#00a400"/><stop offset="0.5434" stop-color="#009c00"/><stop offset="0.5528" stop-color="#009d1d"/><stop offset="0.5622" stop-color="#00a55d"/><stop offset="0.5716" stop-color="#00aa8b"/><stop offset="0.5904" stop-color="#00aa9d"/><stop offset="0.6054" stop-color="#00a3bf"/><stop offset="0.6204" stop-color="#0098dd"/><stop offset="0.6392" stop-color="#008add"/><stop offset="0.6505" stop-color="#0078dd"/><stop offset="0.6618" stop-color="#0025dd"/><stop offset="0.6768" stop-color="#0000dd"/><stop offset="0.6881" stop-color="#0000d5"/><stop offset="0.7069" stop-color="#0000c5"/><stop offset="0.7182" stop-color="#0000b1"/><stop offset="0.7219" stop-color="#0000ad"/><stop offset="0.7257" stop-color="#0d00a8"/><stop offset="0.7388" stop-color="#2d00a4"/><stop offset="0.7407" stop-color="#0000b5"/><stop offset="0.7418" stop-color="#0000d1"/><stop offset="0.743" stop-color="#00aa95"/><stop offset="0.7516" stop-color="#00aa95"/><stop offset="0.7527" stop-color="#0000d1"/><stop offset="0.7587" stop-color="#0000d1"/><stop offset="0.7599" stop-color="#0098dd"/><stop offset="0.767" stop-color="#0098dd"/><stop offset="0.7681" stop-color="#00aa90"/><stop offset="0.7775" stop-color="#00aa90"/><stop offset="0.7787" stop-color="#0092dd"/><stop offset="0.7896" stop-color="#0092dd"/><stop offset="0.7907" stop-color="#00aa95"/><stop offset="0.7971" stop-color="#00aa95"/><stop offset="0.7982" stop-color="#0000d1"/><stop offset="0.8113" stop-color="#0000d1"/><stop offset="0.8125" stop-color="#0098dd"/><stop offset="0.8192" stop-color="#0098dd"/><stop offset="0.8204" stop-color="#0000c9"/><stop offset="0.8264" stop-color="#0000c9"/><stop offset="0.8275" stop-color="#850096"/><stop offset="0.8279" stop-color="#4b0055"/><stop offset="0.8873" stop-color="#4b0055"/><stop offset="0.9248" stop-color="#41004b"/><stop offset="0.9549" stop-color="#2f0035"/><stop offset="0.9812" stop-color="#2f0035"/><stop offset="1" stop-color="#25002b"/></linearGradient><linearGradient id="g76" x1="0" x2="1" y1="0" y2="0"><stop offset="0" stop-color="#25002b"/><stop offset="0.2026" stop-color="#25002b"/><stop offset="0.2071" stop-color="#5d006b"/><stop offset="0.2127" stop-color="#850096"/><stop offset="0.2244" stop-color="#860097"/><stop offset="0.2274" stop-color="#0300aa"/><stop offset="0.2315" stop-color="#0000dd"/><stop offset="0.2371" stop-color="#0078dd"/><stop offset="0.2428" stop-color="#0092dd"/><stop offset="0.2672" stop-color="#0098dd"/><stop offset="0.2935" stop-color="#00a7b3"/><stop offset="0.3273" stop-color="#00aa9d"/><stop offset="0.3762" stop-color="#00aa95"/><stop offset="0.3874" stop-color="#00aa88"/><stop offset="0.3968" stop-color="#009e28"/><stop offset="0.4062" stop-color="#009c00"/><stop offset="0.4194" stop-color="#00a700"/><stop offset="0.4476" stop-color="#00ba00"/><stop offset="0.4739" stop-color="#00bf00"/><stop offset="0.5077" stop-color="#00b700"/><stop offset="0.5303" stop-color="#00ac00"/><stop offset="0.5434" stop-color="#009c00"/><stop offset="0.5528" stop-color="#009d1d"/><stop offset="0.5622" stop-color="#00a55d"/><stop offset="0.5716" stop-color="#00aa8b"/><stop offset="0.5904" stop-color="#00aa9d"/><stop offset="0.6054" stop-color="#00a3bf"/><stop offset="0.6204" stop-color="#0098dd"/><stop offset="0.6392" stop-color="#008add"/><stop offset="0.6505" stop-color="#0078dd"/><stop offset="0.6618" stop-color="#0025dd"/><stop offset="0.6768" stop-color="#0000dd"/><stop offset="0.7219" stop-color="#0000d1"/><stop offset="0.7407" stop-color="#0000bd"/><stop offset="0.7418" stop-color="#0000d1"/><stop offset="0.743" stop-color="#00aa95"/><stop offset="0.7516" stop-color="#00aa95"/><stop offset="0.7527" stop-color="#0000d1"/><stop offset="0.7587" stop-color="#0000d1"/><stop offset="0.7599" stop-color="#0098dd"/><stop offset="0.767" stop-color="#0098dd"/><stop offset="0.7681" stop-color="#00aa90"/><stop offset="0.7775" stop-color="#00aa90"/><stop offset="0.7787" stop-color="#0092dd"/><stop offset="0.7896" stop-color="#0092dd"/><stop offset="0.7907" stop-color="#00aa95"/><stop offset="0.7971" stop-color="#00aa95"/><stop offset="0.7982" stop-color="#0000d1"/><stop offset="0.8113" stop-color="#0000d1"/><stop offset="0.8125" stop-color="#0098dd"/><stop offset="0.8192" stop-color="#0098dd"/><stop offset="0.8204" stop-color="#0000c9"/><stop offset="0.8264" stop-color="#0000c9"/><stop offset="0.8275" stop-color="#850096"/><stop offset="0.8279" stop-color="#4b0055"/><stop offset="0.8873" stop-color="#4b0055"/><stop offset="0.9248" stop-color="#41004b"/><stop offset="0.9549" stop-color="#2f0035"/><stop offset="0.9812" stop-color="#2f0035"/><stop offset="1" stop-color="#25002b"/></linearGradient><linearGradient id="g77" x1="0" x2="1" y1="0" y2="0"><stop offset="0" stop-color="#25002b"/><stop offset="0.2026" stop-color="#25002b"/><stop offset="0.2071" stop-color="#5d006b"/><stop offset="0.2127" stop-color="#850096"/><stop offset="0.2244" stop-color="#860097"/><stop offset="0.2274" stop-color="#0300aa"/><stop offset="0.2315" stop-color="#0000dd"/><stop offset="0.2371" stop-color="#0078dd"/><stop offset="0.2428" stop-color="#0092dd"/><stop offset="0.2672" stop-color="#0098dd"/><stop offset="0.2935" stop-color="#00a7b3"/><stop offset="0.3273" stop-color="#00aa9d"/><stop offset="0.3762" stop-color="#00aa95"/><stop offset="0.3874" stop-color="#00aa88"/><stop offset="0.3968" stop-color="#009e28"/><stop offset="0.4062" stop-color="#009c00"/><stop offset="0.4194" stop-color="#00b200"/><stop offset="0.4476" stop-color="#00c200"/><stop offset="0.4739" stop-color="#00c700"/><stop offset="0.5077" stop-color="#00bf00"/><stop offset="0.5303" stop-color="#00b400"/><stop offset="0.5434" stop-color="#009c00"/><stop offset="0.5528" stop-color="#009d1d"/><stop offset="0.5622" stop-color="#00a55d"/><stop offset="0.5716" stop-color="#00aa8b"/><stop offset="0.5904" stop-color="#00aa9d"/><stop offset="0.6054" stop-color="#00a3bf"/><stop offset="0.6204" stop-color="#0098dd"/><stop offset="0.6392" stop-color="#008add"/><stop offset="0.6505" stop-color="#0078dd"/><stop offset="0.6618" stop-color="#0025dd"/><stop offset="0.6768" stop-color="#0000dd"/><stop offset="0.7219" stop-color="#0000d1"/><stop offset="0.7407" stop-color="#0000bd"/><stop offset="0.7418" stop-color="#0000d1"/><stop offset="0.743" stop-color="#00aa95"/><stop offset="0.7516" stop-color="#00aa95"/><stop offset="0.7527" stop-color="#0000d1"/><stop offset="0.7587" stop-color="#0000d1"/><stop offset="0.7599" stop-color="#0098dd"/><stop offset="0.767" stop-color="#0098dd"/><stop offset="0.7681" stop-color="#00aa90"/><stop offset="0.7775" stop-color="#00aa90"/><stop offset="0.7787" stop-color="#0092dd"/><stop offset="0.7896" stop-color="#0092dd"/><stop offset="0.7907" stop-color="#00aa95"/><stop offset="0.7971" stop-color="#00aa95"/><stop offset="0.7982" stop-color="#0000d1"/><stop offset="0.8113" stop-color="#0000d1"/><stop offset="0.8125" stop-color="#0098dd"/><stop offset="0.8192" stop-color="#0098dd"/><stop offset="0.8204" stop-color="#0000c9"/><stop offset="0.8264" stop-color="#0000c9"/><stop offset="0.8275" stop-color="#850096"/><stop offset="0.8279" stop-color="#5d006b"/><stop offset="0.8873" stop-color="#540060"/><stop offset="0.9248" stop-color="#4b0055"/><stop offset="0.9549" stop-color="#380040"/><stop offset="0.9812" stop-color="#2f0035"/><stop offset="1" stop-color="#25002b"/></linearGradient><linearGradient id="g78" x1="0" x2="1" y1="0" y2="0"><stop offset="0" stop-color="#25002b"/><stop offset="0.2026" stop-color="#25002b"/><stop offset="0.2071" stop-color="#5d006b"/><stop offset="0.2127" stop-color="#850096"/><stop offset="0.2244" stop-color="#860097"/><stop offset="0.2274" stop-color="#0300aa"/><stop offset="0.2315" stop-color="#0000dd"/><stop offset="0.2371" stop-color="#0078dd"/><stop offset="0.2428" stop-color="#0092dd"/><stop offset="0.2672" stop-color="#0098dd"/><stop offset="0.2935" stop-color="#00a7b3"/><stop offset="0.3273" stop-color="#00aa9d"/><stop offset="0.3762" stop-color="#00aa95"/><stop offset="0.3821" stop-color="#00aa90"/><stop offset="0.3822" stop-color="#67ff00"/><stop offset="0.3856" stop-color="#67ff00"/><stop offset="0.3856" stop-color="#00aa8b"/><stop offset="0.3862" stop-color="#00aa8b"/><stop offset="0.3863" stop-color="#00d400"/><stop offset="0.3874" stop-color="#00d700"/><stop offset="0.3905" stop-color="#00da00"/><stop offset="0.3905" stop-color="#00a668"/><stop offset="0.3968" stop-color="#009e28"/><stop offset="0.4062" stop-color="#009c00"/><stop offset="0.4194" stop-color="#00b200"/><stop offset="0.4476" stop-color="#00c200"/><stop offset="0.4739" stop-color="#00c700"/><stop offset="0.5077" stop-color="#00bf00"/><stop offset="0.5303" stop-color="#00b400"/><stop offset="0.5434" stop-color="#009c00"/><stop offset="0.5528" stop-color="#009d1d"/><stop offset="0.5622" stop-color="#00a55d"/><stop offset="0.5716" stop-color="#00aa8b"/><stop offset="0.5904" stop-color="#00aa9d"/><stop offset="0.6054" stop-color="#00a3bf"/><stop offset="0.6204" stop-color="#0098dd"/><stop offset="0.6392" stop-color="#008add"/><stop offset="0.6505" stop-color="#0078dd"/><stop offset="0.6618" stop-color="#0025dd"/><stop offset="0.6768" stop-color="#0000dd"/><stop offset="0.7219" stop-color="#0000d1"/><stop offset="0.7407" stop-color="#0000bd"/><stop offset="0.7418" stop-color="#0000d1"/><stop offset="0.743" stop-color="#00aa95"/><stop offset="0.7516" stop-color="#00aa95"/><stop offset="0.7527" stop-color="#0000d1"/><stop offset="0.7587" stop-color="#0000d1"/><stop offset="0.7599" stop-color="#0098dd"/><stop offset="0.767" stop-color="#0098dd"/><stop offset="0.7681" stop-color="#00aa90"/><stop offset="0.7775" stop-color="#00aa90"/><stop offset="0.7787" stop-color="#0092dd"/><stop offset="0.7896" stop-color="#0092dd"/><stop offset="0.7907" stop-color="#00aa95"/><stop offset="0.7971" stop-color="#00aa95"/><stop offset="0.7982" stop-color="#0000d1"/><stop offset="0.8113" stop-color="#0000d1"/><stop offset="0.8125" stop-color="#0098dd"/><stop offset="0.8192" stop-color="#0098dd"/><stop offset="0.8204" stop-color="#0000c9"/><stop offset="0.8264" stop-color="#0000c9"/><stop offset="0.8275" stop-color="#850096"/><stop offset="0.8279" stop-color="#670075"/><stop offset="0.8873" stop-color="#5d006b"/><stop offset="0.9248" stop-color="#540060"/><stop offset="0.9549" stop-color="#41004b"/><stop offset="0.9812" stop-color="#2f0035"/><stop offset="1" stop-color="#25002b"/></linearGradient><linearGradient id="g79" x1="0" x2="1" y1="0" y2="0"><stop offset="0" stop-color="#25002b"/><stop offset="0.2026" stop-color="#25002b"/><stop offset="0.2071" stop-color="#5d006b"/><stop offset="0.2127" stop-color="#850096"/><stop offset="0.2244" stop-color="#860097"/><stop offset="0.2274" stop-color="#0300aa"/><stop offset="0.2315" stop-color="#0000dd"/><stop offset="0.2371" stop-color="#0078dd"/><stop offset="0.2428" stop-color="#008ddd"/><stop offset="0.2672" stop-color="#0095dd"/><stop offset="0.2935" stop-color="#00a4bb"/><stop offset="0.3273" stop-color="#00aaa0"/><stop offset="0.3762" stop-color="#00aa98"/><stop offset="0.3821" stop-color="#00aa93"/><stop offset="0.3822" stop-color="#49ff00"/><stop offset="0.3856" stop-color="#58ff00"/><stop offset="0.3856" stop-color="#00aa8d"/><stop offset="0.3862" stop-color="#00aa8d"/><stop offset="0.3863" stop-color="#00d200"/><stop offset="0.3874" stop-color="#00d200"/><stop offset="0.3905" stop-color="#00d700"/><stop offset="0.3905" stop-color="#00a773"/><stop offset="0.3968" stop-color="#009e28"/><stop offset="0.4062" stop-color="#009c00"/><stop offset="0.4194" stop-color="#00aa00"/><stop offset="0.4476" stop-color="#00bc00"/><stop offset="0.4739" stop-color="#00bf00"/><stop offset="0.5077" stop-color="#00ba00"/><stop offset="0.5303" stop-color="#00ac00"/><stop offset="0.5434" stop-color="#009c00"/><stop offset="0.5528" stop-color="#009d1d"/><stop offset="0.5622" stop-color="#00a55d"/><stop offset="0.5716" stop-color="#00aa8b"/><stop offset="0.5904" stop-color="#00aa9d"/><stop offset="0.6054" stop-color="#00a3bf"/><stop offset="0.6204" stop-color="#0098dd"/><stop offset="0.6392" stop-color="#008add"/><stop offset="0.6505" stop-color="#0078dd"/><stop offset="0.6618" stop-color="#0025dd"/><stop offset="0.6768" stop-color="#0000dd"/><stop offset="0.7219" stop-color="#0000d1"/><stop offset="0.7407" stop-color="#0000bd"/><stop offset="0.7418" stop-color="#0000d1"/><stop offset="0.743" stop-color="#00aa95"/><stop offset="0.7516" stop-color="#00aa95"/><stop offset="0.7527" stop-color="#0000d1"/><stop offset="0.7587" stop-color="#0000d1"/><stop offset="0.7599" stop-color="#0098dd"/><stop offset="0.767" stop-color="#0098dd"/><stop offset="0.7681" stop-color="#00aa90"/><stop offset="0.7775" stop-color="#00aa90"/><stop offset="0.7787" stop-color="#0092dd"/><stop offset="0.7896" stop-color="#0092dd"/><stop offset="0.7907" stop-color="#00aa95"/><stop offset="0.7971" stop-color="#00aa95"/><stop offset="0.7982" stop-color="#0000d1"/><stop offset="0.8113" stop-color="#0000d1"/><stop offset="0.8125" stop-color="#0098dd"/><stop offset="0.8192" stop-color="#0098dd"/><stop offset="0.8204" stop-color="#0000c9"/><stop offset="0.8264" stop-color="#0000c9"/><stop offset="0.8275" stop-color="#850096"/><stop offset="0.8279" stop-color="#670075"/><stop offset="0.8873" stop-color="#5d006b"/><stop offset="0.9248" stop-color="#540060"/><stop offset="0.9549" stop-color="#41004b"/><stop offset="0.9812" stop-color="#2f0035"/><stop offset="1" stop-color="#25002b"/></linearGradient><linearGradient id="g80" x1="0" x2="1" y1="0" y2="0"><stop offset="0" stop-color="#25002b"/><stop offset="0.2026" stop-color="#25002b"/><stop offset="0.2071" stop-color="#5d006b"/><stop offset="0.2127" stop-color="#850096"/><stop offset="0.2244" stop-color="#860097"/><stop offset="0.2274" stop-color="#0300aa"/><stop offset="0.2315" stop-color="#0000dd"/><stop offset="0.2371" stop-color="#0078dd"/><stop offset="0.2428" stop-color="#0092dd"/><stop offset="0.2672" stop-color="#0098dd"/><stop offset="0.2935" stop-color="#00a8af"/><stop offset="0.3273" stop-color="#00aa95"/><stop offset="0.3762" stop-color="#00aa90"/><stop offset="0.3874" stop-color="#00a773"/><stop offset="0.3968" stop-color="#009e28"/><stop offset="0.4062" stop-color="#009c00"/><stop offset="0.4194" stop-color="#00b200"/><stop offset="0.4476" stop-color="#00c200"/><stop offset="0.4739" stop-color="#00c700"/><stop offset="0.5077" stop-color="#00bf00"/><stop offset="0.5303" stop-color="#00b400"/><stop offset="0.5434" stop-color="#009c00"/><stop offset="0.5528" stop-color="#009d1d"/><stop offset="0.5622" stop-color="#00a55d"/><stop offset="0.5716" stop-color="#00aa8b"/><stop offset="0.5904" stop-color="#00aa9d"/><stop offset="0.6054" stop-color="#00a3bf"/><stop offset="0.6204" stop-color="#0098dd"/><stop offset="0.6392" stop-color="#008add"/><stop offset="0.6505" stop-color="#0078dd"/><stop offset="0.6618" stop-color="#0025dd"/><stop offset="0.6768" stop-color="#0000dd"/><stop offset="0.7219" stop-color="#0000d1"/><stop offset="0.7407" stop-color="#0000bd"/><stop offset="0.7418" stop-color="#0000d1"/><stop offset="0.743" stop-color="#00aa95"/><stop offset="0.7516" stop-color="#00aa95"/><stop offset="0.7527" stop-color="#0000d1"/><stop offset="0.7587" stop-color="#0000d1"/><stop offset="0.7599" stop-color="#0098dd"/><stop offset="0.767" stop-color="#0098dd"/><stop offset="0.7681" stop-color="#00aa90"/><stop offset="0.7775" stop-color="#00aa90"/><stop offset="0.7787" stop-color="#0092dd"/><stop offset="0.7896" stop-color="#0092dd"/><stop offset="0.7907" stop-color="#00aa95"/><stop offset="0.7971" stop-color="#00aa95"/><stop offset="0.7982" stop-color="#0000d1"/><stop offset="0.8113" stop-color="#0000d1"/><stop offset="0.8125" stop-color="#0098dd"/><stop offset="0.8192" stop-color="#0098dd"/><stop offset="0.8204" stop-color="#0000c9"/><stop offset="0.8264" stop-color="#0000c9"/><stop offset="0.8275" stop-color="#850096"/><stop offset="0.8279" stop-color="#670075"/><stop offset="0.8873" stop-color="#5d006b"/><stop offset="0.9248" stop-color="#540060"/><stop offset="0.9549" stop-color="#41004b"/><stop offset="0.9812" stop-color="#2f0035"/><stop offset="1" stop-color="#25002b"/></linearGradient><linearGradient id="g81" x1="0" x2="1" y1="0" y2="0"><stop offset="0" stop-color="#25002b"/><stop offset="0.2026" stop-color="#25002b"/><stop offset="0.2071" stop-color="#5d006b"/><stop offset="0.2127" stop-color="#850096"/><stop offset="0.2244" stop-color="#860097"/><stop offset="0.2274" stop-color="#0300aa"/><stop offset="0.2315" stop-color="#0000dd"/><stop offset="0.2371" stop-color="#0078dd"/><stop offset="0.2428" stop-color="#0090dd"/><stop offset="0.2672" stop-color="#0098dd"/><stop offset="0.2935" stop-color="#00a6b7"/><stop offset="0.3273" stop-color="#00aa9d"/><stop offset="0.3762" stop-color="#00aa95"/><stop offset="0.3874" stop-color="#00aa88"/><stop offset="0.3968" stop-color="#009e28"/><stop offset="0.4062" stop-color="#009c00"/><stop offset="0.4194" stop-color="#00ac00"/><stop offset="0.4476" stop-color="#00bc00"/><stop offset="0.4739" stop-color="#00c200"/><stop offset="0.5077" stop-color="#00ba00"/><stop offset="0.5303" stop-color="#00af00"/><stop offset="0.5434" stop-color="#009c00"/><stop offset="0.5528" stop-color="#009d1d"/><stop offset="0.5622" stop-color="#00a55d"/><stop offset="0.5716" stop-color="#00aa8b"/><stop offset="0.5904" stop-color="#00aa9d"/><stop offset="0.6054" stop-color="#00a3bf"/><stop offset="0.6204" stop-color="#0098dd"/><stop offset="0.6392" stop-color="#008add"/><stop offset="0.6505" stop-color="#0078dd"/><stop offset="0.6618" stop-color="#0025dd"/><stop offset="0.6768" stop-color="#0000dd"/><stop offset="0.7219" stop-color="#0000d1"/><stop offset="0.7407" stop-color="#0000bd"/><stop offset="0.7418" stop-color="#0000d1"/><stop offset="0.743" stop-color="#00aa95"/><stop offset="0.7516" stop-color="#00aa95"/><stop offset="0.7527" stop-color="#0000d1"/><stop offset="0.7587" stop-color="#0000d1"/><stop offset="0.7599" stop-color="#0098dd"/><stop offset="0.767" stop-color="#0098dd"/><stop offset="0.7681" stop-color="#00aa90"/><stop offset="0.7775" stop-color="#00aa90"/><stop offset="0.7787" stop-color="#0092dd"/><stop offset="0.7896" stop-color="#0092dd"/><stop offset="0.7907" stop-color="#00aa95"/><stop offset="0.7971" stop-color="#00aa95"/><stop offset="0.7982" stop-color="#0000d1"/><stop offset="0.8113" stop-color="#0000d1"/><stop offset="0.8125" stop-color="#0098dd"/><stop offset="0.8192" stop-color="#0098dd"/><stop offset="0.8204" stop-color="#0000c9"/><stop offset="0.8264" stop-color="#0000c9"/><stop offset="0.8275" stop-color="#850096"/><stop offset="0.8279" stop-color="#670075"/><stop offset="0.8873" stop-color="#5d006b"/><stop offset="0.9248" stop-color="#540060"/><stop offset="0.9549" stop-color="#41004b"/><stop offset="0.9812" stop-color="#2f0035"/><stop offset="1" stop-color="#25002b"/></linearGradient><linearGradient id="g82" x1="0" x2="1" y1="0" y2="0"><stop offset="0" stop-color="#25002b"/><stop offset="0.2026" stop-color="#25002b"/><stop offset="0.2071" stop-color="#5d006b"/><stop offset="0.2127" stop-color="#850096"/><stop offset="0.2244" stop-color="#860097"/><stop offset="0.2274" stop-color="#0300aa"/><stop offset="0.2315" stop-color="#0000dd"/><stop offset="0.2371" stop-color="#0078dd"/><stop offset="0.2428" stop-color="#008ddd"/><stop offset="0.2672" stop-color="#0092dd"/><stop offset="0.2935" stop-color="#00a3bf"/><stop offset="0.3273" stop-color="#00aaa8"/><stop offset="0.3762" stop-color="#00aaa0"/><stop offset="0.3874" stop-color="#00aa93"/><stop offset="0.3968" stop-color="#009e28"/><stop offset="0.4062" stop-color="#009c00"/><stop offset="0.4194" stop-color="#00a400"/><stop offset="0.4476" stop-color="#00b400"/><stop offset="0.4739" stop-color="#00ba00"/><stop offset="0.5077" stop-color="#00b200"/><stop offset="0.5303" stop-color="#00a700"/><stop offset="0.5434" stop-color="#009c00"/><stop offset="0.5528" stop-color="#009d1d"/><stop offset="0.5622" stop-color="#00a55d"/><stop offset="0.5716" stop-color="#00aa8b"/><stop offset="0.5904" stop-color="#00aa9d"/><stop offset="0.6054" stop-color="#00a3bf"/><stop offset="0.6204" stop-color="#0098dd"/><stop offset="0.6392" stop-color="#008add"/><stop offset="0.6505" stop-color="#0078dd"/><stop offset="0.6618" stop-color="#0025dd"/><stop offset="0.6768" stop-color="#0000dd"/><stop offset="0.7219" stop-color="#0000d1"/><stop offset="0.7407" stop-color="#0000bd"/><stop offset="0.7418" stop-color="#0000d1"/><stop offset="0.743" stop-color="#00aa95"/><stop offset="0.7516" stop-color="#00aa95"/><stop offset="0.7527" stop-color="#0000d1"/><stop offset="0.7587" stop-color="#0000d1"/><stop offset="0.7599" stop-color="#0098dd"/><stop offset="0.767" stop-color="#0098dd"/><stop offset="0.7681" stop-color="#00aa90"/><stop offset="0.7775" stop-color="#00aa90"/><stop offset="0.7787" stop-color="#0092dd"/><stop offset="0.7896" stop-color="#0092dd"/><stop offset="0.7907" stop-color="#00aa95"/><stop offset="0.7971" stop-color="#00aa95"/><stop offset="0.7982" stop-color="#0000d1"/><stop offset="0.8113" stop-color="#0000d1"/><stop offset="0.8125" stop-color="#0098dd"/><stop offset="0.8192" stop-color="#0098dd"/><stop offset="0.8204" stop-color="#0000c9"/><stop offset="0.8264" stop-color="#0000c9"/><stop offset="0.8275" stop-color="#850096"/><stop offset="0.8279" stop-color="#670075"/><stop offset="0.8873" stop-color="#5d006b"/><stop offset="0.9248" stop-color="#540060"/><stop offset="0.9549" stop-color="#41004b"/><stop offset="0.9812" stop-color="#2f0035"/><stop offset="1" stop-color="#25002b"/></linearGradient><linearGradient id="g83" x1="0" x2="1" y1="0" y2="0"><stop offset="0" stop-color="#25002b"/><stop offset="0.2026" stop-color="#25002b"/><stop offset="0.2071" stop-color="#5d006b"/><stop offset="0.2127" stop-color="#850096"/><stop offset="0.2244" stop-color="#860097"/><stop offset="0.2274" stop-color="#0300aa"/><stop offset="0.2315" stop-color="#0000dd"/><stop offset="0.2371" stop-color="#0078dd"/><stop offset="0.2428" stop-color="#008ddd"/><stop offset="0.2672" stop-color="#0095dd"/><stop offset="0.2935" stop-color="#00a4bb"/><stop offset="0.3273" stop-color="#00aaa3"/><stop offset="0.3762" stop-color="#00aa9d"/><stop offset="0.3874" stop-color="#00aa90"/><stop offset="0.3968" stop-color="#009e28"/><stop offset="0.4062" stop-color="#009c00"/><stop offset="0.4194" stop-color="#00a700"/><stop offset="0.4476" stop-color="#00ba00"/><stop offset="0.4739" stop-color="#00bf00"/><stop offset="0.5077" stop-color="#00b700"/><stop offset="0.5303" stop-color="#00ac00"/><stop offset="0.5434" stop-color="#009c00"/><stop offset="0.5528" stop-color="#009d1d"/><stop offset="0.5622" stop-color="#00a55d"/><stop offset="0.5716" stop-color="#00aa8b"/><stop offset="0.5904" stop-color="#00aa9d"/><stop offset="0.6054" stop-color="#00a3bf"/><stop offset="0.6204" stop-color="#0098dd"/><stop offset="0.6392" stop-color="#008add"/><stop offset="0.6505" stop-color="#0078dd"/><stop offset="0.6618" stop-color="#0025dd"/><stop offset="0.6768" stop-color="#0000dd"/><stop offset="0.7219" stop-color="#0000d1"/><stop offset="0.7407" stop-color="#0000bd"/><stop offset="0.7418" stop-color="#0000d1"/><stop offset="0.743" stop-color="#00aa95"/><stop offset="0.7516" stop-color="#00aa95"/><stop offset="0.7527" stop-color="#0000d1"/><stop offset="0.7587" stop-color="#0000d1"/><stop offset="0.7599" stop-color="#0098dd"/><stop offset="0.767" stop-color="#0098dd"/><stop offset="0.7681" stop-color="#00aa90"/><stop offset="0.7775" stop-color="#00aa90"/><stop offset="0.7787" stop-color="#0092dd"/><stop offset="0.7896" stop-color="#0092dd"/><stop offset="0.7907" stop-color="#00aa95"/><stop offset="0.7971" stop-color="#00aa95"/><stop offset="0.7982" stop-color="#0000d1"/><stop offset="0.8113" stop-color="#0000d1"/><stop offset="0.8125" stop-color="#0098dd"/><stop offset="0.8192" stop-color="#0098dd"/><stop offset="0.8204" stop-color="#0000c9"/><stop offset="0.8264" stop-color="#0000c9"/><stop offset="0.8275" stop-color="#850096"/><stop offset="0.8279" stop-color="#670075"/><stop offset="0.8873" stop-color="#5d006b"/><stop offset="0.9248" stop-color="#540060"/><stop offset="0.9549" stop-color="#41004b"/><stop offset="0.9812" stop-color="#2f0035"/><stop offset="1" stop-color="#25002b"/></linearGradient><linearGradient id="g84" x1="0" x2="1" y1="0" y2="0"><stop offset="0" stop-color="#1c0020"/><stop offset="0.2026" stop-color="#1c0020"/><stop offset="0.2071" stop-color="#380040"/><stop offset="0.2127" stop-color="#700080"/><stop offset="0.2244" stop-color="#770088"/><stop offset="0.2274" stop-color="#810092"/><stop offset="0.2296" stop-color="#850096"/><stop offset="0.2315" stop-color="#83009a"/><stop offset="0.2371" stop-color="#3800a3"/><stop offset="0.2428" stop-color="#0d00a8"/><stop offset="0.2672" stop-color="#0300aa"/><stop offset="0.2935" stop-color="#0000bd"/><stop offset="0.3273" stop-color="#0000c9"/><stop offset="0.3762" stop-color="#0000cd"/><stop offset="0.3874" stop-color="#0000d9"/><stop offset="0.3968" stop-color="#0038dd"/><stop offset="0.4062" stop-color="#004bdd"/><stop offset="0.4194" stop-color="#005ddd"/><stop offset="0.4476" stop-color="#0078dd"/><stop offset="0.4739" stop-color="#007add"/><stop offset="0.5077" stop-color="#0078dd"/><stop offset="0.5303" stop-color="#0067dd"/><stop offset="0.5434" stop-color="#004bdd"/><stop offset="0.5528" stop-color="#0038dd"/><stop offset="0.5622" stop-color="#001cdd"/><stop offset="0.5716" stop-color="#0009dd"/><stop offset="0.5904" stop-color="#0000d5"/><stop offset="0.6054" stop-color="#0000bd"/><stop offset="0.6204" stop-color="#0000b1"/><stop offset="0.6392" stop-color="#0d00a8"/><stop offset="0.643" stop-color="#1800a7"/><stop offset="0.6505" stop-color="#3800a3"/><stop offset="0.6618" stop-color="#63009e"/><stop offset="0.6768" stop-color="#78009b"/><stop offset="0.7219" stop-color="#83009a"/><stop offset="0.7407" stop-color="#850096"/><stop offset="0.7418" stop-color="#83009a"/><stop offset="0.743" stop-color="#0000d9"/><stop offset="0.7516" stop-color="#0000d9"/><stop offset="0.7527" stop-color="#83009a"/><stop offset="0.7587" stop-color="#83009a"/><stop offset="0.7599" stop-color="#0000b1"/><stop offset="0.767" stop-color="#0000b1"/><stop offset="0.7681" stop-color="#0000dd"/><stop offset="0.7775" stop-color="#0000dd"/><stop offset="0.7787" stop-color="#0300aa"/><stop offset="0.7896" stop-color="#0300aa"/><stop offset="0.7907" stop-color="#0000d9"/><stop offset="0.7971" stop-color="#0000d9"/><stop offset="0.7982" stop-color="#83009a"/><stop offset="0.8113" stop-color="#83009a"/><stop offset="0.8125" stop-color="#0000b1"/><stop offset="0.8192" stop-color="#0000b1"/><stop offset="0.8204" stop-color="#860097"/><stop offset="0.8264" stop-color="#860097"/><stop offset="0.8271" stop-color="#7d008e"/><stop offset="0.8275" stop-color="#770088"/><stop offset="0.8279" stop-color="#41004b"/><stop offset="0.8685" stop-color="#4b0055"/><stop offset="0.8873" stop-color="#41004b"/><stop offset="0.9248" stop-color="#41004b"/><stop offset="0.9549" stop-color="#2f0035"/><stop offset="0.9812" stop-color="#25002b"/><stop offset="1" stop-color="#1c0020"/></linearGradient><linearGradient id="g85" x1="0" x2="1" y1="0" y2="0"><stop offset="0" stop-color="#09000b"/><stop offset="0.2296" stop-color="#09000b"/><stop offset="0.2672" stop-color="#130015"/><stop offset="0.3799" stop-color="#130015"/><stop offset="0.4025" stop-color="#09000b"/><stop offset="0.5303" stop-color="#09000b"/><stop offset="0.5678" stop-color="#130015"/><stop offset="0.8271" stop-color="#130015"/><stop offset="0.8685" stop-color="#1c0020"/><stop offset="1" stop-color="#130015"/></linearGradient><linearGradient id="g86" x1="0" x2="1" y1="0" y2="0"><stop offset="0" stop-color="#130015"/><stop offset="0.1883" stop-color="#130015"/><stop offset="0.1977" stop-color="#380040"/><stop offset="0.2056" stop-color="#700080"/><stop offset="0.2078" stop-color="#7f0090"/><stop offset="0.2116" stop-color="#78009b"/><stop offset="0.2146" stop-color="#1800a7"/><stop offset="0.2221" stop-color="#0000b9"/><stop offset="0.227" stop-color="#0000dd"/><stop offset="0.2307" stop-color="#0054dd"/><stop offset="0.239" stop-color="#0088dd"/><stop offset="0.2484" stop-color="#009adb"/><stop offset="0.2559" stop-color="#00a0c7"/><stop offset="0.2616" stop-color="#00a4bb"/><stop offset="0.3724" stop-color="#00a6b7"/><stop offset="0.3799" stop-color="#00a6b7"/><stop offset="0.395" stop-color="#00a7b3"/><stop offset="0.4025" stop-color="#00a8af"/><stop offset="0.425" stop-color="#00a8af"/><stop offset="0.4551" stop-color="#00aaab"/><stop offset="0.4852" stop-color="#00aaab"/><stop offset="0.5077" stop-color="#00a7b3"/><stop offset="0.5209" stop-color="#00a4bb"/><stop offset="0.5284" stop-color="#009fcb"/><stop offset="0.5303" stop-color="#009ecf"/><stop offset="0.534" stop-color="#0098dd"/><stop offset="0.5528" stop-color="#0090dd"/><stop offset="0.5678" stop-color="#0088dd"/><stop offset="0.5829" stop-color="#0082dd"/><stop offset="0.6092" stop-color="#0070dd"/><stop offset="0.628" stop-color="#0041dd"/><stop offset="0.643" stop-color="#001cdd"/><stop offset="0.658" stop-color="#0000d5"/><stop offset="0.6806" stop-color="#0000b9"/><stop offset="0.7069" stop-color="#0d00a8"/><stop offset="0.7407" stop-color="#1800a7"/><stop offset="0.7418" stop-color="#78009b"/><stop offset="0.743" stop-color="#0000d5"/><stop offset="0.7516" stop-color="#0000d5"/><stop offset="0.7527" stop-color="#860097"/><stop offset="0.7587" stop-color="#860097"/><stop offset="0.7599" stop-color="#0000ad"/><stop offset="0.767" stop-color="#0000ad"/><stop offset="0.7681" stop-color="#0000d9"/><stop offset="0.7775" stop-color="#0000d9"/><stop offset="0.7787" stop-color="#0d00a8"/><stop offset="0.7896" stop-color="#0d00a8"/><stop offset="0.7907" stop-color="#0000d5"/><stop offset="0.7971" stop-color="#0000d5"/><stop offset="0.7982" stop-color="#860097"/><stop offset="0.8113" stop-color="#860097"/><stop offset="0.8125" stop-color="#0000ad"/><stop offset="0.8192" stop-color="#0000ad"/><stop offset="0.8204" stop-color="#850096"/><stop offset="0.8264" stop-color="#850096"/><stop offset="0.8275" stop-color="#700080"/><stop offset="0.8985" stop-color="#700080"/><stop offset="0.9286" stop-color="#5d006b"/><stop offset="0.9549" stop-color="#41004b"/><stop offset="0.9775" stop-color="#2f0035"/><stop offset="1" stop-color="#25002b"/></linearGradient></defs>
<rect x="48.80" y="28.00" width="266.10" height="16.73" fill="url(#g1)"/>
<rect x="48.80" y="44.71" width="266.10" height="16.73" fill="url(#g2)"/>
<rect x="48.80" y="61.42" width="266.10" height="16.73" fill="url(#g3)"/>
<rect x="48.80" y="78.13" width="266.10" height="16.73" fill="url(#g4)"/>
<rect x="48.80" y="94.84" width="266.10" height="16.73" fill="url(#g5)"/>
<rect x="48.80" y="111.55" width="266.10" height="16.73" fill="url(#g6)"/>
<rect x="48.80" y="128.25" width="266.10" height="16.73" fill="url(#g7)"/>
<rect x="48.80" y="144.96" width="266.10" height="16.73" fill="url(#g8)"/>
<rect x="48.80" y="161.67" width="266.10" height="16.73" fill="url(#g9)"/>
<rect x="48.80" y="178.38" width="266.10" height="16.73" fill="url(#g10)"/>
<rect x="48.80" y="195.09" width="266.10" height="16.73" fill="url(#g11)"/>
<rect x="48.80" y="211.80" width="266.10" height="16.73" fill="url(#g12)"/>
<rect x="48.80" y="228.51" width="266.10" height="16.73" fill="url(#g13)"/>
<rect x="48.80" y="245.22" width="266.10" height="16.73" fill="url(#g14)"/>
<rect x="48.80" y="261.93" width="266.10" height="16.73" fill="url(#g15)"/>
<rect x="48.80" y="278.64" width="266.10" height="16.73" fill="url(#g16)"/>
<rect x="48.80" y="295.35" width="266.10" height="16.73" fill="url(#g17)"/>
<rect x="48.80" y="312.05" width="266.10" height="16.73" fill="url(#g18)"/>
<rect x="48.80" y="328.76" width="266.10" height="16.73" fill="url(#g19)"/>
<rect x="48.80" y="345.47" width="266.10" height="16.73" fill="url(#g20)"/>
<rect x="48.80" y="362.18" width="266.10" height="16.73" fill="url(#g21)"/>
<rect x="48.80" y="378.89" width="266.10" height="16.73" fill="url(#g22)"/>
<rect x="328.90" y="28.00" width="266.10" height="16.73" fill="url(#g23)"/>
<rect x="328.90" y="44.71" width="266.10" height="16.73" fill="url(#g24)"/>
<rect x="328.90" y="61.42" width="266.10" height="16.73" fill="url(#g25)"/>
<rect x="328.90" y="78.13" width="266.10" height="16.73" fill="url(#g26)"/>
<rect x="328.90" y="94.84" width="266.10" height="16.73" fill="url(#g27)"/>
<rect x="328.90" y="111.55" width="266.10" height="16.73" fill="url(#g28)"/>
<rect x="328.90" y="128.25" width="266.10" height="16.73" fill="url(#g29)"/>
<rect x="328.90" y="144.96" width="266.10" height="16.73" fill="url(#g30)"/>
<rect x="328.90" y="161.67" width="266.10" height="16.73" fill="url(#g31)"/>
<rect x="328.90" y="178.38" width="266.10" height="16.73" fill="url(#g32)"/>
<rect x="328.90" y="195.09" width="266.10" height="16.73" fill="url(#g33)"/>
<rect x="328.90" y="211.80" width="266.10" height="16.73" fill="url(#g34)"/>
<rect x="328.90" y="228.51" width="266.10" height="16.73" fill="url(#g35)"/>
<rect x="328.90" y="245.22" width="266.10" height="16.73" fill="url(#g36)"/>
<rect x="328.90" y="261.93" width="266.10" height="16.73" fill="url(#g37)"/>
<rect x="328.90" y="278.64" width="266.10" height="16.73" fill="url(#g38)"/>
<rect x="328.90" y="295.35" width="266.10" height="16.73" fill="url(#g39)"/>
<rect x="328.90" y="312.05" width="266.10" height="16.73" fill="url(#g40)"/>
<rect x="328.90" y="328.76" width="266.10" height="16.73" fill="url(#g41)"/>
<rect x="328.90" y="345.47" width="266.10" height="16.73" fill="url(#g42)"/>
<rect x="328.90" y="362.18" width="266.10" height="16.73" fill="url(#g43)"/>
<rect x="328.90" y="378.89" width="266.10" height="16.73" fill="url(#g44)"/>
<rect x="48.80" y="44.16" width="266.10" height="1.10" fill="url(#g45)"/>
<rect x="48.80" y="60.87" width="266.10" height="1.10" fill="url(#g46)"/>
<rect x="48.80" y="77.58" width="266.10" height="1.10" fill="url(#g47)"/>
<rect x="48.80" y="94.29" width="266.10" height="1.10" fill="url(#g48)"/>
<rect x="48.80" y="111.00" width="266.10" height="1.10" fill="url(#g49)"/>
<rect x="48.80" y="127.70" width="266.10" height="1.10" fill="url(#g50)"/>
<rect x="48.80" y="144.41" width="266.10" height="1.10" fill="url(#g51)"/>
<rect x="48.80" y="161.12" width="266.10" height="1.10" fill="url(#g52)"/>
<rect x="48.80" y="177.83" width="266.10" height="1.10" fill="url(#g53)"/>
<rect x="48.80" y="194.54" width="266.10" height="1.10" fill="url(#g54)"/>
<rect x="48.80" y="211.25" width="266.10" height="1.10" fill="url(#g55)"/>
<rect x="48.80" y="227.96" width="266.10" height="1.10" fill="url(#g56)"/>
<rect x="48.80" y="244.67" width="266.10" height="1.10" fill="url(#g57)"/>
<rect x="48.80" y="261.38" width="266.10" height="1.10" fill="url(#g58)"/>
<rect x="48.80" y="278.09" width="266.10" height="1.10" fill="url(#g59)"/>
<rect x="48.80" y="294.80" width="266.10" height="1.10" fill="url(#g60)"/>
<rect x="48.80" y="311.50" width="266.10" height="1.10" fill="url(#g61)"/>
<rect x="48.80" y="328.21" width="266.10" height="1.10" fill="url(#g62)"/>
<rect x="48.80" y="344.92" width="266.10" height="1.10" fill="url(#g63)"/>
<rect x="48.80" y="361.63" width="266.10" height="1.10" fill="url(#g64)"/>
<rect x="48.80" y="378.34" width="266.10" height="1.10" fill="url(#g65)"/>
<rect x="328.90" y="44.16" width="266.10" height="1.10" fill="url(#g66)"/>
<rect x="328.90" y="60.87" width="266.10" height="1.10" fill="url(#g67)"/>
<rect x="328.90" y="77.58" width="266.10" height="1.10" fill="url(#g68)"/>
<rect x="328.90" y="94.29" width="266.10" height="1.10" fill="url(#g69)"/>
<rect x="328.90" y="111.00" width="266.10" height="1.10" fill="url(#g70)"/>
<rect x="328.90" y="127.70" width="266.10" height="1.10" fill="url(#g71)"/>
<rect x="328.90" y="144.41" width="266.10" height="1.10" fill="url(#g72)"/>
<rect x="328.90" y="161.12" width="266.10" height="1.10" fill="url(#g73)"/>
<rect x="328.90" y="177.83" width="266.10" height="1.10" fill="url(#g74)"/>
<rect x="328.90" y="194.54" width="266.10" height="1.10" fill="url(#g75)"/>
<rect x="328.90" y="211.25" width="266.10" height="1.10" fill="url(#g76)"/>
<rect x="328.90" y="227.96" width="266.10" height="1.10" fill="url(#g77)"/>
<rect x="328.90" y="244.67" width="266.10" height="1.10" fill="url(#g78)"/>
<rect x="328.90" y="261.38" width="266.10" height="1.10" fill="url(#g79)"/>
<rect x="328.90" y="278.09" width="266.10" height="1.10" fill="url(#g80)"/>
<rect x="328.90" y="294.80" width="266.10" height="1.10" fill="url(#g81)"/>
<rect x="328.90" y="311.50" width="266.10" height="1.10" fill="url(#g82)"/>
<rect x="328.90" y="328.21" width="266.10" height="1.10" fill="url(#g83)"/>
<rect x="328.90" y="344.92" width="266.10" height="1.10" fill="url(#g84)"/>
<rect x="328.90" y="361.63" width="266.10" height="1.10" fill="url(#g85)"/>
<rect x="328.90" y="378.34" width="266.10" height="1.10" fill="url(#g86)"/>
<g shape-rendering="auto"><polygon points="48.4,282.9 96.0,282.9 99.4,282.3 102.3,279.8 104.0,273.0 105.7,262.8 107.4,251.4 109.1,240.0 110.5,235.8 112.2,226.7 113.9,217.6 115.4,208.5 116.8,200.5 118.3,194.5 119.5,191.0 121.0,187.0 123.0,184.5 125.0,182.5 127.0,179.0 128.5,177.2 130.0,176.6 132.0,176.8 135.0,177.2 140.0,175.8 145.0,174.5 147.3,172.0 148.3,171.0 148.4,28.0 151.0,28.0 151.1,76.5 152.6,77.5 153.1,100.0 153.4,168.5 155.0,167.0 157.2,163.0 158.3,140.0 159.3,119.0 160.5,119.0 161.8,140.0 162.3,158.5 163.4,157.0 166.1,152.3 168.8,150.6 172.2,148.9 175.6,146.1 178.0,145.1 180.4,146.5 182.5,148.2 185.2,148.2 187.2,149.2 189.0,150.5 191.2,155.7 194.1,160.2 196.9,162.5 198.6,167.0 199.8,172.7 202.0,179.5 205.5,185.2 208.9,190.9 211.9,199.6 215.9,205.9 220.7,212.3 224.7,219.5 228.7,225.0 231.8,229.8 236.6,236.2 241.4,241.0 244.6,245.7 245.4,247.0 245.7,160.0 246.5,156.4 248.1,156.4 248.9,160.0 249.1,200.2 250.8,200.0 252.0,190.0 253.5,181.0 255.0,177.0 256.7,174.8 258.3,177.0 258.9,180.0 259.1,191.0 260.7,191.0 261.0,187.0 263.9,187.0 263.9,246.0 266.4,246.0 266.4,237.0 269.2,237.0 269.4,272.5 273.7,277.0 280.0,277.7 286.2,278.3 292.5,279.0 298.7,280.8 305.0,282.0 311.2,282.7 315.0,282.7 315.0,286.1 311.2,286.1 305.0,285.4 298.7,284.2 292.5,282.3 286.2,281.7 280.0,281.1 273.7,280.4 269.5,278.5 266.5,276.5 264.5,272.0 262.7,270.5 261.5,270.0 261.5,262.4 258.4,262.0 258.4,252.0 257.0,252.0 257.0,258.0 253.4,257.0 253.4,252.0 251.0,252.0 251.0,262.4 248.4,262.4 248.4,252.0 247.0,252.0 247.0,262.0 245.6,260.5 245.3,259.7 241.9,254.0 239.0,249.5 235.0,246.1 231.6,241.5 228.2,237.0 224.8,232.5 221.8,228.2 219.5,224.5 217.5,221.0 214.4,215.8 211.4,210.7 208.8,203.5 205.7,198.4 202.1,192.3 200.1,186.1 198.0,180.2 195.2,176.1 191.8,172.7 189.5,168.2 187.9,164.0 184.0,163.3 181.1,162.8 178.0,160.8 176.3,160.2 172.0,162.5 168.8,164.2 165.5,166.5 161.0,171.0 158.0,176.0 155.0,179.0 150.0,184.0 146.0,187.0 141.0,191.0 136.0,195.0 132.0,196.0 128.1,199.5 124.7,204.0 121.9,206.8 120.8,208.5 119.0,216.5 116.8,227.8 115.1,236.9 113.1,240.0 111.4,251.4 109.7,262.8 107.9,273.0 106.2,279.8 104.0,284.4 100.5,286.1 48.4,286.1" fill="#fff"/><polyline points="116.8,200.0 119.1,195.0 120.8,189.5 124.2,184.8 127.6,178.3 129.7,177.6 131.7,178.3 134.5,177.6 137.2,176.2 141.3,175.5 144.7,174.8 147.4,172.5 148.6,170.0" fill="none" stroke="#fff" stroke-width="2.1" stroke-linejoin="round"/><polyline points="128.3,181.3 131.7,181.8 134.5,180.0 139.9,178.6 144.0,177.0 146.4,175.4" fill="none" stroke="#00a5a5" stroke-width="1.5" stroke-linejoin="round"/><polyline points="119.6,198.5 121.5,193.5 123.5,189.5 125.5,186.5" fill="none" stroke="#0096c8" stroke-width="1.3" stroke-linejoin="round"/><polyline points="170.0,161.4 172.2,159.9 176.3,156.7 178.4,157.3 181.1,159.3 183.8,159.7 185.9,159.4 187.0,160.6" fill="none" stroke="#00b800" stroke-width="1.3" stroke-linejoin="round"/><polygon points="328.5,282.2 376.0,282.2 381.7,281.6 383.4,279.2 385.1,273.0 386.8,262.8 388.5,251.4 390.2,241.0 392.0,231.8 393.7,221.5 395.4,212.5 397.1,203.4 398.2,198.5 401.5,192.3 406.9,185.9 410.5,184.1 414.2,183.6 417.8,181.4 421.5,180.5 425.1,178.6 427.8,174.1 428.8,140.0 430.2,110.0 430.6,28.0 433.0,28.0 433.2,110.0 433.4,167.0 436.8,164.5 439.5,163.8 440.2,148.2 442.3,148.2 442.6,160.0 444.8,153.9 449.6,149.9 454.3,146.7 457.5,145.1 460.7,147.5 465.5,148.3 469.1,151.6 470.9,156.2 473.6,160.7 476.4,162.5 478.2,165.3 480.0,168.0 482.0,174.0 483.6,180.0 487.2,185.1 489.3,190.2 491.3,195.4 495.4,202.5 499.5,208.7 502.6,215.8 503.5,219.8 506.4,223.5 510.1,226.7 513.9,232.1 517.1,235.3 520.3,238.5 523.5,242.7 525.1,246.0 526.0,247.0 526.0,151.4 529.3,151.4 529.5,175.0 530.8,175.0 530.8,158.5 533.0,158.5 533.3,180.0 535.0,179.5 537.5,177.6 539.0,180.0 540.7,179.5 542.5,181.6 543.5,184.0 545.2,200.0 546.9,200.0 547.2,199.0 550.6,199.0 550.8,274.3 556.9,275.5 561.3,276.3 562.8,270.5 564.3,277.0 570.2,278.5 576.1,274.8 579.0,277.0 583.5,280.7 589.4,281.7 595.2,281.7 595.2,285.2 589.4,285.2 583.5,284.2 579.0,280.5 576.1,278.3 570.2,282.0 564.3,280.5 561.3,279.8 556.9,279.0 551.0,277.5 548.0,276.0 546.9,272.0 546.9,245.0 545.6,240.0 544.4,238.0 542.5,238.0 542.5,262.0 538.4,262.0 538.4,234.0 532.5,234.0 532.5,262.5 527.5,262.5 527.5,250.0 526.9,250.0 526.4,255.0 525.6,254.5 524.0,251.3 520.3,247.0 516.0,243.8 511.7,240.6 508.5,237.4 504.3,234.2 500.0,228.9 498.0,223.0 495.4,217.9 492.3,211.7 489.3,206.6 486.2,200.5 483.1,193.3 480.0,186.1 478.0,183.0 475.5,178.0 473.6,174.4 470.9,168.9 469.1,165.3 467.3,162.5 464.5,160.3 460.9,160.3 456.8,159.4 452.7,161.2 449.1,162.5 445.5,165.3 444.0,170.0 443.0,173.0 441.5,176.8 436.9,183.2 432.4,187.7 428.7,191.4 423.3,193.2 419.6,194.1 416.0,197.7 414.0,198.8 410.1,201.1 406.7,204.5 403.3,209.0 400.5,214.7 398.2,223.8 396.5,232.9 394.2,241.0 391.9,251.4 390.2,262.8 387.9,274.1 385.7,282.1 383.4,284.6 376.0,285.2 328.5,285.2" fill="#fff"/><polyline points="396.5,206.0 397.8,199.5 399.6,183.2 401.5,174.1 403.3,171.4 405.5,168.6 407.5,158.6 409.5,160.5 412.3,161.1 414.3,159.8 417.7,162.5 421.5,165.2 426.0,168.6 428.5,171.0" fill="none" stroke="#fff" stroke-width="2" stroke-linejoin="round"/><polyline points="440.0,177.0 441.8,171.5 447.3,168.8 455.5,167.4 459.1,169.7 461.8,172.0 466.4,173.5 470.0,176.2 474.0,180.0 477.0,184.5 478.6,188.0 480.2,192.6 483.1,198.6 486.2,203.7 488.4,208.9 491.3,215.0 494.4,221.2 496.5,226.0 500.0,232.8 504.3,238.2 508.5,242.0 512.8,246.9 517.1,251.1 521.3,255.4 524.5,259.7 526.4,261.5" fill="none" stroke="#fff" stroke-width="2" stroke-linejoin="round"/><rect x="48.6" y="28" width="1.6" height="256" fill="#fff"/><polygon points="48.6,60 50.2,60 51.1,72 51.1,284 48.6,284" fill="#fff"/><rect x="328.6" y="28" width="2.4" height="256" fill="#fff"/><rect x="48.8" y="286.4" width="1.3" height="109.2" fill="#8a00a0"/><rect x="328.9" y="286.4" width="1.3" height="109.2" fill="#8a00a0"/></g>
<g shape-rendering="auto" style="will-change:transform"><rect x="69.10" y="283.15" width="5.9" height="1.3" fill="#fff"/><text x="79.10" y="289.55" font-size="13.30" text-anchor="start" fill="#fff" >0</text><rect x="69.10" y="235.07" width="5.9" height="1.3" fill="#fff"/><text x="79.10" y="241.47" font-size="13.30" text-anchor="start" fill="#fff" >5</text><rect x="69.10" y="186.99" width="5.9" height="1.3" fill="#fff"/><text x="79.10" y="193.39" font-size="13.30" text-anchor="start" fill="#fff" >10</text><rect x="69.10" y="138.91" width="5.9" height="1.3" fill="#fff"/><text x="79.10" y="145.31" font-size="13.30" text-anchor="start" fill="#fff" >15</text><rect x="69.10" y="90.83" width="5.9" height="1.3" fill="#fff"/><text x="79.10" y="97.23" font-size="13.30" text-anchor="start" fill="#fff" >20</text><rect x="69.10" y="42.75" width="5.9" height="1.3" fill="#fff"/><text x="79.10" y="49.15" font-size="13.30" text-anchor="start" fill="#fff" >25</text><rect x="349.10" y="283.15" width="5.9" height="1.3" fill="#fff"/><text x="359.10" y="289.55" font-size="13.30" text-anchor="start" fill="#fff" >0</text><text x="317.60" y="289.55" font-size="13.30" text-anchor="end" fill="#fff" >0</text><rect x="349.10" y="235.07" width="5.9" height="1.3" fill="#fff"/><text x="359.10" y="241.47" font-size="13.30" text-anchor="start" fill="#fff" >5</text><text x="317.60" y="241.47" font-size="13.30" text-anchor="end" fill="#fff" >5</text><rect x="349.10" y="186.99" width="5.9" height="1.3" fill="#fff"/><text x="359.10" y="193.39" font-size="13.30" text-anchor="start" fill="#fff" >10</text><text x="317.60" y="193.39" font-size="13.30" text-anchor="end" fill="#fff" >10</text><rect x="349.10" y="138.91" width="5.9" height="1.3" fill="#fff"/><text x="359.10" y="145.31" font-size="13.30" text-anchor="start" fill="#fff" >15</text><text x="317.60" y="145.31" font-size="13.30" text-anchor="end" fill="#fff" >15</text><rect x="349.10" y="90.83" width="5.9" height="1.3" fill="#fff"/><text x="359.10" y="97.23" font-size="13.30" text-anchor="start" fill="#fff" >20</text><text x="317.60" y="97.23" font-size="13.30" text-anchor="end" fill="#fff" >20</text><rect x="349.10" y="42.75" width="5.9" height="1.3" fill="#fff"/><text x="359.10" y="49.15" font-size="13.30" text-anchor="start" fill="#fff" >25</text><text x="317.60" y="49.15" font-size="13.30" text-anchor="end" fill="#fff" >25</text><text transform="translate(181.4,15.5) scale(0.984,1)" font-size="16.9" text-anchor="middle" fill="#000">10.2 (Tile102=102) X</text><text transform="translate(461.6,15.5) scale(0.984,1)" font-size="16.9" text-anchor="middle" fill="#000">10.2 (Tile102=102) Y</text><text x="32.00" y="42.15" font-size="13.30" text-anchor="end" fill="#000" >On</text><text x="612.00" y="42.15" font-size="13.30" text-anchor="start" fill="#000" >On</text><text x="32.00" y="58.86" font-size="13.30" text-anchor="end" fill="#000" >Y</text><text x="612.00" y="58.86" font-size="13.30" text-anchor="start" fill="#000" >Y</text><text x="32.00" y="75.57" font-size="13.30" text-anchor="end" fill="#000" >Off</text><text x="612.00" y="75.57" font-size="13.30" text-anchor="start" fill="#000" >Off</text><text x="32.00" y="92.28" font-size="13.30" text-anchor="end" fill="#000" >P</text><text x="612.00" y="92.28" font-size="13.30" text-anchor="start" fill="#000" >P</text><text x="32.00" y="108.99" font-size="13.30" text-anchor="end" fill="#000" >O</text><text x="612.00" y="108.99" font-size="13.30" text-anchor="start" fill="#000" >O</text><text x="32.00" y="125.70" font-size="13.30" text-anchor="end" fill="#000" >N</text><text x="612.00" y="125.70" font-size="13.30" text-anchor="start" fill="#000" >N</text><text x="32.00" y="142.41" font-size="13.30" text-anchor="end" fill="#000" >M</text><text x="612.00" y="142.41" font-size="13.30" text-anchor="start" fill="#000" >M</text><text x="32.00" y="159.12" font-size="13.30" text-anchor="end" fill="#000" >L</text><text x="612.00" y="159.12" font-size="13.30" text-anchor="start" fill="#000" >L</text><text x="32.00" y="175.83" font-size="13.30" text-anchor="end" fill="#000" >K</text><text x="612.00" y="175.83" font-size="13.30" text-anchor="start" fill="#000" >K</text><text x="32.00" y="192.54" font-size="13.30" text-anchor="end" fill="#000" >J</text><text x="610.60" y="191.64" font-size="13.30" text-anchor="start" fill="#000" >J</text><text x="618.20" y="193.44" font-size="14.60" text-anchor="start" fill="#000" >**</text><text x="32.00" y="209.25" font-size="13.30" text-anchor="end" fill="#000" >I</text><text x="612.00" y="209.25" font-size="13.30" text-anchor="start" fill="#000" >I</text><text x="32.00" y="225.95" font-size="13.30" text-anchor="end" fill="#000" >H</text><text x="612.00" y="225.95" font-size="13.30" text-anchor="start" fill="#000" >H</text><text x="32.00" y="242.66" font-size="13.30" text-anchor="end" fill="#000" >G</text><text x="612.00" y="242.66" font-size="13.30" text-anchor="start" fill="#000" >G</text><text x="32.00" y="259.37" font-size="13.30" text-anchor="end" fill="#000" >F</text><text x="612.00" y="259.37" font-size="13.30" text-anchor="start" fill="#000" >F</text><text x="32.00" y="276.08" font-size="13.30" text-anchor="end" fill="#000" >E</text><text x="612.00" y="276.08" font-size="13.30" text-anchor="start" fill="#000" >E</text><text x="32.00" y="292.79" font-size="13.30" text-anchor="end" fill="#000" >D</text><text x="612.00" y="292.79" font-size="13.30" text-anchor="start" fill="#000" >D</text><text x="32.00" y="309.50" font-size="13.30" text-anchor="end" fill="#000" >C</text><text x="612.00" y="309.50" font-size="13.30" text-anchor="start" fill="#000" >C</text><text x="32.00" y="326.21" font-size="13.30" text-anchor="end" fill="#000" >B</text><text x="612.00" y="326.21" font-size="13.30" text-anchor="start" fill="#000" >B</text><text x="32.00" y="342.92" font-size="13.30" text-anchor="end" fill="#000" >A</text><text x="612.00" y="342.92" font-size="13.30" text-anchor="start" fill="#000" >A</text><text x="32.00" y="359.63" font-size="13.30" text-anchor="end" fill="#000" >Off</text><text x="612.00" y="359.63" font-size="13.30" text-anchor="start" fill="#000" >Off</text><text x="32.00" y="376.34" font-size="13.30" text-anchor="end" fill="#000" >X</text><text x="612.00" y="376.34" font-size="13.30" text-anchor="start" fill="#000" >X</text><text x="32.00" y="393.05" font-size="13.30" text-anchor="end" fill="#000" >On</text><text x="612.00" y="393.05" font-size="13.30" text-anchor="start" fill="#000" >On</text><text x="37.60" y="289.55" font-size="13.30" text-anchor="end" fill="#fff" >0</text><text x="37.60" y="241.47" font-size="13.30" text-anchor="end" fill="#fff" >5</text><text x="37.60" y="193.39" font-size="13.30" text-anchor="end" fill="#fff" >10</text><text x="37.60" y="145.31" font-size="13.30" text-anchor="end" fill="#fff" >15</text><text x="37.60" y="97.23" font-size="13.30" text-anchor="end" fill="#fff" >20</text><text x="37.60" y="49.15" font-size="13.30" text-anchor="end" fill="#fff" >25</text><text transform="translate(2.4,218.3) rotate(-90)" font-size="13.3" text-anchor="middle" fill="#000">Dipole</text><rect x="48.90" y="408.2" width="1.0" height="5.4" fill="#000"/><text transform="translate(49.40,425.8) scale(0.88,1)" font-size="10.2" text-anchor="middle" fill="#000">0</text><rect x="89.53" y="408.2" width="1.0" height="5.4" fill="#000"/><text transform="translate(90.03,425.8) scale(0.88,1)" font-size="10.2" text-anchor="middle" fill="#000">50</text><rect x="130.15" y="408.2" width="1.0" height="5.4" fill="#000"/><text transform="translate(130.65,425.8) scale(0.88,1)" font-size="10.2" text-anchor="middle" fill="#000">100</text><rect x="170.78" y="408.2" width="1.0" height="5.4" fill="#000"/><text transform="translate(171.28,425.8) scale(0.88,1)" font-size="10.2" text-anchor="middle" fill="#000">150</text><rect x="211.40" y="408.2" width="1.0" height="5.4" fill="#000"/><text transform="translate(211.90,425.8) scale(0.88,1)" font-size="10.2" text-anchor="middle" fill="#000">200</text><rect x="252.03" y="408.2" width="1.0" height="5.4" fill="#000"/><text transform="translate(252.53,425.8) scale(0.88,1)" font-size="10.2" text-anchor="middle" fill="#000">250</text><rect x="292.65" y="408.2" width="1.0" height="5.4" fill="#000"/><text transform="translate(293.15,425.8) scale(0.88,1)" font-size="10.2" text-anchor="middle" fill="#000">300</text><rect x="328.90" y="408.2" width="1.0" height="5.4" fill="#000"/><text transform="translate(329.40,425.8) scale(0.88,1)" font-size="10.2" text-anchor="middle" fill="#000">0</text><rect x="369.52" y="408.2" width="1.0" height="5.4" fill="#000"/><text transform="translate(370.02,425.8) scale(0.88,1)" font-size="10.2" text-anchor="middle" fill="#000">50</text><rect x="410.15" y="408.2" width="1.0" height="5.4" fill="#000"/><text transform="translate(410.65,425.8) scale(0.88,1)" font-size="10.2" text-anchor="middle" fill="#000">100</text><rect x="450.77" y="408.2" width="1.0" height="5.4" fill="#000"/><text transform="translate(451.27,425.8) scale(0.88,1)" font-size="10.2" text-anchor="middle" fill="#000">150</text><rect x="491.40" y="408.2" width="1.0" height="5.4" fill="#000"/><text transform="translate(491.90,425.8) scale(0.88,1)" font-size="10.2" text-anchor="middle" fill="#000">200</text><rect x="532.02" y="408.2" width="1.0" height="5.4" fill="#000"/><text transform="translate(532.52,425.8) scale(0.88,1)" font-size="10.2" text-anchor="middle" fill="#000">250</text><rect x="572.65" y="408.2" width="1.0" height="5.4" fill="#000"/><text transform="translate(573.15,425.8) scale(0.88,1)" font-size="10.2" text-anchor="middle" fill="#000">300</text></g>
</svg>
</body></html>
